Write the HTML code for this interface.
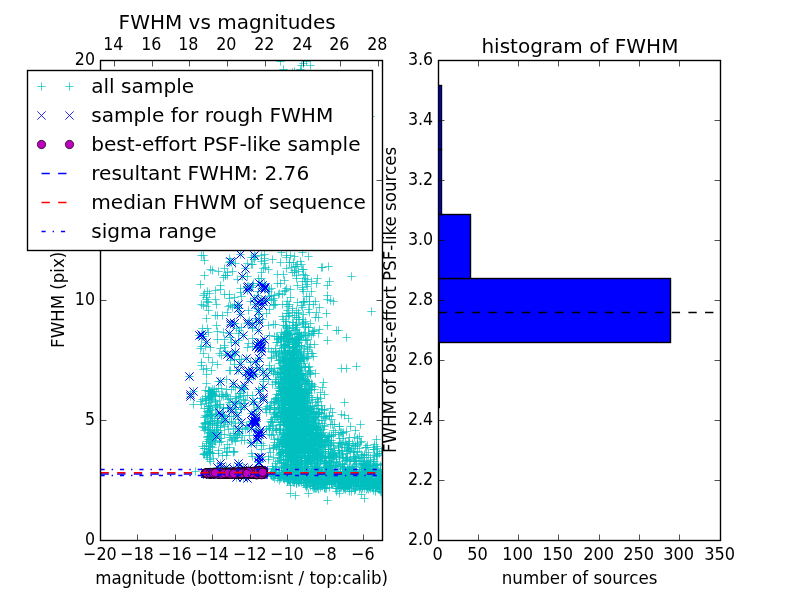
<!DOCTYPE html>
<html lang="en"><head><meta charset="utf-8"><title>FWHM vs magnitudes</title>
<style>html,body{margin:0;padding:0;background:#fff}body{width:800px;height:600px;overflow:hidden}svg{display:block}text{font-family:"DejaVu Sans","Liberation Sans",sans-serif;fill:#000}.t{font-size:16.67px}.l{font-size:20px}</style>
</head><body>
<svg width="800" height="600" viewBox="0 0 800 600">
<defs><clipPath id="c1"><rect x="100.5" y="60.5" width="282" height="480"/></clipPath><clipPath id="c2"><rect x="438.5" y="60.5" width="282" height="480"/></clipPath></defs>
<rect width="800" height="600" fill="#fff"/>
<g clip-path="url(#c1)">
<path d="M294.33 430.5h8.34M298.5 426.33v8.34M303.33 428.5h8.34M307.5 424.33v8.34M299.33 418.5h8.34M303.5 414.33v8.34M283.33 374.5h8.34M287.5 370.33v8.34M295.33 398.5h8.34M299.5 394.33v8.34M292.33 349.5h8.34M296.5 345.33v8.34M303.33 444.5h8.34M307.5 440.33v8.34M294.33 413.5h8.34M298.5 409.33v8.34M284.33 374.5h8.34M288.5 370.33v8.34M292.33 447.5h8.34M296.5 443.33v8.34M291.33 474.5h8.34M295.5 470.33v8.34M293.33 368.5h8.34M297.5 364.33v8.34M295.33 431.5h8.34M299.5 427.33v8.34M296.33 449.5h8.34M300.5 445.33v8.34M288.33 344.5h8.34M292.5 340.33v8.34M299.33 403.5h8.34M303.5 399.33v8.34M280.33 378.5h8.34M284.5 374.33v8.34M265.33 448.5h8.34M269.5 444.33v8.34M287.33 379.5h8.34M291.5 375.33v8.34M293.33 372.5h8.34M297.5 368.33v8.34M288.33 338.5h8.34M292.5 334.33v8.34M304.33 452.5h8.34M308.5 448.33v8.34M279.33 416.5h8.34M283.5 412.33v8.34M279.33 391.5h8.34M283.5 387.33v8.34M288.33 365.5h8.34M292.5 361.33v8.34M282.33 372.5h8.34M286.5 368.33v8.34M314.33 456.5h8.34M318.5 452.33v8.34M298.33 411.5h8.34M302.5 407.33v8.34M291.33 339.5h8.34M295.5 335.33v8.34M278.33 357.5h8.34M282.5 353.33v8.34M291.33 445.5h8.34M295.5 441.33v8.34M290.33 447.5h8.34M294.5 443.33v8.34M295.33 361.5h8.34M299.5 357.33v8.34M287.33 411.5h8.34M291.5 407.33v8.34M286.33 369.5h8.34M290.5 365.33v8.34M271.33 381.5h8.34M275.5 377.33v8.34M293.33 426.5h8.34M297.5 422.33v8.34M281.33 439.5h8.34M285.5 435.33v8.34M299.33 403.5h8.34M303.5 399.33v8.34M306.33 445.5h8.34M310.5 441.33v8.34M294.33 440.5h8.34M298.5 436.33v8.34M313.33 456.5h8.34M317.5 452.33v8.34M293.33 419.5h8.34M297.5 415.33v8.34M295.33 417.5h8.34M299.5 413.33v8.34M294.33 405.5h8.34M298.5 401.33v8.34M291.33 400.5h8.34M295.5 396.33v8.34M278.33 401.5h8.34M282.5 397.33v8.34M284.33 427.5h8.34M288.5 423.33v8.34M280.33 394.5h8.34M284.5 390.33v8.34M294.33 396.5h8.34M298.5 392.33v8.34M280.33 424.5h8.34M284.5 420.33v8.34M296.33 452.5h8.34M300.5 448.33v8.34M291.33 385.5h8.34M295.5 381.33v8.34M296.33 374.5h8.34M300.5 370.33v8.34M285.33 389.5h8.34M289.5 385.33v8.34M286.33 450.5h8.34M290.5 446.33v8.34M281.33 411.5h8.34M285.5 407.33v8.34M298.33 395.5h8.34M302.5 391.33v8.34M335.33 442.5h8.34M339.5 438.33v8.34M280.33 333.5h8.34M284.5 329.33v8.34M300.33 407.5h8.34M304.5 403.33v8.34M291.33 417.5h8.34M295.5 413.33v8.34M289.33 428.5h8.34M293.5 424.33v8.34M290.33 439.5h8.34M294.5 435.33v8.34M285.33 447.5h8.34M289.5 443.33v8.34M290.33 386.5h8.34M294.5 382.33v8.34M283.33 466.5h8.34M287.5 462.33v8.34M286.33 448.5h8.34M290.5 444.33v8.34M289.33 374.5h8.34M293.5 370.33v8.34M307.33 472.5h8.34M311.5 468.33v8.34M281.33 392.5h8.34M285.5 388.33v8.34M285.33 403.5h8.34M289.5 399.33v8.34M292.33 384.5h8.34M296.5 380.33v8.34M289.33 380.5h8.34M293.5 376.33v8.34M280.33 411.5h8.34M284.5 407.33v8.34M280.33 380.5h8.34M284.5 376.33v8.34M286.33 428.5h8.34M290.5 424.33v8.34M285.33 383.5h8.34M289.5 379.33v8.34M290.33 364.5h8.34M294.5 360.33v8.34M297.33 420.5h8.34M301.5 416.33v8.34M274.33 388.5h8.34M278.5 384.33v8.34M276.33 379.5h8.34M280.5 375.33v8.34M294.33 465.5h8.34M298.5 461.33v8.34M287.33 362.5h8.34M291.5 358.33v8.34M289.33 409.5h8.34M293.5 405.33v8.34M306.33 434.5h8.34M310.5 430.33v8.34M294.33 373.5h8.34M298.5 369.33v8.34M295.33 428.5h8.34M299.5 424.33v8.34M287.33 394.5h8.34M291.5 390.33v8.34M304.33 356.5h8.34M308.5 352.33v8.34M283.33 344.5h8.34M287.5 340.33v8.34M283.33 334.5h8.34M287.5 330.33v8.34M293.33 417.5h8.34M297.5 413.33v8.34M289.33 357.5h8.34M293.5 353.33v8.34M291.33 467.5h8.34M295.5 463.33v8.34M301.33 393.5h8.34M305.5 389.33v8.34M282.33 451.5h8.34M286.5 447.33v8.34M277.33 382.5h8.34M281.5 378.33v8.34M280.33 395.5h8.34M284.5 391.33v8.34M299.33 451.5h8.34M303.5 447.33v8.34M297.33 449.5h8.34M301.5 445.33v8.34M307.33 383.5h8.34M311.5 379.33v8.34M282.33 327.5h8.34M286.5 323.33v8.34M292.33 451.5h8.34M296.5 447.33v8.34M287.33 468.5h8.34M291.5 464.33v8.34M281.33 414.5h8.34M285.5 410.33v8.34M307.33 353.5h8.34M311.5 349.33v8.34M282.33 377.5h8.34M286.5 373.33v8.34M281.33 413.5h8.34M285.5 409.33v8.34M275.33 480.5h8.34M279.5 476.33v8.34M288.33 385.5h8.34M292.5 381.33v8.34M304.33 451.5h8.34M308.5 447.33v8.34M296.33 360.5h8.34M300.5 356.33v8.34M297.33 396.5h8.34M301.5 392.33v8.34M286.33 418.5h8.34M290.5 414.33v8.34M285.33 325.5h8.34M289.5 321.33v8.34M272.33 356.5h8.34M276.5 352.33v8.34M297.33 373.5h8.34M301.5 369.33v8.34M290.33 423.5h8.34M294.5 419.33v8.34M288.33 393.5h8.34M292.5 389.33v8.34M301.33 458.5h8.34M305.5 454.33v8.34M290.33 401.5h8.34M294.5 397.33v8.34M292.33 423.5h8.34M296.5 419.33v8.34M283.33 397.5h8.34M287.5 393.33v8.34M294.33 385.5h8.34M298.5 381.33v8.34M280.33 344.5h8.34M284.5 340.33v8.34M292.33 408.5h8.34M296.5 404.33v8.34M306.33 450.5h8.34M310.5 446.33v8.34M287.33 374.5h8.34M291.5 370.33v8.34M284.33 433.5h8.34M288.5 429.33v8.34M294.33 410.5h8.34M298.5 406.33v8.34M295.33 345.5h8.34M299.5 341.33v8.34M290.33 422.5h8.34M294.5 418.33v8.34M285.33 439.5h8.34M289.5 435.33v8.34M285.33 352.5h8.34M289.5 348.33v8.34M297.33 437.5h8.34M301.5 433.33v8.34M288.33 434.5h8.34M292.5 430.33v8.34M311.33 416.5h8.34M315.5 412.33v8.34M283.33 440.5h8.34M287.5 436.33v8.34M293.33 438.5h8.34M297.5 434.33v8.34M298.33 446.5h8.34M302.5 442.33v8.34M292.33 422.5h8.34M296.5 418.33v8.34M288.33 410.5h8.34M292.5 406.33v8.34M284.33 432.5h8.34M288.5 428.33v8.34M305.33 390.5h8.34M309.5 386.33v8.34M297.33 412.5h8.34M301.5 408.33v8.34M294.33 361.5h8.34M298.5 357.33v8.34M285.33 439.5h8.34M289.5 435.33v8.34M292.33 360.5h8.34M296.5 356.33v8.34M288.33 397.5h8.34M292.5 393.33v8.34M289.33 474.5h8.34M293.5 470.33v8.34M306.33 439.5h8.34M310.5 435.33v8.34M280.33 361.5h8.34M284.5 357.33v8.34M293.33 439.5h8.34M297.5 435.33v8.34M288.33 394.5h8.34M292.5 390.33v8.34M303.33 426.5h8.34M307.5 422.33v8.34M299.33 416.5h8.34M303.5 412.33v8.34M291.33 396.5h8.34M295.5 392.33v8.34M300.33 407.5h8.34M304.5 403.33v8.34M285.33 394.5h8.34M289.5 390.33v8.34M288.33 408.5h8.34M292.5 404.33v8.34M284.33 395.5h8.34M288.5 391.33v8.34M321.33 457.5h8.34M325.5 453.33v8.34M285.33 420.5h8.34M289.5 416.33v8.34M307.33 419.5h8.34M311.5 415.33v8.34M285.33 435.5h8.34M289.5 431.33v8.34M303.33 436.5h8.34M307.5 432.33v8.34M296.33 404.5h8.34M300.5 400.33v8.34M296.33 446.5h8.34M300.5 442.33v8.34M287.33 400.5h8.34M291.5 396.33v8.34M297.33 422.5h8.34M301.5 418.33v8.34M297.33 388.5h8.34M301.5 384.33v8.34M305.33 418.5h8.34M309.5 414.33v8.34M289.33 411.5h8.34M293.5 407.33v8.34M316.33 436.5h8.34M320.5 432.33v8.34M295.33 391.5h8.34M299.5 387.33v8.34M279.33 358.5h8.34M283.5 354.33v8.34M288.33 346.5h8.34M292.5 342.33v8.34M301.33 474.5h8.34M305.5 470.33v8.34M291.33 424.5h8.34M295.5 420.33v8.34M288.33 423.5h8.34M292.5 419.33v8.34M292.33 357.5h8.34M296.5 353.33v8.34M303.33 339.5h8.34M307.5 335.33v8.34M283.33 465.5h8.34M287.5 461.33v8.34M297.33 444.5h8.34M301.5 440.33v8.34M286.33 383.5h8.34M290.5 379.33v8.34M282.33 313.5h8.34M286.5 309.33v8.34M292.33 431.5h8.34M296.5 427.33v8.34M291.33 352.5h8.34M295.5 348.33v8.34M288.33 386.5h8.34M292.5 382.33v8.34M301.33 432.5h8.34M305.5 428.33v8.34M299.33 429.5h8.34M303.5 425.33v8.34M287.33 416.5h8.34M291.5 412.33v8.34M302.33 450.5h8.34M306.5 446.33v8.34M308.33 459.5h8.34M312.5 455.33v8.34M290.33 395.5h8.34M294.5 391.33v8.34M292.33 436.5h8.34M296.5 432.33v8.34M298.33 415.5h8.34M302.5 411.33v8.34M304.33 430.5h8.34M308.5 426.33v8.34M290.33 411.5h8.34M294.5 407.33v8.34M287.33 464.5h8.34M291.5 460.33v8.34M294.33 333.5h8.34M298.5 329.33v8.34M289.33 426.5h8.34M293.5 422.33v8.34M298.33 424.5h8.34M302.5 420.33v8.34M295.33 347.5h8.34M299.5 343.33v8.34M285.33 393.5h8.34M289.5 389.33v8.34M281.33 410.5h8.34M285.5 406.33v8.34M283.33 446.5h8.34M287.5 442.33v8.34M281.33 471.5h8.34M285.5 467.33v8.34M294.33 367.5h8.34M298.5 363.33v8.34M287.33 428.5h8.34M291.5 424.33v8.34M294.33 446.5h8.34M298.5 442.33v8.34M285.33 368.5h8.34M289.5 364.33v8.34M279.33 353.5h8.34M283.5 349.33v8.34M296.33 455.5h8.34M300.5 451.33v8.34M284.33 397.5h8.34M288.5 393.33v8.34M288.33 387.5h8.34M292.5 383.33v8.34M295.33 446.5h8.34M299.5 442.33v8.34M291.33 409.5h8.34M295.5 405.33v8.34M301.33 441.5h8.34M305.5 437.33v8.34M287.33 367.5h8.34M291.5 363.33v8.34M289.33 444.5h8.34M293.5 440.33v8.34M294.33 468.5h8.34M298.5 464.33v8.34M297.33 412.5h8.34M301.5 408.33v8.34M304.33 456.5h8.34M308.5 452.33v8.34M293.33 455.5h8.34M297.5 451.33v8.34M293.33 440.5h8.34M297.5 436.33v8.34M286.33 379.5h8.34M290.5 375.33v8.34M300.33 453.5h8.34M304.5 449.33v8.34M292.33 453.5h8.34M296.5 449.33v8.34M290.33 315.5h8.34M294.5 311.33v8.34M290.33 436.5h8.34M294.5 432.33v8.34M288.33 370.5h8.34M292.5 366.33v8.34M291.33 441.5h8.34M295.5 437.33v8.34M307.33 432.5h8.34M311.5 428.33v8.34M302.33 417.5h8.34M306.5 413.33v8.34M322.33 472.5h8.34M326.5 468.33v8.34M281.33 384.5h8.34M285.5 380.33v8.34M276.33 377.5h8.34M280.5 373.33v8.34M312.33 412.5h8.34M316.5 408.33v8.34M299.33 436.5h8.34M303.5 432.33v8.34M282.33 444.5h8.34M286.5 440.33v8.34M287.33 417.5h8.34M291.5 413.33v8.34M294.33 464.5h8.34M298.5 460.33v8.34M297.33 423.5h8.34M301.5 419.33v8.34M296.33 460.5h8.34M300.5 456.33v8.34M298.33 436.5h8.34M302.5 432.33v8.34M311.33 454.5h8.34M315.5 450.33v8.34M288.33 457.5h8.34M292.5 453.33v8.34M296.33 375.5h8.34M300.5 371.33v8.34M292.33 442.5h8.34M296.5 438.33v8.34M292.33 445.5h8.34M296.5 441.33v8.34M299.33 444.5h8.34M303.5 440.33v8.34M270.33 368.5h8.34M274.5 364.33v8.34M282.33 409.5h8.34M286.5 405.33v8.34M300.33 395.5h8.34M304.5 391.33v8.34M305.33 425.5h8.34M309.5 421.33v8.34M296.33 471.5h8.34M300.5 467.33v8.34M279.33 463.5h8.34M283.5 459.33v8.34M294.33 391.5h8.34M298.5 387.33v8.34M285.33 479.5h8.34M289.5 475.33v8.34M302.33 422.5h8.34M306.5 418.33v8.34M293.33 474.5h8.34M297.5 470.33v8.34M287.33 389.5h8.34M291.5 385.33v8.34M285.33 363.5h8.34M289.5 359.33v8.34M281.33 422.5h8.34M285.5 418.33v8.34M292.33 361.5h8.34M296.5 357.33v8.34M283.33 437.5h8.34M287.5 433.33v8.34M313.33 397.5h8.34M317.5 393.33v8.34M289.33 347.5h8.34M293.5 343.33v8.34M282.33 394.5h8.34M286.5 390.33v8.34M286.33 408.5h8.34M290.5 404.33v8.34M286.33 458.5h8.34M290.5 454.33v8.34M306.33 464.5h8.34M310.5 460.33v8.34M293.33 386.5h8.34M297.5 382.33v8.34M297.33 336.5h8.34M301.5 332.33v8.34M286.33 388.5h8.34M290.5 384.33v8.34M295.33 390.5h8.34M299.5 386.33v8.34M296.33 447.5h8.34M300.5 443.33v8.34M283.33 420.5h8.34M287.5 416.33v8.34M301.33 409.5h8.34M305.5 405.33v8.34M279.33 372.5h8.34M283.5 368.33v8.34M289.33 380.5h8.34M293.5 376.33v8.34M292.33 418.5h8.34M296.5 414.33v8.34M288.33 339.5h8.34M292.5 335.33v8.34M288.33 416.5h8.34M292.5 412.33v8.34M281.33 446.5h8.34M285.5 442.33v8.34M278.33 382.5h8.34M282.5 378.33v8.34M291.33 470.5h8.34M295.5 466.33v8.34M278.33 401.5h8.34M282.5 397.33v8.34M303.33 389.5h8.34M307.5 385.33v8.34M300.33 410.5h8.34M304.5 406.33v8.34M316.33 398.5h8.34M320.5 394.33v8.34M282.33 358.5h8.34M286.5 354.33v8.34M300.33 447.5h8.34M304.5 443.33v8.34M297.33 346.5h8.34M301.5 342.33v8.34M288.33 459.5h8.34M292.5 455.33v8.34M300.33 483.5h8.34M304.5 479.33v8.34M301.33 429.5h8.34M305.5 425.33v8.34M299.33 412.5h8.34M303.5 408.33v8.34M278.33 449.5h8.34M282.5 445.33v8.34M306.33 408.5h8.34M310.5 404.33v8.34M280.33 336.5h8.34M284.5 332.33v8.34M285.33 430.5h8.34M289.5 426.33v8.34M279.33 400.5h8.34M283.5 396.33v8.34M288.33 422.5h8.34M292.5 418.33v8.34M319.33 452.5h8.34M323.5 448.33v8.34M287.33 411.5h8.34M291.5 407.33v8.34M301.33 446.5h8.34M305.5 442.33v8.34M288.33 390.5h8.34M292.5 386.33v8.34M312.33 439.5h8.34M316.5 435.33v8.34M307.33 461.5h8.34M311.5 457.33v8.34M306.33 425.5h8.34M310.5 421.33v8.34M275.33 446.5h8.34M279.5 442.33v8.34M296.33 398.5h8.34M300.5 394.33v8.34M304.33 393.5h8.34M308.5 389.33v8.34M299.33 419.5h8.34M303.5 415.33v8.34M296.33 424.5h8.34M300.5 420.33v8.34M307.33 413.5h8.34M311.5 409.33v8.34M285.33 418.5h8.34M289.5 414.33v8.34M276.33 393.5h8.34M280.5 389.33v8.34M283.33 431.5h8.34M287.5 427.33v8.34M276.33 422.5h8.34M280.5 418.33v8.34M326.33 455.5h8.34M330.5 451.33v8.34M281.33 380.5h8.34M285.5 376.33v8.34M313.33 414.5h8.34M317.5 410.33v8.34M314.33 452.5h8.34M318.5 448.33v8.34M291.33 395.5h8.34M295.5 391.33v8.34M289.33 343.5h8.34M293.5 339.33v8.34M297.33 448.5h8.34M301.5 444.33v8.34M295.33 384.5h8.34M299.5 380.33v8.34M295.33 404.5h8.34M299.5 400.33v8.34M307.33 397.5h8.34M311.5 393.33v8.34M282.33 372.5h8.34M286.5 368.33v8.34M286.33 362.5h8.34M290.5 358.33v8.34M284.33 412.5h8.34M288.5 408.33v8.34M283.33 468.5h8.34M287.5 464.33v8.34M292.33 403.5h8.34M296.5 399.33v8.34M298.33 407.5h8.34M302.5 403.33v8.34M282.33 433.5h8.34M286.5 429.33v8.34M307.33 385.5h8.34M311.5 381.33v8.34M285.33 420.5h8.34M289.5 416.33v8.34M291.33 457.5h8.34M295.5 453.33v8.34M296.33 444.5h8.34M300.5 440.33v8.34M282.33 447.5h8.34M286.5 443.33v8.34M325.33 462.5h8.34M329.5 458.33v8.34M293.33 426.5h8.34M297.5 422.33v8.34M280.33 467.5h8.34M284.5 463.33v8.34M294.33 432.5h8.34M298.5 428.33v8.34M288.33 372.5h8.34M292.5 368.33v8.34M299.33 427.5h8.34M303.5 423.33v8.34M304.33 442.5h8.34M308.5 438.33v8.34M289.33 434.5h8.34M293.5 430.33v8.34M314.33 436.5h8.34M318.5 432.33v8.34M283.33 451.5h8.34M287.5 447.33v8.34M294.33 369.5h8.34M298.5 365.33v8.34M321.33 437.5h8.34M325.5 433.33v8.34M297.33 386.5h8.34M301.5 382.33v8.34M306.33 406.5h8.34M310.5 402.33v8.34M288.33 437.5h8.34M292.5 433.33v8.34M285.33 360.5h8.34M289.5 356.33v8.34M300.33 466.5h8.34M304.5 462.33v8.34M285.33 386.5h8.34M289.5 382.33v8.34M276.33 388.5h8.34M280.5 384.33v8.34M308.33 441.5h8.34M312.5 437.33v8.34M301.33 389.5h8.34M305.5 385.33v8.34M298.33 399.5h8.34M302.5 395.33v8.34M274.33 439.5h8.34M278.5 435.33v8.34M278.33 390.5h8.34M282.5 386.33v8.34M291.33 441.5h8.34M295.5 437.33v8.34M285.33 365.5h8.34M289.5 361.33v8.34M288.33 419.5h8.34M292.5 415.33v8.34M281.33 437.5h8.34M285.5 433.33v8.34M294.33 433.5h8.34M298.5 429.33v8.34M296.33 360.5h8.34M300.5 356.33v8.34M296.33 457.5h8.34M300.5 453.33v8.34M282.33 372.5h8.34M286.5 368.33v8.34M286.33 460.5h8.34M290.5 456.33v8.34M287.33 376.5h8.34M291.5 372.33v8.34M289.33 382.5h8.34M293.5 378.33v8.34M284.33 409.5h8.34M288.5 405.33v8.34M270.33 412.5h8.34M274.5 408.33v8.34M291.33 413.5h8.34M295.5 409.33v8.34M288.33 375.5h8.34M292.5 371.33v8.34M299.33 402.5h8.34M303.5 398.33v8.34M287.33 456.5h8.34M291.5 452.33v8.34M306.33 478.5h8.34M310.5 474.33v8.34M280.33 440.5h8.34M284.5 436.33v8.34M292.33 428.5h8.34M296.5 424.33v8.34M281.33 413.5h8.34M285.5 409.33v8.34M275.33 351.5h8.34M279.5 347.33v8.34M281.33 439.5h8.34M285.5 435.33v8.34M301.33 376.5h8.34M305.5 372.33v8.34M287.33 452.5h8.34M291.5 448.33v8.34M279.33 459.5h8.34M283.5 455.33v8.34M289.33 420.5h8.34M293.5 416.33v8.34M284.33 347.5h8.34M288.5 343.33v8.34M277.33 373.5h8.34M281.5 369.33v8.34M295.33 386.5h8.34M299.5 382.33v8.34M292.33 449.5h8.34M296.5 445.33v8.34M292.33 442.5h8.34M296.5 438.33v8.34M269.33 324.5h8.34M273.5 320.33v8.34M303.33 381.5h8.34M307.5 377.33v8.34M289.33 393.5h8.34M293.5 389.33v8.34M284.33 410.5h8.34M288.5 406.33v8.34M284.33 421.5h8.34M288.5 417.33v8.34M310.33 386.5h8.34M314.5 382.33v8.34M303.33 397.5h8.34M307.5 393.33v8.34M283.33 386.5h8.34M287.5 382.33v8.34M284.33 452.5h8.34M288.5 448.33v8.34M300.33 400.5h8.34M304.5 396.33v8.34M298.33 468.5h8.34M302.5 464.33v8.34M279.33 369.5h8.34M283.5 365.33v8.34M298.33 395.5h8.34M302.5 391.33v8.34M296.33 391.5h8.34M300.5 387.33v8.34M312.33 426.5h8.34M316.5 422.33v8.34M285.33 401.5h8.34M289.5 397.33v8.34M296.33 462.5h8.34M300.5 458.33v8.34M293.33 417.5h8.34M297.5 413.33v8.34M321.33 445.5h8.34M325.5 441.33v8.34M283.33 436.5h8.34M287.5 432.33v8.34M292.33 399.5h8.34M296.5 395.33v8.34M325.33 471.5h8.34M329.5 467.33v8.34M286.33 436.5h8.34M290.5 432.33v8.34M296.33 395.5h8.34M300.5 391.33v8.34M305.33 372.5h8.34M309.5 368.33v8.34M275.33 444.5h8.34M279.5 440.33v8.34M279.33 405.5h8.34M283.5 401.33v8.34M283.33 391.5h8.34M287.5 387.33v8.34M303.33 407.5h8.34M307.5 403.33v8.34M290.33 378.5h8.34M294.5 374.33v8.34M292.33 463.5h8.34M296.5 459.33v8.34M282.33 441.5h8.34M286.5 437.33v8.34M317.33 441.5h8.34M321.5 437.33v8.34M301.33 452.5h8.34M305.5 448.33v8.34M291.33 407.5h8.34M295.5 403.33v8.34M290.33 453.5h8.34M294.5 449.33v8.34M290.33 437.5h8.34M294.5 433.33v8.34M291.33 432.5h8.34M295.5 428.33v8.34M274.33 400.5h8.34M278.5 396.33v8.34M308.33 420.5h8.34M312.5 416.33v8.34M303.33 374.5h8.34M307.5 370.33v8.34M303.33 349.5h8.34M307.5 345.33v8.34M288.33 394.5h8.34M292.5 390.33v8.34M291.33 467.5h8.34M295.5 463.33v8.34M284.33 340.5h8.34M288.5 336.33v8.34M291.33 386.5h8.34M295.5 382.33v8.34M287.33 360.5h8.34M291.5 356.33v8.34M291.33 376.5h8.34M295.5 372.33v8.34M278.33 444.5h8.34M282.5 440.33v8.34M287.33 383.5h8.34M291.5 379.33v8.34M280.33 436.5h8.34M284.5 432.33v8.34M283.33 399.5h8.34M287.5 395.33v8.34M289.33 464.5h8.34M293.5 460.33v8.34M288.33 394.5h8.34M292.5 390.33v8.34M303.33 411.5h8.34M307.5 407.33v8.34M302.33 383.5h8.34M306.5 379.33v8.34M286.33 430.5h8.34M290.5 426.33v8.34M298.33 418.5h8.34M302.5 414.33v8.34M280.33 444.5h8.34M284.5 440.33v8.34M279.33 361.5h8.34M283.5 357.33v8.34M302.33 422.5h8.34M306.5 418.33v8.34M280.33 387.5h8.34M284.5 383.33v8.34M286.33 359.5h8.34M290.5 355.33v8.34M287.33 400.5h8.34M291.5 396.33v8.34M289.33 427.5h8.34M293.5 423.33v8.34M315.33 446.5h8.34M319.5 442.33v8.34M305.33 431.5h8.34M309.5 427.33v8.34M310.33 438.5h8.34M314.5 434.33v8.34M283.33 413.5h8.34M287.5 409.33v8.34M293.33 379.5h8.34M297.5 375.33v8.34M281.33 449.5h8.34M285.5 445.33v8.34M286.33 386.5h8.34M290.5 382.33v8.34M284.33 338.5h8.34M288.5 334.33v8.34M302.33 419.5h8.34M306.5 415.33v8.34M295.33 461.5h8.34M299.5 457.33v8.34M283.33 392.5h8.34M287.5 388.33v8.34M297.33 421.5h8.34M301.5 417.33v8.34M301.33 380.5h8.34M305.5 376.33v8.34M304.33 431.5h8.34M308.5 427.33v8.34M282.33 439.5h8.34M286.5 435.33v8.34M283.33 455.5h8.34M287.5 451.33v8.34M299.33 431.5h8.34M303.5 427.33v8.34M288.33 449.5h8.34M292.5 445.33v8.34M274.33 419.5h8.34M278.5 415.33v8.34M300.33 348.5h8.34M304.5 344.33v8.34M314.33 401.5h8.34M318.5 397.33v8.34M302.33 409.5h8.34M306.5 405.33v8.34M296.33 370.5h8.34M300.5 366.33v8.34M293.33 378.5h8.34M297.5 374.33v8.34M296.33 424.5h8.34M300.5 420.33v8.34M290.33 421.5h8.34M294.5 417.33v8.34M297.33 391.5h8.34M301.5 387.33v8.34M277.33 391.5h8.34M281.5 387.33v8.34M281.33 371.5h8.34M285.5 367.33v8.34M291.33 393.5h8.34M295.5 389.33v8.34M272.33 446.5h8.34M276.5 442.33v8.34M309.33 435.5h8.34M313.5 431.33v8.34M295.33 391.5h8.34M299.5 387.33v8.34M288.33 450.5h8.34M292.5 446.33v8.34M291.33 340.5h8.34M295.5 336.33v8.34M305.33 400.5h8.34M309.5 396.33v8.34M294.33 423.5h8.34M298.5 419.33v8.34M289.33 422.5h8.34M293.5 418.33v8.34M285.33 441.5h8.34M289.5 437.33v8.34M274.33 354.5h8.34M278.5 350.33v8.34M305.33 347.5h8.34M309.5 343.33v8.34M304.33 425.5h8.34M308.5 421.33v8.34M284.33 398.5h8.34M288.5 394.33v8.34M286.33 404.5h8.34M290.5 400.33v8.34M282.33 380.5h8.34M286.5 376.33v8.34M294.33 426.5h8.34M298.5 422.33v8.34M308.33 432.5h8.34M312.5 428.33v8.34M293.33 381.5h8.34M297.5 377.33v8.34M292.33 419.5h8.34M296.5 415.33v8.34M293.33 340.5h8.34M297.5 336.33v8.34M299.33 393.5h8.34M303.5 389.33v8.34M281.33 345.5h8.34M285.5 341.33v8.34M292.33 455.5h8.34M296.5 451.33v8.34M286.33 403.5h8.34M290.5 399.33v8.34M301.33 470.5h8.34M305.5 466.33v8.34M290.33 412.5h8.34M294.5 408.33v8.34M288.33 405.5h8.34M292.5 401.33v8.34M290.33 450.5h8.34M294.5 446.33v8.34M289.33 441.5h8.34M293.5 437.33v8.34M277.33 419.5h8.34M281.5 415.33v8.34M296.33 432.5h8.34M300.5 428.33v8.34M291.33 465.5h8.34M295.5 461.33v8.34M294.33 474.5h8.34M298.5 470.33v8.34M293.33 380.5h8.34M297.5 376.33v8.34M281.33 400.5h8.34M285.5 396.33v8.34M288.33 364.5h8.34M292.5 360.33v8.34M309.33 476.5h8.34M313.5 472.33v8.34M298.33 421.5h8.34M302.5 417.33v8.34M293.33 469.5h8.34M297.5 465.33v8.34M289.33 389.5h8.34M293.5 385.33v8.34M292.33 426.5h8.34M296.5 422.33v8.34M306.33 373.5h8.34M310.5 369.33v8.34M282.33 398.5h8.34M286.5 394.33v8.34M292.33 424.5h8.34M296.5 420.33v8.34M288.33 410.5h8.34M292.5 406.33v8.34M283.33 424.5h8.34M287.5 420.33v8.34M306.33 370.5h8.34M310.5 366.33v8.34M306.33 374.5h8.34M310.5 370.33v8.34M299.33 430.5h8.34M303.5 426.33v8.34M293.33 390.5h8.34M297.5 386.33v8.34M312.33 405.5h8.34M316.5 401.33v8.34M285.33 415.5h8.34M289.5 411.33v8.34M297.33 395.5h8.34M301.5 391.33v8.34M284.33 363.5h8.34M288.5 359.33v8.34M299.33 446.5h8.34M303.5 442.33v8.34M291.33 435.5h8.34M295.5 431.33v8.34M285.33 382.5h8.34M289.5 378.33v8.34M281.33 351.5h8.34M285.5 347.33v8.34M305.33 441.5h8.34M309.5 437.33v8.34M277.33 445.5h8.34M281.5 441.33v8.34M280.33 347.5h8.34M284.5 343.33v8.34M294.33 409.5h8.34M298.5 405.33v8.34M307.33 443.5h8.34M311.5 439.33v8.34M275.33 408.5h8.34M279.5 404.33v8.34M320.33 426.5h8.34M324.5 422.33v8.34M277.33 470.5h8.34M281.5 466.33v8.34M283.33 444.5h8.34M287.5 440.33v8.34M298.33 455.5h8.34M302.5 451.33v8.34M280.33 377.5h8.34M284.5 373.33v8.34M276.33 424.5h8.34M280.5 420.33v8.34M285.33 435.5h8.34M289.5 431.33v8.34M317.33 420.5h8.34M321.5 416.33v8.34M284.33 442.5h8.34M288.5 438.33v8.34M269.33 373.5h8.34M273.5 369.33v8.34M284.33 370.5h8.34M288.5 366.33v8.34M279.33 378.5h8.34M283.5 374.33v8.34M286.33 421.5h8.34M290.5 417.33v8.34M281.33 378.5h8.34M285.5 374.33v8.34M289.33 392.5h8.34M293.5 388.33v8.34M277.33 391.5h8.34M281.5 387.33v8.34M306.33 389.5h8.34M310.5 385.33v8.34M279.33 419.5h8.34M283.5 415.33v8.34M286.33 457.5h8.34M290.5 453.33v8.34M302.33 417.5h8.34M306.5 413.33v8.34M289.33 403.5h8.34M293.5 399.33v8.34M295.33 443.5h8.34M299.5 439.33v8.34M310.33 425.5h8.34M314.5 421.33v8.34M286.33 450.5h8.34M290.5 446.33v8.34M290.33 420.5h8.34M294.5 416.33v8.34M310.33 459.5h8.34M314.5 455.33v8.34M286.33 399.5h8.34M290.5 395.33v8.34M298.33 412.5h8.34M302.5 408.33v8.34M299.33 419.5h8.34M303.5 415.33v8.34M273.33 416.5h8.34M277.5 412.33v8.34M307.33 449.5h8.34M311.5 445.33v8.34M288.33 382.5h8.34M292.5 378.33v8.34M284.33 414.5h8.34M288.5 410.33v8.34M304.33 411.5h8.34M308.5 407.33v8.34M281.33 394.5h8.34M285.5 390.33v8.34M285.33 390.5h8.34M289.5 386.33v8.34M281.33 456.5h8.34M285.5 452.33v8.34M280.33 415.5h8.34M284.5 411.33v8.34M297.33 456.5h8.34M301.5 452.33v8.34M296.33 398.5h8.34M300.5 394.33v8.34M281.33 359.5h8.34M285.5 355.33v8.34M272.33 353.5h8.34M276.5 349.33v8.34M292.33 398.5h8.34M296.5 394.33v8.34M290.33 393.5h8.34M294.5 389.33v8.34M281.33 376.5h8.34M285.5 372.33v8.34M272.33 379.5h8.34M276.5 375.33v8.34M279.33 422.5h8.34M283.5 418.33v8.34M284.33 404.5h8.34M288.5 400.33v8.34M290.33 395.5h8.34M294.5 391.33v8.34M290.33 470.5h8.34M294.5 466.33v8.34M285.33 452.5h8.34M289.5 448.33v8.34M299.33 423.5h8.34M303.5 419.33v8.34M281.33 425.5h8.34M285.5 421.33v8.34M278.33 376.5h8.34M282.5 372.33v8.34M279.33 377.5h8.34M283.5 373.33v8.34M301.33 440.5h8.34M305.5 436.33v8.34M292.33 384.5h8.34M296.5 380.33v8.34M283.33 393.5h8.34M287.5 389.33v8.34M299.33 335.5h8.34M303.5 331.33v8.34M311.33 419.5h8.34M315.5 415.33v8.34M305.33 452.5h8.34M309.5 448.33v8.34M314.33 429.5h8.34M318.5 425.33v8.34M285.33 393.5h8.34M289.5 389.33v8.34M306.33 411.5h8.34M310.5 407.33v8.34M297.33 402.5h8.34M301.5 398.33v8.34M285.33 457.5h8.34M289.5 453.33v8.34M296.33 373.5h8.34M300.5 369.33v8.34M279.33 437.5h8.34M283.5 433.33v8.34M276.33 337.5h8.34M280.5 333.33v8.34M287.33 418.5h8.34M291.5 414.33v8.34M304.33 452.5h8.34M308.5 448.33v8.34M290.33 452.5h8.34M294.5 448.33v8.34M296.33 439.5h8.34M300.5 435.33v8.34M300.33 470.5h8.34M304.5 466.33v8.34M290.33 425.5h8.34M294.5 421.33v8.34M286.33 371.5h8.34M290.5 367.33v8.34M300.33 359.5h8.34M304.5 355.33v8.34M278.33 451.5h8.34M282.5 447.33v8.34M306.33 434.5h8.34M310.5 430.33v8.34M285.33 454.5h8.34M289.5 450.33v8.34M318.33 423.5h8.34M322.5 419.33v8.34M283.33 368.5h8.34M287.5 364.33v8.34M279.33 434.5h8.34M283.5 430.33v8.34M297.33 400.5h8.34M301.5 396.33v8.34M276.33 430.5h8.34M280.5 426.33v8.34M320.33 394.5h8.34M324.5 390.33v8.34M285.33 402.5h8.34M289.5 398.33v8.34M277.33 412.5h8.34M281.5 408.33v8.34M289.33 445.5h8.34M293.5 441.33v8.34M301.33 476.5h8.34M305.5 472.33v8.34M275.33 363.5h8.34M279.5 359.33v8.34M302.33 416.5h8.34M306.5 412.33v8.34M285.33 374.5h8.34M289.5 370.33v8.34M294.33 479.5h8.34M298.5 475.33v8.34M286.33 466.5h8.34M290.5 462.33v8.34M290.33 350.5h8.34M294.5 346.33v8.34M286.33 453.5h8.34M290.5 449.33v8.34M294.33 358.5h8.34M298.5 354.33v8.34M289.33 452.5h8.34M293.5 448.33v8.34M292.33 340.5h8.34M296.5 336.33v8.34M292.33 374.5h8.34M296.5 370.33v8.34M287.33 403.5h8.34M291.5 399.33v8.34M299.33 429.5h8.34M303.5 425.33v8.34M269.33 371.5h8.34M273.5 367.33v8.34M279.33 336.5h8.34M283.5 332.33v8.34M297.33 394.5h8.34M301.5 390.33v8.34M295.33 375.5h8.34M299.5 371.33v8.34M311.33 444.5h8.34M315.5 440.33v8.34M279.33 362.5h8.34M283.5 358.33v8.34M287.33 439.5h8.34M291.5 435.33v8.34M304.33 426.5h8.34M308.5 422.33v8.34M305.33 437.5h8.34M309.5 433.33v8.34M282.33 440.5h8.34M286.5 436.33v8.34M283.33 439.5h8.34M287.5 435.33v8.34M288.33 445.5h8.34M292.5 441.33v8.34M274.33 383.5h8.34M278.5 379.33v8.34M300.33 438.5h8.34M304.5 434.33v8.34M299.33 406.5h8.34M303.5 402.33v8.34M279.33 452.5h8.34M283.5 448.33v8.34M296.33 447.5h8.34M300.5 443.33v8.34M293.33 357.5h8.34M297.5 353.33v8.34M285.33 430.5h8.34M289.5 426.33v8.34M287.33 412.5h8.34M291.5 408.33v8.34M285.33 350.5h8.34M289.5 346.33v8.34M292.33 438.5h8.34M296.5 434.33v8.34M280.33 462.5h8.34M284.5 458.33v8.34M307.33 409.5h8.34M311.5 405.33v8.34M305.33 432.5h8.34M309.5 428.33v8.34M286.33 472.5h8.34M290.5 468.33v8.34M288.33 363.5h8.34M292.5 359.33v8.34M288.33 468.5h8.34M292.5 464.33v8.34M289.33 447.5h8.34M293.5 443.33v8.34M281.33 414.5h8.34M285.5 410.33v8.34M284.33 387.5h8.34M288.5 383.33v8.34M281.33 419.5h8.34M285.5 415.33v8.34M310.33 437.5h8.34M314.5 433.33v8.34M307.33 387.5h8.34M311.5 383.33v8.34M291.33 443.5h8.34M295.5 439.33v8.34M315.33 435.5h8.34M319.5 431.33v8.34M279.33 442.5h8.34M283.5 438.33v8.34M300.33 431.5h8.34M304.5 427.33v8.34M281.33 437.5h8.34M285.5 433.33v8.34M288.33 359.5h8.34M292.5 355.33v8.34M304.33 432.5h8.34M308.5 428.33v8.34M313.33 405.5h8.34M317.5 401.33v8.34M303.33 395.5h8.34M307.5 391.33v8.34M290.33 454.5h8.34M294.5 450.33v8.34M269.33 425.5h8.34M273.5 421.33v8.34M299.33 433.5h8.34M303.5 429.33v8.34M277.33 411.5h8.34M281.5 407.33v8.34M289.33 461.5h8.34M293.5 457.33v8.34M294.33 382.5h8.34M298.5 378.33v8.34M293.33 477.5h8.34M297.5 473.33v8.34M287.33 434.5h8.34M291.5 430.33v8.34M304.33 334.5h8.34M308.5 330.33v8.34M280.33 411.5h8.34M284.5 407.33v8.34M287.33 377.5h8.34M291.5 373.33v8.34M310.33 440.5h8.34M314.5 436.33v8.34M307.33 428.5h8.34M311.5 424.33v8.34M284.33 440.5h8.34M288.5 436.33v8.34M293.33 422.5h8.34M297.5 418.33v8.34M289.33 362.5h8.34M293.5 358.33v8.34M285.33 440.5h8.34M289.5 436.33v8.34M292.33 457.5h8.34M296.5 453.33v8.34M286.33 374.5h8.34M290.5 370.33v8.34M293.33 429.5h8.34M297.5 425.33v8.34M296.33 423.5h8.34M300.5 419.33v8.34M279.33 369.5h8.34M283.5 365.33v8.34M288.33 341.5h8.34M292.5 337.33v8.34M296.33 476.5h8.34M300.5 472.33v8.34M327.33 419.5h8.34M331.5 415.33v8.34M299.33 411.5h8.34M303.5 407.33v8.34M278.33 387.5h8.34M282.5 383.33v8.34M288.33 414.5h8.34M292.5 410.33v8.34M287.33 411.5h8.34M291.5 407.33v8.34M291.33 344.5h8.34M295.5 340.33v8.34M281.33 358.5h8.34M285.5 354.33v8.34M293.33 391.5h8.34M297.5 387.33v8.34M301.33 415.5h8.34M305.5 411.33v8.34M277.33 345.5h8.34M281.5 341.33v8.34M326.33 461.5h8.34M330.5 457.33v8.34M282.33 366.5h8.34M286.5 362.33v8.34M303.33 466.5h8.34M307.5 462.33v8.34M320.33 417.5h8.34M324.5 413.33v8.34M290.33 438.5h8.34M294.5 434.33v8.34M311.33 423.5h8.34M315.5 419.33v8.34M288.33 382.5h8.34M292.5 378.33v8.34M279.33 398.5h8.34M283.5 394.33v8.34M283.33 439.5h8.34M287.5 435.33v8.34M309.33 477.5h8.34M313.5 473.33v8.34M284.33 354.5h8.34M288.5 350.33v8.34M285.33 421.5h8.34M289.5 417.33v8.34M292.33 380.5h8.34M296.5 376.33v8.34M298.33 378.5h8.34M302.5 374.33v8.34M293.33 451.5h8.34M297.5 447.33v8.34M289.33 456.5h8.34M293.5 452.33v8.34M287.33 462.5h8.34M291.5 458.33v8.34M281.33 379.5h8.34M285.5 375.33v8.34M310.33 462.5h8.34M314.5 458.33v8.34M280.33 414.5h8.34M284.5 410.33v8.34M280.33 366.5h8.34M284.5 362.33v8.34M313.33 458.5h8.34M317.5 454.33v8.34M291.33 414.5h8.34M295.5 410.33v8.34M274.33 449.5h8.34M278.5 445.33v8.34M296.33 356.5h8.34M300.5 352.33v8.34M294.33 390.5h8.34M298.5 386.33v8.34M303.33 403.5h8.34M307.5 399.33v8.34M295.33 406.5h8.34M299.5 402.33v8.34M314.33 437.5h8.34M318.5 433.33v8.34M285.33 427.5h8.34M289.5 423.33v8.34M289.33 475.5h8.34M293.5 471.33v8.34M292.33 408.5h8.34M296.5 404.33v8.34M285.33 449.5h8.34M289.5 445.33v8.34M295.33 332.5h8.34M299.5 328.33v8.34M314.33 447.5h8.34M318.5 443.33v8.34M301.33 436.5h8.34M305.5 432.33v8.34M303.33 455.5h8.34M307.5 451.33v8.34M308.33 445.5h8.34M312.5 441.33v8.34M294.33 422.5h8.34M298.5 418.33v8.34M287.33 393.5h8.34M291.5 389.33v8.34M293.33 419.5h8.34M297.5 415.33v8.34M309.33 451.5h8.34M313.5 447.33v8.34M284.33 366.5h8.34M288.5 362.33v8.34M288.33 369.5h8.34M292.5 365.33v8.34M312.33 430.5h8.34M316.5 426.33v8.34M285.33 338.5h8.34M289.5 334.33v8.34M290.33 404.5h8.34M294.5 400.33v8.34M282.33 411.5h8.34M286.5 407.33v8.34M297.33 354.5h8.34M301.5 350.33v8.34M314.33 430.5h8.34M318.5 426.33v8.34M303.33 346.5h8.34M307.5 342.33v8.34M297.33 384.5h8.34M301.5 380.33v8.34M292.33 467.5h8.34M296.5 463.33v8.34M290.33 414.5h8.34M294.5 410.33v8.34M301.33 419.5h8.34M305.5 415.33v8.34M288.33 427.5h8.34M292.5 423.33v8.34M303.33 420.5h8.34M307.5 416.33v8.34M275.33 387.5h8.34M279.5 383.33v8.34M274.33 394.5h8.34M278.5 390.33v8.34M304.33 476.5h8.34M308.5 472.33v8.34M291.33 382.5h8.34M295.5 378.33v8.34M317.33 413.5h8.34M321.5 409.33v8.34M305.33 414.5h8.34M309.5 410.33v8.34M295.33 334.5h8.34M299.5 330.33v8.34M296.33 405.5h8.34M300.5 401.33v8.34M306.33 433.5h8.34M310.5 429.33v8.34M310.33 408.5h8.34M314.5 404.33v8.34M293.33 436.5h8.34M297.5 432.33v8.34M297.33 418.5h8.34M301.5 414.33v8.34M298.33 388.5h8.34M302.5 384.33v8.34M283.33 429.5h8.34M287.5 425.33v8.34M280.33 371.5h8.34M284.5 367.33v8.34M301.33 335.5h8.34M305.5 331.33v8.34M286.33 439.5h8.34M290.5 435.33v8.34M285.33 443.5h8.34M289.5 439.33v8.34M302.33 397.5h8.34M306.5 393.33v8.34M306.33 425.5h8.34M310.5 421.33v8.34M300.33 440.5h8.34M304.5 436.33v8.34M295.33 477.5h8.34M299.5 473.33v8.34M306.33 453.5h8.34M310.5 449.33v8.34M294.33 342.5h8.34M298.5 338.33v8.34M289.33 363.5h8.34M293.5 359.33v8.34M296.33 407.5h8.34M300.5 403.33v8.34M321.33 453.5h8.34M325.5 449.33v8.34M272.33 430.5h8.34M276.5 426.33v8.34M271.33 351.5h8.34M275.5 347.33v8.34M276.33 359.5h8.34M280.5 355.33v8.34M288.33 395.5h8.34M292.5 391.33v8.34M283.33 354.5h8.34M287.5 350.33v8.34M289.33 373.5h8.34M293.5 369.33v8.34M303.33 426.5h8.34M307.5 422.33v8.34M282.33 450.5h8.34M286.5 446.33v8.34M284.33 382.5h8.34M288.5 378.33v8.34M315.33 435.5h8.34M319.5 431.33v8.34M285.33 412.5h8.34M289.5 408.33v8.34M290.33 438.5h8.34M294.5 434.33v8.34M277.33 372.5h8.34M281.5 368.33v8.34M287.33 436.5h8.34M291.5 432.33v8.34M295.33 452.5h8.34M299.5 448.33v8.34M304.33 381.5h8.34M308.5 377.33v8.34M280.33 367.5h8.34M284.5 363.33v8.34M305.33 395.5h8.34M309.5 391.33v8.34M305.33 409.5h8.34M309.5 405.33v8.34M283.33 419.5h8.34M287.5 415.33v8.34M317.33 409.5h8.34M321.5 405.33v8.34M288.33 422.5h8.34M292.5 418.33v8.34M302.33 417.5h8.34M306.5 413.33v8.34M308.33 384.5h8.34M312.5 380.33v8.34M288.33 348.5h8.34M292.5 344.33v8.34M283.33 363.5h8.34M287.5 359.33v8.34M301.33 389.5h8.34M305.5 385.33v8.34M304.33 388.5h8.34M308.5 384.33v8.34M293.33 408.5h8.34M297.5 404.33v8.34M303.33 452.5h8.34M307.5 448.33v8.34M284.33 376.5h8.34M288.5 372.33v8.34M293.33 439.5h8.34M297.5 435.33v8.34M280.33 393.5h8.34M284.5 389.33v8.34M298.33 466.5h8.34M302.5 462.33v8.34M293.33 433.5h8.34M297.5 429.33v8.34M290.33 415.5h8.34M294.5 411.33v8.34M302.33 420.5h8.34M306.5 416.33v8.34M291.33 410.5h8.34M295.5 406.33v8.34M281.33 432.5h8.34M285.5 428.33v8.34M283.33 400.5h8.34M287.5 396.33v8.34M281.33 464.5h8.34M285.5 460.33v8.34M287.33 419.5h8.34M291.5 415.33v8.34M296.33 450.5h8.34M300.5 446.33v8.34M297.33 463.5h8.34M301.5 459.33v8.34M307.33 466.5h8.34M311.5 462.33v8.34M292.33 428.5h8.34M296.5 424.33v8.34M282.33 442.5h8.34M286.5 438.33v8.34M286.33 384.5h8.34M290.5 380.33v8.34M279.33 405.5h8.34M283.5 401.33v8.34M290.33 387.5h8.34M294.5 383.33v8.34M302.33 429.5h8.34M306.5 425.33v8.34M303.33 463.5h8.34M307.5 459.33v8.34M303.33 417.5h8.34M307.5 413.33v8.34M302.33 460.5h8.34M306.5 456.33v8.34M280.33 417.5h8.34M284.5 413.33v8.34M300.33 465.5h8.34M304.5 461.33v8.34M293.33 449.5h8.34M297.5 445.33v8.34M284.33 445.5h8.34M288.5 441.33v8.34M287.33 405.5h8.34M291.5 401.33v8.34M296.33 480.5h8.34M300.5 476.33v8.34M287.33 433.5h8.34M291.5 429.33v8.34M296.33 466.5h8.34M300.5 462.33v8.34M300.33 474.5h8.34M304.5 470.33v8.34M304.33 444.5h8.34M308.5 440.33v8.34M318.33 434.5h8.34M322.5 430.33v8.34M294.33 355.5h8.34M298.5 351.33v8.34M294.33 444.5h8.34M298.5 440.33v8.34M296.33 352.5h8.34M300.5 348.33v8.34M285.33 339.5h8.34M289.5 335.33v8.34M286.33 461.5h8.34M290.5 457.33v8.34M296.33 406.5h8.34M300.5 402.33v8.34M277.33 350.5h8.34M281.5 346.33v8.34M292.33 360.5h8.34M296.5 356.33v8.34M304.33 371.5h8.34M308.5 367.33v8.34M308.33 399.5h8.34M312.5 395.33v8.34M281.33 422.5h8.34M285.5 418.33v8.34M287.33 427.5h8.34M291.5 423.33v8.34M277.33 386.5h8.34M281.5 382.33v8.34M294.33 399.5h8.34M298.5 395.33v8.34M289.33 410.5h8.34M293.5 406.33v8.34M284.33 398.5h8.34M288.5 394.33v8.34M290.33 400.5h8.34M294.5 396.33v8.34M287.33 408.5h8.34M291.5 404.33v8.34M279.33 400.5h8.34M283.5 396.33v8.34M293.33 450.5h8.34M297.5 446.33v8.34M298.33 423.5h8.34M302.5 419.33v8.34M287.33 364.5h8.34M291.5 360.33v8.34M309.33 432.5h8.34M313.5 428.33v8.34M279.33 410.5h8.34M283.5 406.33v8.34M290.33 383.5h8.34M294.5 379.33v8.34M282.33 429.5h8.34M286.5 425.33v8.34M300.33 405.5h8.34M304.5 401.33v8.34M293.33 385.5h8.34M297.5 381.33v8.34M314.33 464.5h8.34M318.5 460.33v8.34M287.33 357.5h8.34M291.5 353.33v8.34M280.33 410.5h8.34M284.5 406.33v8.34M280.33 361.5h8.34M284.5 357.33v8.34M291.33 442.5h8.34M295.5 438.33v8.34M289.33 366.5h8.34M293.5 362.33v8.34M288.33 327.5h8.34M292.5 323.33v8.34M311.33 434.5h8.34M315.5 430.33v8.34M288.33 407.5h8.34M292.5 403.33v8.34M292.33 444.5h8.34M296.5 440.33v8.34M325.33 445.5h8.34M329.5 441.33v8.34M288.33 411.5h8.34M292.5 407.33v8.34M310.33 417.5h8.34M314.5 413.33v8.34M273.33 402.5h8.34M277.5 398.33v8.34M294.33 442.5h8.34M298.5 438.33v8.34M287.33 403.5h8.34M291.5 399.33v8.34M287.33 395.5h8.34M291.5 391.33v8.34M295.33 409.5h8.34M299.5 405.33v8.34M299.33 411.5h8.34M303.5 407.33v8.34M281.33 371.5h8.34M285.5 367.33v8.34M287.33 433.5h8.34M291.5 429.33v8.34M290.33 405.5h8.34M294.5 401.33v8.34M295.33 337.5h8.34M299.5 333.33v8.34M292.33 353.5h8.34M296.5 349.33v8.34M300.33 389.5h8.34M304.5 385.33v8.34M301.33 401.5h8.34M305.5 397.33v8.34M274.33 338.5h8.34M278.5 334.33v8.34M322.33 416.5h8.34M326.5 412.33v8.34M286.33 470.5h8.34M290.5 466.33v8.34M296.33 419.5h8.34M300.5 415.33v8.34M308.33 446.5h8.34M312.5 442.33v8.34M282.33 362.5h8.34M286.5 358.33v8.34M291.33 456.5h8.34M295.5 452.33v8.34M291.33 452.5h8.34M295.5 448.33v8.34M300.33 413.5h8.34M304.5 409.33v8.34M309.33 421.5h8.34M313.5 417.33v8.34M292.33 430.5h8.34M296.5 426.33v8.34M286.33 337.5h8.34M290.5 333.33v8.34M304.33 411.5h8.34M308.5 407.33v8.34M291.33 427.5h8.34M295.5 423.33v8.34M293.33 398.5h8.34M297.5 394.33v8.34M295.33 447.5h8.34M299.5 443.33v8.34M326.33 476.5h8.34M330.5 472.33v8.34M291.33 373.5h8.34M295.5 369.33v8.34M285.33 376.5h8.34M289.5 372.33v8.34M295.33 437.5h8.34M299.5 433.33v8.34M282.33 401.5h8.34M286.5 397.33v8.34M276.33 367.5h8.34M280.5 363.33v8.34M279.33 379.5h8.34M283.5 375.33v8.34M292.33 434.5h8.34M296.5 430.33v8.34M301.33 405.5h8.34M305.5 401.33v8.34M282.33 331.5h8.34M286.5 327.33v8.34M315.33 412.5h8.34M319.5 408.33v8.34M283.33 335.5h8.34M287.5 331.33v8.34M292.33 366.5h8.34M296.5 362.33v8.34M301.33 415.5h8.34M305.5 411.33v8.34M295.33 412.5h8.34M299.5 408.33v8.34M293.33 426.5h8.34M297.5 422.33v8.34M291.33 346.5h8.34M295.5 342.33v8.34M291.33 419.5h8.34M295.5 415.33v8.34M280.33 419.5h8.34M284.5 415.33v8.34M290.33 418.5h8.34M294.5 414.33v8.34M317.33 435.5h8.34M321.5 431.33v8.34M283.33 439.5h8.34M287.5 435.33v8.34M307.33 389.5h8.34M311.5 385.33v8.34M278.33 397.5h8.34M282.5 393.33v8.34M317.33 440.5h8.34M321.5 436.33v8.34M301.33 394.5h8.34M305.5 390.33v8.34M285.33 370.5h8.34M289.5 366.33v8.34M300.33 442.5h8.34M304.5 438.33v8.34M283.33 444.5h8.34M287.5 440.33v8.34M282.33 425.5h8.34M286.5 421.33v8.34M289.33 353.5h8.34M293.5 349.33v8.34M285.33 354.5h8.34M289.5 350.33v8.34M284.33 342.5h8.34M288.5 338.33v8.34M290.33 408.5h8.34M294.5 404.33v8.34M285.33 442.5h8.34M289.5 438.33v8.34M276.33 377.5h8.34M280.5 373.33v8.34M326.33 444.5h8.34M330.5 440.33v8.34M282.33 443.5h8.34M286.5 439.33v8.34M304.33 421.5h8.34M308.5 417.33v8.34M275.33 390.5h8.34M279.5 386.33v8.34M286.33 419.5h8.34M290.5 415.33v8.34M292.33 366.5h8.34M296.5 362.33v8.34M307.33 386.5h8.34M311.5 382.33v8.34M284.33 453.5h8.34M288.5 449.33v8.34M296.33 444.5h8.34M300.5 440.33v8.34M287.33 434.5h8.34M291.5 430.33v8.34M278.33 415.5h8.34M282.5 411.33v8.34M314.33 472.5h8.34M318.5 468.33v8.34M311.33 422.5h8.34M315.5 418.33v8.34M289.33 425.5h8.34M293.5 421.33v8.34M304.33 459.5h8.34M308.5 455.33v8.34M281.33 367.5h8.34M285.5 363.33v8.34M289.33 414.5h8.34M293.5 410.33v8.34M283.33 423.5h8.34M287.5 419.33v8.34M287.33 400.5h8.34M291.5 396.33v8.34M295.33 339.5h8.34M299.5 335.33v8.34M280.33 440.5h8.34M284.5 436.33v8.34M276.33 453.5h8.34M280.5 449.33v8.34M286.33 468.5h8.34M290.5 464.33v8.34M298.33 419.5h8.34M302.5 415.33v8.34M297.33 355.5h8.34M301.5 351.33v8.34M287.33 422.5h8.34M291.5 418.33v8.34M290.33 385.5h8.34M294.5 381.33v8.34M292.33 412.5h8.34M296.5 408.33v8.34M289.33 398.5h8.34M293.5 394.33v8.34M290.33 449.5h8.34M294.5 445.33v8.34M313.33 429.5h8.34M317.5 425.33v8.34M290.33 388.5h8.34M294.5 384.33v8.34M288.33 364.5h8.34M292.5 360.33v8.34M291.33 373.5h8.34M295.5 369.33v8.34M289.33 392.5h8.34M293.5 388.33v8.34M291.33 438.5h8.34M295.5 434.33v8.34M289.33 356.5h8.34M293.5 352.33v8.34M282.33 418.5h8.34M286.5 414.33v8.34M299.33 410.5h8.34M303.5 406.33v8.34M284.33 466.5h8.34M288.5 462.33v8.34M316.33 461.5h8.34M320.5 457.33v8.34M288.33 425.5h8.34M292.5 421.33v8.34M309.33 478.5h8.34M313.5 474.33v8.34M301.33 382.5h8.34M305.5 378.33v8.34M283.33 464.5h8.34M287.5 460.33v8.34M294.33 359.5h8.34M298.5 355.33v8.34M290.33 367.5h8.34M294.5 363.33v8.34M304.33 367.5h8.34M308.5 363.33v8.34M290.33 434.5h8.34M294.5 430.33v8.34M287.33 402.5h8.34M291.5 398.33v8.34M286.33 459.5h8.34M290.5 455.33v8.34M293.33 392.5h8.34M297.5 388.33v8.34M291.33 419.5h8.34M295.5 415.33v8.34M297.33 425.5h8.34M301.5 421.33v8.34M303.33 358.5h8.34M307.5 354.33v8.34M295.33 419.5h8.34M299.5 415.33v8.34M300.33 461.5h8.34M304.5 457.33v8.34M288.33 423.5h8.34M292.5 419.33v8.34M289.33 365.5h8.34M293.5 361.33v8.34M279.33 368.5h8.34M283.5 364.33v8.34M293.33 418.5h8.34M297.5 414.33v8.34M294.33 407.5h8.34M298.5 403.33v8.34M302.33 357.5h8.34M306.5 353.33v8.34M282.33 389.5h8.34M286.5 385.33v8.34M291.33 432.5h8.34M295.5 428.33v8.34M286.33 350.5h8.34M290.5 346.33v8.34M288.33 455.5h8.34M292.5 451.33v8.34M293.33 412.5h8.34M297.5 408.33v8.34M296.33 389.5h8.34M300.5 385.33v8.34M317.33 433.5h8.34M321.5 429.33v8.34M301.33 411.5h8.34M305.5 407.33v8.34M312.33 467.5h8.34M316.5 463.33v8.34M285.33 334.5h8.34M289.5 330.33v8.34M273.33 444.5h8.34M277.5 440.33v8.34M285.33 471.5h8.34M289.5 467.33v8.34M288.33 467.5h8.34M292.5 463.33v8.34M296.33 457.5h8.34M300.5 453.33v8.34M308.33 458.5h8.34M312.5 454.33v8.34M296.33 440.5h8.34M300.5 436.33v8.34M281.33 471.5h8.34M285.5 467.33v8.34M294.33 440.5h8.34M298.5 436.33v8.34M293.33 376.5h8.34M297.5 372.33v8.34M286.33 407.5h8.34M290.5 403.33v8.34M290.33 365.5h8.34M294.5 361.33v8.34M292.33 425.5h8.34M296.5 421.33v8.34M292.33 317.5h8.34M296.5 313.33v8.34M310.33 443.5h8.34M314.5 439.33v8.34M280.33 388.5h8.34M284.5 384.33v8.34M284.33 386.5h8.34M288.5 382.33v8.34M275.33 446.5h8.34M279.5 442.33v8.34M293.33 425.5h8.34M297.5 421.33v8.34M297.33 456.5h8.34M301.5 452.33v8.34M293.33 409.5h8.34M297.5 405.33v8.34M299.33 429.5h8.34M303.5 425.33v8.34M298.33 450.5h8.34M302.5 446.33v8.34M278.33 365.5h8.34M282.5 361.33v8.34M290.33 361.5h8.34M294.5 357.33v8.34M293.33 464.5h8.34M297.5 460.33v8.34M287.33 424.5h8.34M291.5 420.33v8.34M279.33 408.5h8.34M283.5 404.33v8.34M285.33 400.5h8.34M289.5 396.33v8.34M280.33 347.5h8.34M284.5 343.33v8.34M317.33 405.5h8.34M321.5 401.33v8.34M294.33 470.5h8.34M298.5 466.33v8.34M289.33 421.5h8.34M293.5 417.33v8.34M316.33 430.5h8.34M320.5 426.33v8.34M280.33 368.5h8.34M284.5 364.33v8.34M285.33 421.5h8.34M289.5 417.33v8.34M286.33 429.5h8.34M290.5 425.33v8.34M301.33 380.5h8.34M305.5 376.33v8.34M290.33 334.5h8.34M294.5 330.33v8.34M292.33 404.5h8.34M296.5 400.33v8.34M296.33 426.5h8.34M300.5 422.33v8.34M296.33 450.5h8.34M300.5 446.33v8.34M287.33 359.5h8.34M291.5 355.33v8.34M297.33 450.5h8.34M301.5 446.33v8.34M296.33 436.5h8.34M300.5 432.33v8.34M278.33 468.5h8.34M282.5 464.33v8.34M291.33 403.5h8.34M295.5 399.33v8.34M284.33 448.5h8.34M288.5 444.33v8.34M286.33 371.5h8.34M290.5 367.33v8.34M277.33 417.5h8.34M281.5 413.33v8.34M302.33 414.5h8.34M306.5 410.33v8.34M309.33 411.5h8.34M313.5 407.33v8.34M293.33 438.5h8.34M297.5 434.33v8.34M285.33 360.5h8.34M289.5 356.33v8.34M275.33 360.5h8.34M279.5 356.33v8.34M292.33 435.5h8.34M296.5 431.33v8.34M279.33 384.5h8.34M283.5 380.33v8.34M297.33 419.5h8.34M301.5 415.33v8.34M286.33 447.5h8.34M290.5 443.33v8.34M284.33 477.5h8.34M288.5 473.33v8.34M279.33 462.5h8.34M283.5 458.33v8.34M291.33 415.5h8.34M295.5 411.33v8.34M317.33 436.5h8.34M321.5 432.33v8.34M304.33 402.5h8.34M308.5 398.33v8.34M295.33 441.5h8.34M299.5 437.33v8.34M299.33 430.5h8.34M303.5 426.33v8.34M292.33 340.5h8.34M296.5 336.33v8.34M294.33 406.5h8.34M298.5 402.33v8.34M286.33 375.5h8.34M290.5 371.33v8.34M299.33 421.5h8.34M303.5 417.33v8.34M308.33 475.5h8.34M312.5 471.33v8.34M291.33 435.5h8.34M295.5 431.33v8.34M295.33 466.5h8.34M299.5 462.33v8.34M309.33 425.5h8.34M313.5 421.33v8.34M299.33 419.5h8.34M303.5 415.33v8.34M296.33 440.5h8.34M300.5 436.33v8.34M292.33 433.5h8.34M296.5 429.33v8.34M279.33 424.5h8.34M283.5 420.33v8.34M293.33 437.5h8.34M297.5 433.33v8.34M311.33 440.5h8.34M315.5 436.33v8.34M279.33 460.5h8.34M283.5 456.33v8.34M305.33 383.5h8.34M309.5 379.33v8.34M300.33 452.5h8.34M304.5 448.33v8.34M302.33 441.5h8.34M306.5 437.33v8.34M280.33 347.5h8.34M284.5 343.33v8.34M283.33 394.5h8.34M287.5 390.33v8.34M303.33 425.5h8.34M307.5 421.33v8.34M300.33 398.5h8.34M304.5 394.33v8.34M302.33 474.5h8.34M306.5 470.33v8.34M292.33 394.5h8.34M296.5 390.33v8.34M287.33 439.5h8.34M291.5 435.33v8.34M285.33 383.5h8.34M289.5 379.33v8.34M289.33 381.5h8.34M293.5 377.33v8.34M291.33 463.5h8.34M295.5 459.33v8.34M313.33 482.5h8.34M317.5 478.33v8.34M290.33 414.5h8.34M294.5 410.33v8.34M293.33 397.5h8.34M297.5 393.33v8.34M289.33 408.5h8.34M293.5 404.33v8.34M277.33 406.5h8.34M281.5 402.33v8.34M290.33 468.5h8.34M294.5 464.33v8.34M285.33 419.5h8.34M289.5 415.33v8.34M271.33 348.5h8.34M275.5 344.33v8.34M296.33 430.5h8.34M300.5 426.33v8.34M308.33 440.5h8.34M312.5 436.33v8.34M292.33 453.5h8.34M296.5 449.33v8.34M296.33 375.5h8.34M300.5 371.33v8.34M282.33 395.5h8.34M286.5 391.33v8.34M282.33 443.5h8.34M286.5 439.33v8.34M281.33 332.5h8.34M285.5 328.33v8.34M282.33 321.5h8.34M286.5 317.33v8.34M294.33 373.5h8.34M298.5 369.33v8.34M280.33 400.5h8.34M284.5 396.33v8.34M312.33 453.5h8.34M316.5 449.33v8.34M302.33 427.5h8.34M306.5 423.33v8.34M284.33 426.5h8.34M288.5 422.33v8.34M301.33 395.5h8.34M305.5 391.33v8.34M280.33 399.5h8.34M284.5 395.33v8.34M276.33 368.5h8.34M280.5 364.33v8.34M298.33 443.5h8.34M302.5 439.33v8.34M281.33 405.5h8.34M285.5 401.33v8.34M289.33 434.5h8.34M293.5 430.33v8.34M280.33 374.5h8.34M284.5 370.33v8.34M294.33 342.5h8.34M298.5 338.33v8.34M290.33 427.5h8.34M294.5 423.33v8.34M291.33 430.5h8.34M295.5 426.33v8.34M283.33 358.5h8.34M287.5 354.33v8.34M294.33 407.5h8.34M298.5 403.33v8.34M290.33 398.5h8.34M294.5 394.33v8.34M279.33 403.5h8.34M283.5 399.33v8.34M299.33 380.5h8.34M303.5 376.33v8.34M303.33 462.5h8.34M307.5 458.33v8.34M287.33 408.5h8.34M291.5 404.33v8.34M287.33 454.5h8.34M291.5 450.33v8.34M284.33 460.5h8.34M288.5 456.33v8.34M293.33 381.5h8.34M297.5 377.33v8.34M297.33 361.5h8.34M301.5 357.33v8.34M291.33 351.5h8.34M295.5 347.33v8.34M301.33 440.5h8.34M305.5 436.33v8.34M290.33 439.5h8.34M294.5 435.33v8.34M283.33 439.5h8.34M287.5 435.33v8.34M292.33 339.5h8.34M296.5 335.33v8.34M289.33 373.5h8.34M293.5 369.33v8.34M307.33 434.5h8.34M311.5 430.33v8.34M295.33 432.5h8.34M299.5 428.33v8.34M290.33 342.5h8.34M294.5 338.33v8.34M287.33 358.5h8.34M291.5 354.33v8.34M296.33 388.5h8.34M300.5 384.33v8.34M281.33 357.5h8.34M285.5 353.33v8.34M292.33 403.5h8.34M296.5 399.33v8.34M299.33 408.5h8.34M303.5 404.33v8.34M277.33 339.5h8.34M281.5 335.33v8.34M283.33 386.5h8.34M287.5 382.33v8.34M298.33 373.5h8.34M302.5 369.33v8.34M279.33 368.5h8.34M283.5 364.33v8.34M280.33 405.5h8.34M284.5 401.33v8.34M282.33 442.5h8.34M286.5 438.33v8.34M312.33 433.5h8.34M316.5 429.33v8.34M293.33 448.5h8.34M297.5 444.33v8.34M287.33 469.5h8.34M291.5 465.33v8.34M285.33 358.5h8.34M289.5 354.33v8.34M306.33 463.5h8.34M310.5 459.33v8.34M283.33 419.5h8.34M287.5 415.33v8.34M284.33 453.5h8.34M288.5 449.33v8.34M296.33 409.5h8.34M300.5 405.33v8.34M292.33 388.5h8.34M296.5 384.33v8.34M296.33 451.5h8.34M300.5 447.33v8.34M292.33 350.5h8.34M296.5 346.33v8.34M272.33 417.5h8.34M276.5 413.33v8.34M280.33 358.5h8.34M284.5 354.33v8.34M287.33 416.5h8.34M291.5 412.33v8.34M292.33 432.5h8.34M296.5 428.33v8.34M299.33 394.5h8.34M303.5 390.33v8.34M292.33 408.5h8.34M296.5 404.33v8.34M295.33 394.5h8.34M299.5 390.33v8.34M272.33 342.5h8.34M276.5 338.33v8.34M289.33 434.5h8.34M293.5 430.33v8.34M281.33 368.5h8.34M285.5 364.33v8.34M271.33 382.5h8.34M275.5 378.33v8.34M287.33 397.5h8.34M291.5 393.33v8.34M285.33 364.5h8.34M289.5 360.33v8.34M291.33 464.5h8.34M295.5 460.33v8.34M275.33 386.5h8.34M279.5 382.33v8.34M314.33 413.5h8.34M318.5 409.33v8.34M304.33 471.5h8.34M308.5 467.33v8.34M309.33 412.5h8.34M313.5 408.33v8.34M279.33 373.5h8.34M283.5 369.33v8.34M319.33 463.5h8.34M323.5 459.33v8.34M285.33 368.5h8.34M289.5 364.33v8.34M289.33 398.5h8.34M293.5 394.33v8.34M291.33 350.5h8.34M295.5 346.33v8.34M284.33 396.5h8.34M288.5 392.33v8.34M299.33 442.5h8.34M303.5 438.33v8.34M283.33 399.5h8.34M287.5 395.33v8.34M296.33 374.5h8.34M300.5 370.33v8.34M303.33 426.5h8.34M307.5 422.33v8.34M282.33 447.5h8.34M286.5 443.33v8.34M283.33 384.5h8.34M287.5 380.33v8.34M306.33 407.5h8.34M310.5 403.33v8.34M309.33 425.5h8.34M313.5 421.33v8.34M293.33 428.5h8.34M297.5 424.33v8.34M297.33 428.5h8.34M301.5 424.33v8.34M284.33 416.5h8.34M288.5 412.33v8.34M273.33 374.5h8.34M277.5 370.33v8.34M286.33 414.5h8.34M290.5 410.33v8.34M285.33 429.5h8.34M289.5 425.33v8.34M283.33 373.5h8.34M287.5 369.33v8.34M305.33 457.5h8.34M309.5 453.33v8.34M290.33 457.5h8.34M294.5 453.33v8.34M302.33 392.5h8.34M306.5 388.33v8.34M283.33 361.5h8.34M287.5 357.33v8.34M283.33 437.5h8.34M287.5 433.33v8.34M283.33 352.5h8.34M287.5 348.33v8.34M268.33 422.5h8.34M272.5 418.33v8.34M311.33 446.5h8.34M315.5 442.33v8.34M276.33 453.5h8.34M280.5 449.33v8.34M302.33 416.5h8.34M306.5 412.33v8.34M282.33 338.5h8.34M286.5 334.33v8.34M292.33 383.5h8.34M296.5 379.33v8.34M282.33 447.5h8.34M286.5 443.33v8.34M288.33 470.5h8.34M292.5 466.33v8.34M276.33 440.5h8.34M280.5 436.33v8.34M314.33 453.5h8.34M318.5 449.33v8.34M278.33 442.5h8.34M282.5 438.33v8.34M290.33 379.5h8.34M294.5 375.33v8.34M285.33 446.5h8.34M289.5 442.33v8.34M313.33 399.5h8.34M317.5 395.33v8.34M301.33 408.5h8.34M305.5 404.33v8.34M314.33 470.5h8.34M318.5 466.33v8.34M317.33 439.5h8.34M321.5 435.33v8.34M301.33 461.5h8.34M305.5 457.33v8.34M282.33 450.5h8.34M286.5 446.33v8.34M279.33 443.5h8.34M283.5 439.33v8.34M290.33 447.5h8.34M294.5 443.33v8.34M295.33 374.5h8.34M299.5 370.33v8.34M291.33 431.5h8.34M295.5 427.33v8.34M299.33 353.5h8.34M303.5 349.33v8.34M273.33 417.5h8.34M277.5 413.33v8.34M304.33 455.5h8.34M308.5 451.33v8.34M281.33 419.5h8.34M285.5 415.33v8.34M276.33 341.5h8.34M280.5 337.33v8.34M289.33 399.5h8.34M293.5 395.33v8.34M309.33 356.5h8.34M313.5 352.33v8.34M299.33 410.5h8.34M303.5 406.33v8.34M287.33 419.5h8.34M291.5 415.33v8.34M313.33 438.5h8.34M317.5 434.33v8.34M292.33 438.5h8.34M296.5 434.33v8.34M304.33 463.5h8.34M308.5 459.33v8.34M310.33 450.5h8.34M314.5 446.33v8.34M297.33 423.5h8.34M301.5 419.33v8.34M294.33 423.5h8.34M298.5 419.33v8.34M297.33 441.5h8.34M301.5 437.33v8.34M284.33 379.5h8.34M288.5 375.33v8.34M276.33 476.5h8.34M280.5 472.33v8.34M283.33 332.5h8.34M287.5 328.33v8.34M299.33 404.5h8.34M303.5 400.33v8.34M305.33 459.5h8.34M309.5 455.33v8.34M285.33 339.5h8.34M289.5 335.33v8.34M327.33 440.5h8.34M331.5 436.33v8.34M291.33 340.5h8.34M295.5 336.33v8.34M278.33 356.5h8.34M282.5 352.33v8.34M301.33 436.5h8.34M305.5 432.33v8.34M287.33 398.5h8.34M291.5 394.33v8.34M297.33 396.5h8.34M301.5 392.33v8.34M281.33 390.5h8.34M285.5 386.33v8.34M289.33 454.5h8.34M293.5 450.33v8.34M275.33 372.5h8.34M279.5 368.33v8.34M291.33 471.5h8.34M295.5 467.33v8.34M292.33 465.5h8.34M296.5 461.33v8.34M276.33 395.5h8.34M280.5 391.33v8.34M306.33 445.5h8.34M310.5 441.33v8.34M292.33 448.5h8.34M296.5 444.33v8.34M303.33 381.5h8.34M307.5 377.33v8.34M275.33 429.5h8.34M279.5 425.33v8.34M290.33 405.5h8.34M294.5 401.33v8.34M289.33 461.5h8.34M293.5 457.33v8.34M301.33 456.5h8.34M305.5 452.33v8.34M277.33 368.5h8.34M281.5 364.33v8.34M286.33 441.5h8.34M290.5 437.33v8.34M307.33 411.5h8.34M311.5 407.33v8.34M295.33 422.5h8.34M299.5 418.33v8.34M284.33 368.5h8.34M288.5 364.33v8.34M294.33 452.5h8.34M298.5 448.33v8.34M290.33 448.5h8.34M294.5 444.33v8.34M314.33 438.5h8.34M318.5 434.33v8.34M285.33 425.5h8.34M289.5 421.33v8.34M286.33 433.5h8.34M290.5 429.33v8.34M288.33 441.5h8.34M292.5 437.33v8.34M304.33 447.5h8.34M308.5 443.33v8.34M295.33 446.5h8.34M299.5 442.33v8.34M289.33 350.5h8.34M293.5 346.33v8.34M290.33 364.5h8.34M294.5 360.33v8.34M284.33 363.5h8.34M288.5 359.33v8.34M301.33 326.5h8.34M305.5 322.33v8.34M301.33 458.5h8.34M305.5 454.33v8.34M300.33 435.5h8.34M304.5 431.33v8.34M298.33 426.5h8.34M302.5 422.33v8.34M309.33 429.5h8.34M313.5 425.33v8.34M293.33 388.5h8.34M297.5 384.33v8.34M293.33 388.5h8.34M297.5 384.33v8.34M302.33 464.5h8.34M306.5 460.33v8.34M291.33 374.5h8.34M295.5 370.33v8.34M283.33 441.5h8.34M287.5 437.33v8.34M284.33 412.5h8.34M288.5 408.33v8.34M288.33 391.5h8.34M292.5 387.33v8.34M289.33 406.5h8.34M293.5 402.33v8.34M307.33 461.5h8.34M311.5 457.33v8.34M308.33 353.5h8.34M312.5 349.33v8.34M279.33 465.5h8.34M283.5 461.33v8.34M291.33 454.5h8.34M295.5 450.33v8.34M299.33 476.5h8.34M303.5 472.33v8.34M295.33 368.5h8.34M299.5 364.33v8.34M291.33 409.5h8.34M295.5 405.33v8.34M284.33 400.5h8.34M288.5 396.33v8.34M287.33 435.5h8.34M291.5 431.33v8.34M318.33 441.5h8.34M322.5 437.33v8.34M294.33 462.5h8.34M298.5 458.33v8.34M290.33 459.5h8.34M294.5 455.33v8.34M279.33 340.5h8.34M283.5 336.33v8.34M294.33 383.5h8.34M298.5 379.33v8.34M286.33 429.5h8.34M290.5 425.33v8.34M293.33 407.5h8.34M297.5 403.33v8.34M306.33 411.5h8.34M310.5 407.33v8.34M288.33 373.5h8.34M292.5 369.33v8.34M298.33 417.5h8.34M302.5 413.33v8.34M290.33 378.5h8.34M294.5 374.33v8.34M314.33 428.5h8.34M318.5 424.33v8.34M308.33 459.5h8.34M312.5 455.33v8.34M292.33 349.5h8.34M296.5 345.33v8.34M273.33 438.5h8.34M277.5 434.33v8.34M287.33 428.5h8.34M291.5 424.33v8.34M277.33 338.5h8.34M281.5 334.33v8.34M285.33 475.5h8.34M289.5 471.33v8.34M300.33 445.5h8.34M304.5 441.33v8.34M296.33 395.5h8.34M300.5 391.33v8.34M281.33 386.5h8.34M285.5 382.33v8.34M302.33 392.5h8.34M306.5 388.33v8.34M300.33 431.5h8.34M304.5 427.33v8.34M300.33 390.5h8.34M304.5 386.33v8.34M293.33 343.5h8.34M297.5 339.33v8.34M287.33 362.5h8.34M291.5 358.33v8.34M288.33 377.5h8.34M292.5 373.33v8.34M291.33 463.5h8.34M295.5 459.33v8.34M276.33 393.5h8.34M280.5 389.33v8.34M302.33 460.5h8.34M306.5 456.33v8.34M291.33 428.5h8.34M295.5 424.33v8.34M290.33 342.5h8.34M294.5 338.33v8.34M299.33 375.5h8.34M303.5 371.33v8.34M297.33 433.5h8.34M301.5 429.33v8.34M314.33 450.5h8.34M318.5 446.33v8.34M287.33 425.5h8.34M291.5 421.33v8.34M306.33 413.5h8.34M310.5 409.33v8.34M297.33 402.5h8.34M301.5 398.33v8.34M289.33 370.5h8.34M293.5 366.33v8.34M277.33 403.5h8.34M281.5 399.33v8.34M302.33 448.5h8.34M306.5 444.33v8.34M287.33 354.5h8.34M291.5 350.33v8.34M289.33 433.5h8.34M293.5 429.33v8.34M291.33 456.5h8.34M295.5 452.33v8.34M274.33 374.5h8.34M278.5 370.33v8.34M302.33 434.5h8.34M306.5 430.33v8.34M304.33 431.5h8.34M308.5 427.33v8.34M284.33 393.5h8.34M288.5 389.33v8.34M292.33 325.5h8.34M296.5 321.33v8.34M295.33 384.5h8.34M299.5 380.33v8.34M281.33 436.5h8.34M285.5 432.33v8.34M308.33 439.5h8.34M312.5 435.33v8.34M292.33 385.5h8.34M296.5 381.33v8.34M284.33 397.5h8.34M288.5 393.33v8.34M278.33 434.5h8.34M282.5 430.33v8.34M287.33 395.5h8.34M291.5 391.33v8.34M307.33 448.5h8.34M311.5 444.33v8.34M285.33 350.5h8.34M289.5 346.33v8.34M307.33 433.5h8.34M311.5 429.33v8.34M299.33 441.5h8.34M303.5 437.33v8.34M292.33 419.5h8.34M296.5 415.33v8.34M275.33 455.5h8.34M279.5 451.33v8.34M285.33 386.5h8.34M289.5 382.33v8.34M314.33 412.5h8.34M318.5 408.33v8.34M294.33 410.5h8.34M298.5 406.33v8.34M309.33 444.5h8.34M313.5 440.33v8.34M286.33 370.5h8.34M290.5 366.33v8.34M294.33 336.5h8.34M298.5 332.33v8.34M292.33 388.5h8.34M296.5 384.33v8.34M291.33 388.5h8.34M295.5 384.33v8.34M283.33 403.5h8.34M287.5 399.33v8.34M298.33 377.5h8.34M302.5 373.33v8.34M287.33 390.5h8.34M291.5 386.33v8.34M300.33 415.5h8.34M304.5 411.33v8.34M315.33 443.5h8.34M319.5 439.33v8.34M291.33 475.5h8.34M295.5 471.33v8.34M272.33 394.5h8.34M276.5 390.33v8.34M285.33 351.5h8.34M289.5 347.33v8.34M303.33 453.5h8.34M307.5 449.33v8.34M287.33 333.5h8.34M291.5 329.33v8.34M301.33 479.5h8.34M305.5 475.33v8.34M311.33 428.5h8.34M315.5 424.33v8.34M310.33 389.5h8.34M314.5 385.33v8.34M291.33 460.5h8.34M295.5 456.33v8.34M285.33 404.5h8.34M289.5 400.33v8.34M302.33 464.5h8.34M306.5 460.33v8.34M303.33 447.5h8.34M307.5 443.33v8.34M291.33 379.5h8.34M295.5 375.33v8.34M279.33 369.5h8.34M283.5 365.33v8.34M267.33 351.5h8.34M271.5 347.33v8.34M293.33 434.5h8.34M297.5 430.33v8.34M287.33 373.5h8.34M291.5 369.33v8.34M282.33 442.5h8.34M286.5 438.33v8.34M298.33 446.5h8.34M302.5 442.33v8.34M289.33 420.5h8.34M293.5 416.33v8.34M295.33 398.5h8.34M299.5 394.33v8.34M286.33 443.5h8.34M290.5 439.33v8.34M286.33 334.5h8.34M290.5 330.33v8.34M310.33 463.5h8.34M314.5 459.33v8.34M284.33 451.5h8.34M288.5 447.33v8.34M295.33 427.5h8.34M299.5 423.33v8.34M303.33 351.5h8.34M307.5 347.33v8.34M296.33 374.5h8.34M300.5 370.33v8.34M294.33 441.5h8.34M298.5 437.33v8.34M299.33 363.5h8.34M303.5 359.33v8.34M285.33 435.5h8.34M289.5 431.33v8.34M269.33 352.5h8.34M273.5 348.33v8.34M296.33 445.5h8.34M300.5 441.33v8.34M276.33 424.5h8.34M280.5 420.33v8.34M295.33 421.5h8.34M299.5 417.33v8.34M282.33 447.5h8.34M286.5 443.33v8.34M267.33 369.5h8.34M271.5 365.33v8.34M310.33 471.5h8.34M314.5 467.33v8.34M305.33 431.5h8.34M309.5 427.33v8.34M290.33 442.5h8.34M294.5 438.33v8.34M285.33 421.5h8.34M289.5 417.33v8.34M295.33 476.5h8.34M299.5 472.33v8.34M311.33 426.5h8.34M315.5 422.33v8.34M290.33 362.5h8.34M294.5 358.33v8.34M292.33 358.5h8.34M296.5 354.33v8.34M293.33 377.5h8.34M297.5 373.33v8.34M294.33 437.5h8.34M298.5 433.33v8.34M281.33 393.5h8.34M285.5 389.33v8.34M284.33 392.5h8.34M288.5 388.33v8.34M297.33 446.5h8.34M301.5 442.33v8.34M287.33 452.5h8.34M291.5 448.33v8.34M307.33 422.5h8.34M311.5 418.33v8.34M276.33 383.5h8.34M280.5 379.33v8.34M296.33 411.5h8.34M300.5 407.33v8.34M292.33 349.5h8.34M296.5 345.33v8.34M289.33 415.5h8.34M293.5 411.33v8.34M285.33 411.5h8.34M289.5 407.33v8.34M315.33 412.5h8.34M319.5 408.33v8.34M269.33 448.5h8.34M273.5 444.33v8.34M288.33 338.5h8.34M292.5 334.33v8.34M281.33 334.5h8.34M285.5 330.33v8.34M294.33 403.5h8.34M298.5 399.33v8.34M301.33 442.5h8.34M305.5 438.33v8.34M298.33 458.5h8.34M302.5 454.33v8.34M278.33 413.5h8.34M282.5 409.33v8.34M322.33 466.5h8.34M326.5 462.33v8.34M294.33 365.5h8.34M298.5 361.33v8.34M298.33 442.5h8.34M302.5 438.33v8.34M295.33 391.5h8.34M299.5 387.33v8.34M284.33 415.5h8.34M288.5 411.33v8.34M293.33 443.5h8.34M297.5 439.33v8.34M310.33 418.5h8.34M314.5 414.33v8.34M289.33 369.5h8.34M293.5 365.33v8.34M282.33 391.5h8.34M286.5 387.33v8.34M287.33 413.5h8.34M291.5 409.33v8.34M299.33 443.5h8.34M303.5 439.33v8.34M310.33 458.5h8.34M314.5 454.33v8.34M323.33 468.5h8.34M327.5 464.33v8.34M277.33 395.5h8.34M281.5 391.33v8.34M288.33 358.5h8.34M292.5 354.33v8.34M295.33 351.5h8.34M299.5 347.33v8.34M276.33 416.5h8.34M280.5 412.33v8.34M310.33 459.5h8.34M314.5 455.33v8.34M289.33 461.5h8.34M293.5 457.33v8.34M320.33 446.5h8.34M324.5 442.33v8.34M286.33 413.5h8.34M290.5 409.33v8.34M292.33 368.5h8.34M296.5 364.33v8.34M288.33 415.5h8.34M292.5 411.33v8.34M294.33 435.5h8.34M298.5 431.33v8.34M319.33 416.5h8.34M323.5 412.33v8.34M313.33 466.5h8.34M317.5 462.33v8.34M295.33 420.5h8.34M299.5 416.33v8.34M288.33 351.5h8.34M292.5 347.33v8.34M281.33 459.5h8.34M285.5 455.33v8.34M280.33 372.5h8.34M284.5 368.33v8.34M298.33 393.5h8.34M302.5 389.33v8.34M288.33 363.5h8.34M292.5 359.33v8.34M288.33 452.5h8.34M292.5 448.33v8.34M281.33 365.5h8.34M285.5 361.33v8.34M306.33 441.5h8.34M310.5 437.33v8.34M286.33 442.5h8.34M290.5 438.33v8.34M279.33 419.5h8.34M283.5 415.33v8.34M292.33 374.5h8.34M296.5 370.33v8.34M279.33 387.5h8.34M283.5 383.33v8.34M295.33 478.5h8.34M299.5 474.33v8.34M305.33 424.5h8.34M309.5 420.33v8.34M287.33 453.5h8.34M291.5 449.33v8.34M325.33 464.5h8.34M329.5 460.33v8.34M305.33 471.5h8.34M309.5 467.33v8.34M310.33 442.5h8.34M314.5 438.33v8.34M291.33 410.5h8.34M295.5 406.33v8.34M288.33 444.5h8.34M292.5 440.33v8.34M286.33 377.5h8.34M290.5 373.33v8.34M297.33 367.5h8.34M301.5 363.33v8.34M296.33 469.5h8.34M300.5 465.33v8.34M302.33 448.5h8.34M306.5 444.33v8.34M287.33 389.5h8.34M291.5 385.33v8.34M304.33 455.5h8.34M308.5 451.33v8.34M288.33 386.5h8.34M292.5 382.33v8.34M297.33 428.5h8.34M301.5 424.33v8.34M288.33 390.5h8.34M292.5 386.33v8.34M285.33 342.5h8.34M289.5 338.33v8.34M299.33 427.5h8.34M303.5 423.33v8.34M291.33 370.5h8.34M295.5 366.33v8.34M285.33 390.5h8.34M289.5 386.33v8.34M294.33 367.5h8.34M298.5 363.33v8.34M296.33 378.5h8.34M300.5 374.33v8.34M288.33 391.5h8.34M292.5 387.33v8.34M290.33 382.5h8.34M294.5 378.33v8.34M297.33 430.5h8.34M301.5 426.33v8.34M288.33 421.5h8.34M292.5 417.33v8.34M288.33 355.5h8.34M292.5 351.33v8.34M288.33 402.5h8.34M292.5 398.33v8.34M300.33 430.5h8.34M304.5 426.33v8.34M292.33 370.5h8.34M296.5 366.33v8.34M294.33 366.5h8.34M298.5 362.33v8.34M319.33 382.5h8.34M323.5 378.33v8.34M307.33 435.5h8.34M311.5 431.33v8.34M295.33 427.5h8.34M299.5 423.33v8.34M279.33 455.5h8.34M283.5 451.33v8.34M295.33 439.5h8.34M299.5 435.33v8.34M293.33 444.5h8.34M297.5 440.33v8.34M278.33 421.5h8.34M282.5 417.33v8.34M297.33 406.5h8.34M301.5 402.33v8.34M287.33 353.5h8.34M291.5 349.33v8.34M287.33 409.5h8.34M291.5 405.33v8.34M306.33 459.5h8.34M310.5 455.33v8.34M302.33 442.5h8.34M306.5 438.33v8.34M301.33 466.5h8.34M305.5 462.33v8.34M296.33 475.5h8.34M300.5 471.33v8.34M289.33 395.5h8.34M293.5 391.33v8.34M318.33 387.5h8.34M322.5 383.33v8.34M280.33 393.5h8.34M284.5 389.33v8.34M287.33 365.5h8.34M291.5 361.33v8.34M303.33 401.5h8.34M307.5 397.33v8.34M300.33 401.5h8.34M304.5 397.33v8.34M289.33 434.5h8.34M293.5 430.33v8.34M276.33 391.5h8.34M280.5 387.33v8.34M282.33 367.5h8.34M286.5 363.33v8.34M289.33 389.5h8.34M293.5 385.33v8.34M327.33 465.5h8.34M331.5 461.33v8.34M311.33 423.5h8.34M315.5 419.33v8.34M289.33 409.5h8.34M293.5 405.33v8.34M294.33 410.5h8.34M298.5 406.33v8.34M272.33 398.5h8.34M276.5 394.33v8.34M277.33 462.5h8.34M281.5 458.33v8.34M290.33 418.5h8.34M294.5 414.33v8.34M313.33 430.5h8.34M317.5 426.33v8.34M280.33 336.5h8.34M284.5 332.33v8.34M287.33 411.5h8.34M291.5 407.33v8.34M285.33 433.5h8.34M289.5 429.33v8.34M287.33 405.5h8.34M291.5 401.33v8.34M294.33 404.5h8.34M298.5 400.33v8.34M308.33 429.5h8.34M312.5 425.33v8.34M289.33 408.5h8.34M293.5 404.33v8.34M280.33 435.5h8.34M284.5 431.33v8.34M285.33 371.5h8.34M289.5 367.33v8.34M298.33 358.5h8.34M302.5 354.33v8.34M300.33 391.5h8.34M304.5 387.33v8.34M285.33 403.5h8.34M289.5 399.33v8.34M296.33 404.5h8.34M300.5 400.33v8.34M287.33 438.5h8.34M291.5 434.33v8.34M288.33 465.5h8.34M292.5 461.33v8.34M293.33 349.5h8.34M297.5 345.33v8.34M288.33 458.5h8.34M292.5 454.33v8.34M291.33 362.5h8.34M295.5 358.33v8.34M276.33 422.5h8.34M280.5 418.33v8.34M299.33 426.5h8.34M303.5 422.33v8.34M290.33 401.5h8.34M294.5 397.33v8.34M302.33 442.5h8.34M306.5 438.33v8.34M293.33 430.5h8.34M297.5 426.33v8.34M281.33 363.5h8.34M285.5 359.33v8.34M292.33 459.5h8.34M296.5 455.33v8.34M325.33 458.5h8.34M329.5 454.33v8.34M281.33 396.5h8.34M285.5 392.33v8.34M295.33 402.5h8.34M299.5 398.33v8.34M298.33 420.5h8.34M302.5 416.33v8.34M287.33 436.5h8.34M291.5 432.33v8.34M309.33 418.5h8.34M313.5 414.33v8.34M291.33 403.5h8.34M295.5 399.33v8.34M290.33 410.5h8.34M294.5 406.33v8.34M296.33 407.5h8.34M300.5 403.33v8.34M317.33 442.5h8.34M321.5 438.33v8.34M304.33 433.5h8.34M308.5 429.33v8.34M300.33 422.5h8.34M304.5 418.33v8.34M290.33 400.5h8.34M294.5 396.33v8.34M294.33 375.5h8.34M298.5 371.33v8.34M303.33 405.5h8.34M307.5 401.33v8.34M289.33 369.5h8.34M293.5 365.33v8.34M298.33 406.5h8.34M302.5 402.33v8.34M281.33 396.5h8.34M285.5 392.33v8.34M302.33 410.5h8.34M306.5 406.33v8.34M313.33 455.5h8.34M317.5 451.33v8.34M300.33 446.5h8.34M304.5 442.33v8.34M296.33 418.5h8.34M300.5 414.33v8.34M282.33 358.5h8.34M286.5 354.33v8.34M286.33 434.5h8.34M290.5 430.33v8.34M292.33 395.5h8.34M296.5 391.33v8.34M319.33 429.5h8.34M323.5 425.33v8.34M300.33 455.5h8.34M304.5 451.33v8.34M300.33 415.5h8.34M304.5 411.33v8.34M299.33 433.5h8.34M303.5 429.33v8.34M286.33 366.5h8.34M290.5 362.33v8.34M288.33 418.5h8.34M292.5 414.33v8.34M286.33 375.5h8.34M290.5 371.33v8.34M292.33 441.5h8.34M296.5 437.33v8.34M293.33 443.5h8.34M297.5 439.33v8.34M278.33 369.5h8.34M282.5 365.33v8.34M281.33 384.5h8.34M285.5 380.33v8.34M273.33 397.5h8.34M277.5 393.33v8.34M294.33 369.5h8.34M298.5 365.33v8.34M302.33 438.5h8.34M306.5 434.33v8.34M286.33 407.5h8.34M290.5 403.33v8.34M292.33 455.5h8.34M296.5 451.33v8.34M290.33 379.5h8.34M294.5 375.33v8.34M289.33 360.5h8.34M293.5 356.33v8.34M296.33 402.5h8.34M300.5 398.33v8.34M282.33 415.5h8.34M286.5 411.33v8.34M287.33 355.5h8.34M291.5 351.33v8.34M295.33 397.5h8.34M299.5 393.33v8.34M285.33 420.5h8.34M289.5 416.33v8.34M295.33 361.5h8.34M299.5 357.33v8.34M311.33 453.5h8.34M315.5 449.33v8.34M328.33 412.5h8.34M332.5 408.33v8.34M285.33 425.5h8.34M289.5 421.33v8.34M295.33 445.5h8.34M299.5 441.33v8.34M293.33 457.5h8.34M297.5 453.33v8.34M282.33 371.5h8.34M286.5 367.33v8.34M286.33 381.5h8.34M290.5 377.33v8.34M271.33 399.5h8.34M275.5 395.33v8.34M286.33 416.5h8.34M290.5 412.33v8.34M311.33 424.5h8.34M315.5 420.33v8.34M285.33 417.5h8.34M289.5 413.33v8.34M306.33 446.5h8.34M310.5 442.33v8.34M272.33 355.5h8.34M276.5 351.33v8.34M295.33 427.5h8.34M299.5 423.33v8.34M283.33 393.5h8.34M287.5 389.33v8.34M284.33 418.5h8.34M288.5 414.33v8.34M315.33 454.5h8.34M319.5 450.33v8.34M309.33 451.5h8.34M313.5 447.33v8.34M300.33 366.5h8.34M304.5 362.33v8.34M281.33 452.5h8.34M285.5 448.33v8.34M308.33 446.5h8.34M312.5 442.33v8.34M296.33 453.5h8.34M300.5 449.33v8.34M302.33 340.5h8.34M306.5 336.33v8.34M296.33 410.5h8.34M300.5 406.33v8.34M274.33 382.5h8.34M278.5 378.33v8.34M304.33 414.5h8.34M308.5 410.33v8.34M320.33 457.5h8.34M324.5 453.33v8.34M285.33 441.5h8.34M289.5 437.33v8.34M298.33 403.5h8.34M302.5 399.33v8.34M285.33 407.5h8.34M289.5 403.33v8.34M271.33 466.5h8.34M275.5 462.33v8.34M302.33 425.5h8.34M306.5 421.33v8.34M275.33 454.5h8.34M279.5 450.33v8.34M289.33 419.5h8.34M293.5 415.33v8.34M294.33 450.5h8.34M298.5 446.33v8.34M282.33 450.5h8.34M286.5 446.33v8.34M285.33 390.5h8.34M289.5 386.33v8.34M267.33 370.5h8.34M271.5 366.33v8.34M285.33 346.5h8.34M289.5 342.33v8.34M285.33 387.5h8.34M289.5 383.33v8.34M293.33 414.5h8.34M297.5 410.33v8.34M291.33 366.5h8.34M295.5 362.33v8.34M292.33 424.5h8.34M296.5 420.33v8.34M320.33 444.5h8.34M324.5 440.33v8.34M290.33 348.5h8.34M294.5 344.33v8.34M295.33 444.5h8.34M299.5 440.33v8.34M319.33 447.5h8.34M323.5 443.33v8.34M293.33 333.5h8.34M297.5 329.33v8.34M286.33 376.5h8.34M290.5 372.33v8.34M295.33 400.5h8.34M299.5 396.33v8.34M296.33 399.5h8.34M300.5 395.33v8.34M284.33 399.5h8.34M288.5 395.33v8.34M301.33 418.5h8.34M305.5 414.33v8.34M273.33 372.5h8.34M277.5 368.33v8.34M279.33 337.5h8.34M283.5 333.33v8.34M282.33 326.5h8.34M286.5 322.33v8.34M298.33 408.5h8.34M302.5 404.33v8.34M291.33 330.5h8.34M295.5 326.33v8.34M294.33 457.5h8.34M298.5 453.33v8.34M299.33 453.5h8.34M303.5 449.33v8.34M277.33 352.5h8.34M281.5 348.33v8.34M283.33 328.5h8.34M287.5 324.33v8.34M287.33 361.5h8.34M291.5 357.33v8.34M305.33 434.5h8.34M309.5 430.33v8.34M292.33 453.5h8.34M296.5 449.33v8.34M282.33 417.5h8.34M286.5 413.33v8.34M298.33 404.5h8.34M302.5 400.33v8.34M311.33 444.5h8.34M315.5 440.33v8.34M272.33 429.5h8.34M276.5 425.33v8.34M286.33 464.5h8.34M290.5 460.33v8.34M301.33 398.5h8.34M305.5 394.33v8.34M292.33 448.5h8.34M296.5 444.33v8.34M300.33 467.5h8.34M304.5 463.33v8.34M283.33 456.5h8.34M287.5 452.33v8.34M279.33 402.5h8.34M283.5 398.33v8.34M291.33 434.5h8.34M295.5 430.33v8.34M280.33 414.5h8.34M284.5 410.33v8.34M294.33 397.5h8.34M298.5 393.33v8.34M319.33 432.5h8.34M323.5 428.33v8.34M274.33 409.5h8.34M278.5 405.33v8.34M284.33 414.5h8.34M288.5 410.33v8.34M303.33 464.5h8.34M307.5 460.33v8.34M285.33 419.5h8.34M289.5 415.33v8.34M285.33 392.5h8.34M289.5 388.33v8.34M305.33 444.5h8.34M309.5 440.33v8.34M288.33 399.5h8.34M292.5 395.33v8.34M288.33 415.5h8.34M292.5 411.33v8.34M299.33 378.5h8.34M303.5 374.33v8.34M290.33 442.5h8.34M294.5 438.33v8.34M281.33 345.5h8.34M285.5 341.33v8.34M290.33 395.5h8.34M294.5 391.33v8.34M307.33 389.5h8.34M311.5 385.33v8.34M297.33 396.5h8.34M301.5 392.33v8.34M307.33 440.5h8.34M311.5 436.33v8.34M285.33 407.5h8.34M289.5 403.33v8.34M287.33 440.5h8.34M291.5 436.33v8.34M286.33 426.5h8.34M290.5 422.33v8.34M292.33 378.5h8.34M296.5 374.33v8.34M295.33 446.5h8.34M299.5 442.33v8.34M293.33 468.5h8.34M297.5 464.33v8.34M290.33 377.5h8.34M294.5 373.33v8.34M285.33 391.5h8.34M289.5 387.33v8.34M300.33 427.5h8.34M304.5 423.33v8.34M278.33 399.5h8.34M282.5 395.33v8.34M301.33 422.5h8.34M305.5 418.33v8.34M282.33 459.5h8.34M286.5 455.33v8.34M288.33 466.5h8.34M292.5 462.33v8.34M271.33 428.5h8.34M275.5 424.33v8.34M280.33 404.5h8.34M284.5 400.33v8.34M292.33 351.5h8.34M296.5 347.33v8.34M279.33 384.5h8.34M283.5 380.33v8.34M281.33 353.5h8.34M285.5 349.33v8.34M282.33 382.5h8.34M286.5 378.33v8.34M279.33 360.5h8.34M283.5 356.33v8.34M297.33 435.5h8.34M301.5 431.33v8.34M290.33 427.5h8.34M294.5 423.33v8.34M270.33 336.5h8.34M274.5 332.33v8.34M319.33 481.5h8.34M323.5 477.33v8.34M299.33 434.5h8.34M303.5 430.33v8.34M294.33 355.5h8.34M298.5 351.33v8.34M294.33 396.5h8.34M298.5 392.33v8.34M295.33 436.5h8.34M299.5 432.33v8.34M274.33 407.5h8.34M278.5 403.33v8.34M318.33 445.5h8.34M322.5 441.33v8.34M282.33 398.5h8.34M286.5 394.33v8.34M301.33 441.5h8.34M305.5 437.33v8.34M301.33 428.5h8.34M305.5 424.33v8.34M299.33 358.5h8.34M303.5 354.33v8.34M286.33 405.5h8.34M290.5 401.33v8.34M285.33 383.5h8.34M289.5 379.33v8.34M304.33 449.5h8.34M308.5 445.33v8.34M316.33 461.5h8.34M320.5 457.33v8.34M289.33 382.5h8.34M293.5 378.33v8.34M293.33 460.5h8.34M297.5 456.33v8.34M294.33 374.5h8.34M298.5 370.33v8.34M306.33 430.5h8.34M310.5 426.33v8.34M331.33 432.5h8.34M335.5 428.33v8.34M282.33 424.5h8.34M286.5 420.33v8.34M295.33 409.5h8.34M299.5 405.33v8.34M291.33 451.5h8.34M295.5 447.33v8.34M288.33 431.5h8.34M292.5 427.33v8.34M304.33 392.5h8.34M308.5 388.33v8.34M286.33 448.5h8.34M290.5 444.33v8.34M291.33 415.5h8.34M295.5 411.33v8.34M276.33 390.5h8.34M280.5 386.33v8.34M300.33 383.5h8.34M304.5 379.33v8.34M293.33 421.5h8.34M297.5 417.33v8.34M291.33 429.5h8.34M295.5 425.33v8.34M282.33 470.5h8.34M286.5 466.33v8.34M286.33 398.5h8.34M290.5 394.33v8.34M298.33 448.5h8.34M302.5 444.33v8.34M318.33 437.5h8.34M322.5 433.33v8.34M279.33 442.5h8.34M283.5 438.33v8.34M285.33 428.5h8.34M289.5 424.33v8.34M286.33 460.5h8.34M290.5 456.33v8.34M317.33 446.5h8.34M321.5 442.33v8.34M286.33 445.5h8.34M290.5 441.33v8.34M300.33 396.5h8.34M304.5 392.33v8.34M289.33 392.5h8.34M293.5 388.33v8.34M311.33 373.5h8.34M315.5 369.33v8.34M316.33 435.5h8.34M320.5 431.33v8.34M313.33 463.5h8.34M317.5 459.33v8.34M283.33 451.5h8.34M287.5 447.33v8.34M297.33 405.5h8.34M301.5 401.33v8.34M307.33 421.5h8.34M311.5 417.33v8.34M284.33 474.5h8.34M288.5 470.33v8.34M290.33 447.5h8.34M294.5 443.33v8.34M285.33 409.5h8.34M289.5 405.33v8.34M288.33 414.5h8.34M292.5 410.33v8.34M297.33 444.5h8.34M301.5 440.33v8.34M285.33 365.5h8.34M289.5 361.33v8.34M293.33 449.5h8.34M297.5 445.33v8.34M299.33 435.5h8.34M303.5 431.33v8.34M305.33 426.5h8.34M309.5 422.33v8.34M286.33 388.5h8.34M290.5 384.33v8.34M316.33 392.5h8.34M320.5 388.33v8.34M282.33 419.5h8.34M286.5 415.33v8.34M280.33 370.5h8.34M284.5 366.33v8.34M271.33 416.5h8.34M275.5 412.33v8.34M320.33 481.5h8.34M324.5 477.33v8.34M270.33 407.5h8.34M274.5 403.33v8.34M286.33 354.5h8.34M290.5 350.33v8.34M294.33 455.5h8.34M298.5 451.33v8.34M311.33 436.5h8.34M315.5 432.33v8.34M286.33 401.5h8.34M290.5 397.33v8.34M292.33 453.5h8.34M296.5 449.33v8.34M284.33 453.5h8.34M288.5 449.33v8.34M269.33 401.5h8.34M273.5 397.33v8.34M280.33 477.5h8.34M284.5 473.33v8.34M305.33 366.5h8.34M309.5 362.33v8.34M292.33 424.5h8.34M296.5 420.33v8.34M292.33 405.5h8.34M296.5 401.33v8.34M306.33 472.5h8.34M310.5 468.33v8.34M274.33 476.5h8.34M278.5 472.33v8.34M302.33 438.5h8.34M306.5 434.33v8.34M291.33 379.5h8.34M295.5 375.33v8.34M276.33 428.5h8.34M280.5 424.33v8.34M283.33 383.5h8.34M287.5 379.33v8.34M312.33 474.5h8.34M316.5 470.33v8.34M285.33 391.5h8.34M289.5 387.33v8.34M311.33 442.5h8.34M315.5 438.33v8.34M301.33 379.5h8.34M305.5 375.33v8.34M286.33 408.5h8.34M290.5 404.33v8.34M288.33 422.5h8.34M292.5 418.33v8.34M297.33 345.5h8.34M301.5 341.33v8.34M297.33 335.5h8.34M301.5 331.33v8.34M292.33 447.5h8.34M296.5 443.33v8.34M279.33 360.5h8.34M283.5 356.33v8.34M299.33 357.5h8.34M303.5 353.33v8.34M300.33 428.5h8.34M304.5 424.33v8.34M281.33 408.5h8.34M285.5 404.33v8.34M283.33 423.5h8.34M287.5 419.33v8.34M270.33 445.5h8.34M274.5 441.33v8.34M281.33 442.5h8.34M285.5 438.33v8.34M270.33 403.5h8.34M274.5 399.33v8.34M301.33 367.5h8.34M305.5 363.33v8.34M293.33 364.5h8.34M297.5 360.33v8.34M303.33 417.5h8.34M307.5 413.33v8.34M284.33 429.5h8.34M288.5 425.33v8.34M287.33 449.5h8.34M291.5 445.33v8.34M288.33 446.5h8.34M292.5 442.33v8.34M281.33 400.5h8.34M285.5 396.33v8.34M294.33 378.5h8.34M298.5 374.33v8.34M316.33 427.5h8.34M320.5 423.33v8.34M291.33 405.5h8.34M295.5 401.33v8.34M290.33 433.5h8.34M294.5 429.33v8.34M300.33 424.5h8.34M304.5 420.33v8.34M291.33 427.5h8.34M295.5 423.33v8.34M322.33 462.5h8.34M326.5 458.33v8.34M292.33 422.5h8.34M296.5 418.33v8.34M296.33 436.5h8.34M300.5 432.33v8.34M289.33 422.5h8.34M293.5 418.33v8.34M307.33 434.5h8.34M311.5 430.33v8.34M278.33 439.5h8.34M282.5 435.33v8.34M279.33 346.5h8.34M283.5 342.33v8.34M287.33 383.5h8.34M291.5 379.33v8.34M277.33 452.5h8.34M281.5 448.33v8.34M307.33 473.5h8.34M311.5 469.33v8.34M293.33 327.5h8.34M297.5 323.33v8.34M286.33 415.5h8.34M290.5 411.33v8.34M298.33 404.5h8.34M302.5 400.33v8.34M289.33 386.5h8.34M293.5 382.33v8.34M293.33 373.5h8.34M297.5 369.33v8.34M312.33 432.5h8.34M316.5 428.33v8.34M286.33 439.5h8.34M290.5 435.33v8.34M288.33 405.5h8.34M292.5 401.33v8.34M292.33 440.5h8.34M296.5 436.33v8.34M276.33 452.5h8.34M280.5 448.33v8.34M316.33 435.5h8.34M320.5 431.33v8.34M285.33 330.5h8.34M289.5 326.33v8.34M288.33 480.5h8.34M292.5 476.33v8.34M329.33 475.5h8.34M333.5 471.33v8.34M274.33 360.5h8.34M278.5 356.33v8.34M297.33 379.5h8.34M301.5 375.33v8.34M292.33 353.5h8.34M296.5 349.33v8.34M290.33 381.5h8.34M294.5 377.33v8.34M317.33 455.5h8.34M321.5 451.33v8.34M297.33 443.5h8.34M301.5 439.33v8.34M281.33 366.5h8.34M285.5 362.33v8.34M275.33 384.5h8.34M279.5 380.33v8.34M280.33 422.5h8.34M284.5 418.33v8.34M276.33 430.5h8.34M280.5 426.33v8.34M281.33 344.5h8.34M285.5 340.33v8.34M313.33 452.5h8.34M317.5 448.33v8.34M287.33 446.5h8.34M291.5 442.33v8.34M282.33 362.5h8.34M286.5 358.33v8.34M280.33 421.5h8.34M284.5 417.33v8.34M313.33 449.5h8.34M317.5 445.33v8.34M272.33 336.5h8.34M276.5 332.33v8.34M280.33 362.5h8.34M284.5 358.33v8.34M314.33 408.5h8.34M318.5 404.33v8.34M295.33 428.5h8.34M299.5 424.33v8.34M287.33 413.5h8.34M291.5 409.33v8.34M275.33 460.5h8.34M279.5 456.33v8.34M293.33 443.5h8.34M297.5 439.33v8.34M300.33 420.5h8.34M304.5 416.33v8.34M280.33 352.5h8.34M284.5 348.33v8.34M324.33 436.5h8.34M328.5 432.33v8.34M287.33 440.5h8.34M291.5 436.33v8.34M283.33 412.5h8.34M287.5 408.33v8.34M286.33 405.5h8.34M290.5 401.33v8.34M303.33 446.5h8.34M307.5 442.33v8.34M298.33 398.5h8.34M302.5 394.33v8.34M292.33 429.5h8.34M296.5 425.33v8.34M285.33 371.5h8.34M289.5 367.33v8.34M309.33 427.5h8.34M313.5 423.33v8.34M286.33 399.5h8.34M290.5 395.33v8.34M297.33 409.5h8.34M301.5 405.33v8.34M298.33 422.5h8.34M302.5 418.33v8.34M314.33 478.5h8.34M318.5 474.33v8.34M284.33 400.5h8.34M288.5 396.33v8.34M279.33 433.5h8.34M283.5 429.33v8.34M289.33 419.5h8.34M293.5 415.33v8.34M308.33 416.5h8.34M312.5 412.33v8.34M296.33 393.5h8.34M300.5 389.33v8.34M280.33 334.5h8.34M284.5 330.33v8.34M288.33 346.5h8.34M292.5 342.33v8.34M302.33 477.5h8.34M306.5 473.33v8.34M279.33 379.5h8.34M283.5 375.33v8.34M291.33 388.5h8.34M295.5 384.33v8.34M315.33 469.5h8.34M319.5 465.33v8.34M288.33 449.5h8.34M292.5 445.33v8.34M275.33 407.5h8.34M279.5 403.33v8.34M291.33 433.5h8.34M295.5 429.33v8.34M290.33 410.5h8.34M294.5 406.33v8.34M303.33 435.5h8.34M307.5 431.33v8.34M287.33 417.5h8.34M291.5 413.33v8.34M280.33 387.5h8.34M284.5 383.33v8.34M301.33 367.5h8.34M305.5 363.33v8.34M299.33 395.5h8.34M303.5 391.33v8.34M284.33 459.5h8.34M288.5 455.33v8.34M271.33 413.5h8.34M275.5 409.33v8.34M284.33 424.5h8.34M288.5 420.33v8.34M299.33 423.5h8.34M303.5 419.33v8.34M277.33 443.5h8.34M281.5 439.33v8.34M292.33 338.5h8.34M296.5 334.33v8.34M289.33 404.5h8.34M293.5 400.33v8.34M306.33 344.5h8.34M310.5 340.33v8.34M281.33 417.5h8.34M285.5 413.33v8.34M285.33 476.5h8.34M289.5 472.33v8.34M285.33 398.5h8.34M289.5 394.33v8.34M322.33 441.5h8.34M326.5 437.33v8.34M288.33 409.5h8.34M292.5 405.33v8.34M286.33 377.5h8.34M290.5 373.33v8.34M290.33 358.5h8.34M294.5 354.33v8.34M290.33 431.5h8.34M294.5 427.33v8.34M296.33 391.5h8.34M300.5 387.33v8.34M292.33 393.5h8.34M296.5 389.33v8.34M309.33 426.5h8.34M313.5 422.33v8.34M283.33 426.5h8.34M287.5 422.33v8.34M274.33 401.5h8.34M278.5 397.33v8.34M277.33 348.5h8.34M281.5 344.33v8.34M271.33 398.5h8.34M275.5 394.33v8.34M314.33 428.5h8.34M318.5 424.33v8.34M294.33 477.5h8.34M298.5 473.33v8.34M289.33 392.5h8.34M293.5 388.33v8.34M298.33 417.5h8.34M302.5 413.33v8.34M294.33 425.5h8.34M298.5 421.33v8.34M302.33 384.5h8.34M306.5 380.33v8.34M296.33 375.5h8.34M300.5 371.33v8.34M287.33 360.5h8.34M291.5 356.33v8.34M287.33 383.5h8.34M291.5 379.33v8.34M301.33 418.5h8.34M305.5 414.33v8.34M307.33 442.5h8.34M311.5 438.33v8.34M284.33 362.5h8.34M288.5 358.33v8.34M297.33 463.5h8.34M301.5 459.33v8.34M294.33 441.5h8.34M298.5 437.33v8.34M295.33 476.5h8.34M299.5 472.33v8.34M316.33 455.5h8.34M320.5 451.33v8.34M285.33 442.5h8.34M289.5 438.33v8.34M290.33 378.5h8.34M294.5 374.33v8.34M291.33 411.5h8.34M295.5 407.33v8.34M287.33 449.5h8.34M291.5 445.33v8.34M282.33 463.5h8.34M286.5 459.33v8.34M314.33 414.5h8.34M318.5 410.33v8.34M294.33 466.5h8.34M298.5 462.33v8.34M290.33 451.5h8.34M294.5 447.33v8.34M287.33 360.5h8.34M291.5 356.33v8.34M297.33 374.5h8.34M301.5 370.33v8.34M286.33 363.5h8.34M290.5 359.33v8.34M296.33 437.5h8.34M300.5 433.33v8.34M308.33 441.5h8.34M312.5 437.33v8.34M309.33 448.5h8.34M313.5 444.33v8.34M303.33 477.5h8.34M307.5 473.33v8.34M305.33 442.5h8.34M309.5 438.33v8.34M292.33 421.5h8.34M296.5 417.33v8.34M304.33 451.5h8.34M308.5 447.33v8.34M287.33 354.5h8.34M291.5 350.33v8.34M286.33 420.5h8.34M290.5 416.33v8.34M302.33 418.5h8.34M306.5 414.33v8.34M305.33 389.5h8.34M309.5 385.33v8.34M297.33 390.5h8.34M301.5 386.33v8.34M302.33 439.5h8.34M306.5 435.33v8.34M287.33 412.5h8.34M291.5 408.33v8.34M292.33 371.5h8.34M296.5 367.33v8.34M279.33 381.5h8.34M283.5 377.33v8.34M271.33 374.5h8.34M275.5 370.33v8.34M286.33 437.5h8.34M290.5 433.33v8.34M292.33 426.5h8.34M296.5 422.33v8.34M278.33 441.5h8.34M282.5 437.33v8.34M288.33 436.5h8.34M292.5 432.33v8.34M296.33 337.5h8.34M300.5 333.33v8.34M283.33 365.5h8.34M287.5 361.33v8.34M290.33 441.5h8.34M294.5 437.33v8.34M284.33 407.5h8.34M288.5 403.33v8.34M290.33 355.5h8.34M294.5 351.33v8.34M279.33 325.5h8.34M283.5 321.33v8.34M302.33 468.5h8.34M306.5 464.33v8.34M284.33 382.5h8.34M288.5 378.33v8.34M294.33 404.5h8.34M298.5 400.33v8.34M292.33 433.5h8.34M296.5 429.33v8.34M292.33 329.5h8.34M296.5 325.33v8.34M311.33 427.5h8.34M315.5 423.33v8.34M282.33 414.5h8.34M286.5 410.33v8.34M311.33 402.5h8.34M315.5 398.33v8.34M315.33 456.5h8.34M319.5 452.33v8.34M309.33 426.5h8.34M313.5 422.33v8.34M291.33 405.5h8.34M295.5 401.33v8.34M285.33 338.5h8.34M289.5 334.33v8.34M308.33 406.5h8.34M312.5 402.33v8.34M297.33 389.5h8.34M301.5 385.33v8.34M308.33 429.5h8.34M312.5 425.33v8.34M335.33 479.5h8.34M339.5 475.33v8.34M364.33 477.5h8.34M368.5 473.33v8.34M358.33 480.5h8.34M362.5 476.33v8.34M364.33 479.5h8.34M368.5 475.33v8.34M311.33 482.5h8.34M315.5 478.33v8.34M280.33 476.5h8.34M284.5 472.33v8.34M357.33 482.5h8.34M361.5 478.33v8.34M344.33 469.5h8.34M348.5 465.33v8.34M276.33 478.5h8.34M280.5 474.33v8.34M356.33 486.5h8.34M360.5 482.33v8.34M369.33 482.5h8.34M373.5 478.33v8.34M289.33 478.5h8.34M293.5 474.33v8.34M350.33 477.5h8.34M354.5 473.33v8.34M373.33 482.5h8.34M377.5 478.33v8.34M338.33 474.5h8.34M342.5 470.33v8.34M332.33 476.5h8.34M336.5 472.33v8.34M328.33 474.5h8.34M332.5 470.33v8.34M347.33 483.5h8.34M351.5 479.33v8.34M373.33 478.5h8.34M377.5 474.33v8.34M297.33 482.5h8.34M301.5 478.33v8.34M293.33 472.5h8.34M297.5 468.33v8.34M338.33 483.5h8.34M342.5 479.33v8.34M297.33 476.5h8.34M301.5 472.33v8.34M341.33 479.5h8.34M345.5 475.33v8.34M294.33 473.5h8.34M298.5 469.33v8.34M333.33 481.5h8.34M337.5 477.33v8.34M343.33 481.5h8.34M347.5 477.33v8.34M336.33 476.5h8.34M340.5 472.33v8.34M318.33 473.5h8.34M322.5 469.33v8.34M295.33 475.5h8.34M299.5 471.33v8.34M363.33 485.5h8.34M367.5 481.33v8.34M341.33 473.5h8.34M345.5 469.33v8.34M361.33 477.5h8.34M365.5 473.33v8.34M319.33 480.5h8.34M323.5 476.33v8.34M366.33 486.5h8.34M370.5 482.33v8.34M311.33 478.5h8.34M315.5 474.33v8.34M372.33 483.5h8.34M376.5 479.33v8.34M345.33 491.5h8.34M349.5 487.33v8.34M347.33 471.5h8.34M351.5 467.33v8.34M309.33 475.5h8.34M313.5 471.33v8.34M306.33 476.5h8.34M310.5 472.33v8.34M356.33 482.5h8.34M360.5 478.33v8.34M270.33 472.5h8.34M274.5 468.33v8.34M368.33 482.5h8.34M372.5 478.33v8.34M339.33 469.5h8.34M343.5 465.33v8.34M371.33 481.5h8.34M375.5 477.33v8.34M278.33 475.5h8.34M282.5 471.33v8.34M348.33 473.5h8.34M352.5 469.33v8.34M313.33 482.5h8.34M317.5 478.33v8.34M308.33 479.5h8.34M312.5 475.33v8.34M334.33 482.5h8.34M338.5 478.33v8.34M318.33 482.5h8.34M322.5 478.33v8.34M352.33 480.5h8.34M356.5 476.33v8.34M343.33 469.5h8.34M347.5 465.33v8.34M324.33 474.5h8.34M328.5 470.33v8.34M365.33 479.5h8.34M369.5 475.33v8.34M330.33 482.5h8.34M334.5 478.33v8.34M377.33 479.5h8.34M381.5 475.33v8.34M312.33 488.5h8.34M316.5 484.33v8.34M375.33 489.5h8.34M379.5 485.33v8.34M297.33 479.5h8.34M301.5 475.33v8.34M359.33 476.5h8.34M363.5 472.33v8.34M287.33 477.5h8.34M291.5 473.33v8.34M322.33 488.5h8.34M326.5 484.33v8.34M329.33 476.5h8.34M333.5 472.33v8.34M364.33 484.5h8.34M368.5 480.33v8.34M362.33 471.5h8.34M366.5 467.33v8.34M307.33 482.5h8.34M311.5 478.33v8.34M275.33 475.5h8.34M279.5 471.33v8.34M345.33 476.5h8.34M349.5 472.33v8.34M333.33 480.5h8.34M337.5 476.33v8.34M373.33 472.5h8.34M377.5 468.33v8.34M309.33 471.5h8.34M313.5 467.33v8.34M290.33 479.5h8.34M294.5 475.33v8.34M328.33 481.5h8.34M332.5 477.33v8.34M369.33 483.5h8.34M373.5 479.33v8.34M307.33 471.5h8.34M311.5 467.33v8.34M316.33 479.5h8.34M320.5 475.33v8.34M312.33 474.5h8.34M316.5 470.33v8.34M338.33 480.5h8.34M342.5 476.33v8.34M286.33 479.5h8.34M290.5 475.33v8.34M301.33 483.5h8.34M305.5 479.33v8.34M286.33 482.5h8.34M290.5 478.33v8.34M334.33 482.5h8.34M338.5 478.33v8.34M365.33 487.5h8.34M369.5 483.33v8.34M372.33 487.5h8.34M376.5 483.33v8.34M354.33 473.5h8.34M358.5 469.33v8.34M363.33 488.5h8.34M367.5 484.33v8.34M352.33 477.5h8.34M356.5 473.33v8.34M292.33 483.5h8.34M296.5 479.33v8.34M347.33 468.5h8.34M351.5 464.33v8.34M316.33 477.5h8.34M320.5 473.33v8.34M319.33 479.5h8.34M323.5 475.33v8.34M321.33 488.5h8.34M325.5 484.33v8.34M296.33 478.5h8.34M300.5 474.33v8.34M363.33 472.5h8.34M367.5 468.33v8.34M370.33 483.5h8.34M374.5 479.33v8.34M354.33 485.5h8.34M358.5 481.33v8.34M274.33 474.5h8.34M278.5 470.33v8.34M347.33 483.5h8.34M351.5 479.33v8.34M340.33 482.5h8.34M344.5 478.33v8.34M340.33 478.5h8.34M344.5 474.33v8.34M302.33 475.5h8.34M306.5 471.33v8.34M373.33 472.5h8.34M377.5 468.33v8.34M300.33 477.5h8.34M304.5 473.33v8.34M302.33 487.5h8.34M306.5 483.33v8.34M355.33 486.5h8.34M359.5 482.33v8.34M309.33 488.5h8.34M313.5 484.33v8.34M290.33 480.5h8.34M294.5 476.33v8.34M313.33 477.5h8.34M317.5 473.33v8.34M266.33 474.5h8.34M270.5 470.33v8.34M304.33 474.5h8.34M308.5 470.33v8.34M376.33 491.5h8.34M380.5 487.33v8.34M372.33 476.5h8.34M376.5 472.33v8.34M357.33 477.5h8.34M361.5 473.33v8.34M302.33 482.5h8.34M306.5 478.33v8.34M363.33 481.5h8.34M367.5 477.33v8.34M323.33 473.5h8.34M327.5 469.33v8.34M286.33 485.5h8.34M290.5 481.33v8.34M271.33 473.5h8.34M275.5 469.33v8.34M373.33 484.5h8.34M377.5 480.33v8.34M363.33 476.5h8.34M367.5 472.33v8.34M348.33 478.5h8.34M352.5 474.33v8.34M334.33 478.5h8.34M338.5 474.33v8.34M371.33 485.5h8.34M375.5 481.33v8.34M325.33 473.5h8.34M329.5 469.33v8.34M331.33 482.5h8.34M335.5 478.33v8.34M355.33 476.5h8.34M359.5 472.33v8.34M301.33 467.5h8.34M305.5 463.33v8.34M372.33 475.5h8.34M376.5 471.33v8.34M322.33 480.5h8.34M326.5 476.33v8.34M336.33 471.5h8.34M340.5 467.33v8.34M354.33 479.5h8.34M358.5 475.33v8.34M312.33 474.5h8.34M316.5 470.33v8.34M281.33 474.5h8.34M285.5 470.33v8.34M372.33 469.5h8.34M376.5 465.33v8.34M346.33 476.5h8.34M350.5 472.33v8.34M376.33 479.5h8.34M380.5 475.33v8.34M371.33 488.5h8.34M375.5 484.33v8.34M312.33 474.5h8.34M316.5 470.33v8.34M313.33 487.5h8.34M317.5 483.33v8.34M357.33 485.5h8.34M361.5 481.33v8.34M353.33 484.5h8.34M357.5 480.33v8.34M375.33 485.5h8.34M379.5 481.33v8.34M314.33 485.5h8.34M318.5 481.33v8.34M338.33 472.5h8.34M342.5 468.33v8.34M297.33 478.5h8.34M301.5 474.33v8.34M376.33 471.5h8.34M380.5 467.33v8.34M347.33 479.5h8.34M351.5 475.33v8.34M359.33 481.5h8.34M363.5 477.33v8.34M295.33 475.5h8.34M299.5 471.33v8.34M349.33 479.5h8.34M353.5 475.33v8.34M285.33 480.5h8.34M289.5 476.33v8.34M294.33 480.5h8.34M298.5 476.33v8.34M301.33 482.5h8.34M305.5 478.33v8.34M327.33 470.5h8.34M331.5 466.33v8.34M311.33 476.5h8.34M315.5 472.33v8.34M377.33 479.5h8.34M381.5 475.33v8.34M363.33 475.5h8.34M367.5 471.33v8.34M327.33 483.5h8.34M331.5 479.33v8.34M337.33 487.5h8.34M341.5 483.33v8.34M312.33 475.5h8.34M316.5 471.33v8.34M358.33 488.5h8.34M362.5 484.33v8.34M321.33 483.5h8.34M325.5 479.33v8.34M338.33 474.5h8.34M342.5 470.33v8.34M295.33 478.5h8.34M299.5 474.33v8.34M350.33 477.5h8.34M354.5 473.33v8.34M373.33 469.5h8.34M377.5 465.33v8.34M361.33 484.5h8.34M365.5 480.33v8.34M318.33 475.5h8.34M322.5 471.33v8.34M308.33 473.5h8.34M312.5 469.33v8.34M340.33 476.5h8.34M344.5 472.33v8.34M329.33 480.5h8.34M333.5 476.33v8.34M321.33 477.5h8.34M325.5 473.33v8.34M352.33 482.5h8.34M356.5 478.33v8.34M379.33 484.5h8.34M383.5 480.33v8.34M279.33 473.5h8.34M283.5 469.33v8.34M283.33 474.5h8.34M287.5 470.33v8.34M284.33 479.5h8.34M288.5 475.33v8.34M343.33 485.5h8.34M347.5 481.33v8.34M339.33 478.5h8.34M343.5 474.33v8.34M354.33 475.5h8.34M358.5 471.33v8.34M335.33 482.5h8.34M339.5 478.33v8.34M334.33 478.5h8.34M338.5 474.33v8.34M293.33 478.5h8.34M297.5 474.33v8.34M366.33 482.5h8.34M370.5 478.33v8.34M375.33 483.5h8.34M379.5 479.33v8.34M376.33 475.5h8.34M380.5 471.33v8.34M361.33 484.5h8.34M365.5 480.33v8.34M352.33 486.5h8.34M356.5 482.33v8.34M303.33 481.5h8.34M307.5 477.33v8.34M379.33 476.5h8.34M383.5 472.33v8.34M279.33 474.5h8.34M283.5 470.33v8.34M309.33 475.5h8.34M313.5 471.33v8.34M293.33 478.5h8.34M297.5 474.33v8.34M329.33 477.5h8.34M333.5 473.33v8.34M285.33 474.5h8.34M289.5 470.33v8.34M325.33 482.5h8.34M329.5 478.33v8.34M369.33 487.5h8.34M373.5 483.33v8.34M315.33 473.5h8.34M319.5 469.33v8.34M326.33 470.5h8.34M330.5 466.33v8.34M361.33 477.5h8.34M365.5 473.33v8.34M290.33 477.5h8.34M294.5 473.33v8.34M374.33 489.5h8.34M378.5 485.33v8.34M364.33 480.5h8.34M368.5 476.33v8.34M279.33 478.5h8.34M283.5 474.33v8.34M327.33 481.5h8.34M331.5 477.33v8.34M379.33 479.5h8.34M383.5 475.33v8.34M377.33 492.5h8.34M381.5 488.33v8.34M306.33 480.5h8.34M310.5 476.33v8.34M318.33 481.5h8.34M322.5 477.33v8.34M332.33 486.5h8.34M336.5 482.33v8.34M338.33 480.5h8.34M342.5 476.33v8.34M319.33 483.5h8.34M323.5 479.33v8.34M316.33 475.5h8.34M320.5 471.33v8.34M345.33 479.5h8.34M349.5 475.33v8.34M341.33 472.5h8.34M345.5 468.33v8.34M291.33 478.5h8.34M295.5 474.33v8.34M318.33 483.5h8.34M322.5 479.33v8.34M375.33 471.5h8.34M379.5 467.33v8.34M289.33 478.5h8.34M293.5 474.33v8.34M359.33 483.5h8.34M363.5 479.33v8.34M314.33 478.5h8.34M318.5 474.33v8.34M350.33 490.5h8.34M354.5 486.33v8.34M320.33 478.5h8.34M324.5 474.33v8.34M351.33 477.5h8.34M355.5 473.33v8.34M277.33 472.5h8.34M281.5 468.33v8.34M340.33 467.5h8.34M344.5 463.33v8.34M376.33 477.5h8.34M380.5 473.33v8.34M373.33 487.5h8.34M377.5 483.33v8.34M310.33 481.5h8.34M314.5 477.33v8.34M342.33 482.5h8.34M346.5 478.33v8.34M354.33 481.5h8.34M358.5 477.33v8.34M349.33 474.5h8.34M353.5 470.33v8.34M372.33 475.5h8.34M376.5 471.33v8.34M325.33 480.5h8.34M329.5 476.33v8.34M292.33 476.5h8.34M296.5 472.33v8.34M362.33 475.5h8.34M366.5 471.33v8.34M309.33 474.5h8.34M313.5 470.33v8.34M320.33 477.5h8.34M324.5 473.33v8.34M342.33 474.5h8.34M346.5 470.33v8.34M299.33 481.5h8.34M303.5 477.33v8.34M344.33 482.5h8.34M348.5 478.33v8.34M309.33 481.5h8.34M313.5 477.33v8.34M316.33 476.5h8.34M320.5 472.33v8.34M338.33 468.5h8.34M342.5 464.33v8.34M368.33 484.5h8.34M372.5 480.33v8.34M332.33 491.5h8.34M336.5 487.33v8.34M331.33 488.5h8.34M335.5 484.33v8.34M376.33 474.5h8.34M380.5 470.33v8.34M364.33 483.5h8.34M368.5 479.33v8.34M350.33 474.5h8.34M354.5 470.33v8.34M343.33 477.5h8.34M347.5 473.33v8.34M339.33 484.5h8.34M343.5 480.33v8.34M339.33 479.5h8.34M343.5 475.33v8.34M350.33 483.5h8.34M354.5 479.33v8.34M322.33 474.5h8.34M326.5 470.33v8.34M275.33 476.5h8.34M279.5 472.33v8.34M353.33 479.5h8.34M357.5 475.33v8.34M345.33 488.5h8.34M349.5 484.33v8.34M375.33 479.5h8.34M379.5 475.33v8.34M331.33 465.5h8.34M335.5 461.33v8.34M345.33 467.5h8.34M349.5 463.33v8.34M309.33 470.5h8.34M313.5 466.33v8.34M340.33 488.5h8.34M344.5 484.33v8.34M284.33 479.5h8.34M288.5 475.33v8.34M376.33 488.5h8.34M380.5 484.33v8.34M370.33 481.5h8.34M374.5 477.33v8.34M354.33 479.5h8.34M358.5 475.33v8.34M326.33 473.5h8.34M330.5 469.33v8.34M344.33 471.5h8.34M348.5 467.33v8.34M313.33 478.5h8.34M317.5 474.33v8.34M323.33 480.5h8.34M327.5 476.33v8.34M363.33 485.5h8.34M367.5 481.33v8.34M310.33 488.5h8.34M314.5 484.33v8.34M345.33 487.5h8.34M349.5 483.33v8.34M324.33 466.5h8.34M328.5 462.33v8.34M376.33 481.5h8.34M380.5 477.33v8.34M318.33 476.5h8.34M322.5 472.33v8.34M362.33 468.5h8.34M366.5 464.33v8.34M365.33 480.5h8.34M369.5 476.33v8.34M351.33 481.5h8.34M355.5 477.33v8.34M372.33 478.5h8.34M376.5 474.33v8.34M360.33 472.5h8.34M364.5 468.33v8.34M274.33 476.5h8.34M278.5 472.33v8.34M348.33 476.5h8.34M352.5 472.33v8.34M343.33 487.5h8.34M347.5 483.33v8.34M315.33 484.5h8.34M319.5 480.33v8.34M306.33 478.5h8.34M310.5 474.33v8.34M368.33 487.5h8.34M372.5 483.33v8.34M366.33 488.5h8.34M370.5 484.33v8.34M333.33 481.5h8.34M337.5 477.33v8.34M284.33 477.5h8.34M288.5 473.33v8.34M281.33 472.5h8.34M285.5 468.33v8.34M362.33 481.5h8.34M366.5 477.33v8.34M339.33 488.5h8.34M343.5 484.33v8.34M317.33 482.5h8.34M321.5 478.33v8.34M322.33 476.5h8.34M326.5 472.33v8.34M267.33 475.5h8.34M271.5 471.33v8.34M308.33 484.5h8.34M312.5 480.33v8.34M286.33 477.5h8.34M290.5 473.33v8.34M358.33 477.5h8.34M362.5 473.33v8.34M337.33 482.5h8.34M341.5 478.33v8.34M366.33 479.5h8.34M370.5 475.33v8.34M343.33 469.5h8.34M347.5 465.33v8.34M329.33 475.5h8.34M333.5 471.33v8.34M284.33 479.5h8.34M288.5 475.33v8.34M347.33 482.5h8.34M351.5 478.33v8.34M328.33 484.5h8.34M332.5 480.33v8.34M293.33 480.5h8.34M297.5 476.33v8.34M379.33 472.5h8.34M383.5 468.33v8.34M269.33 476.5h8.34M273.5 472.33v8.34M339.33 481.5h8.34M343.5 477.33v8.34M358.33 484.5h8.34M362.5 480.33v8.34M341.33 489.5h8.34M345.5 485.33v8.34M338.33 466.5h8.34M342.5 462.33v8.34M366.33 472.5h8.34M370.5 468.33v8.34M349.33 474.5h8.34M353.5 470.33v8.34M302.33 485.5h8.34M306.5 481.33v8.34M283.33 479.5h8.34M287.5 475.33v8.34M305.33 477.5h8.34M309.5 473.33v8.34M342.33 480.5h8.34M346.5 476.33v8.34M339.33 480.5h8.34M343.5 476.33v8.34M341.33 484.5h8.34M345.5 480.33v8.34M315.33 476.5h8.34M319.5 472.33v8.34M341.33 486.5h8.34M345.5 482.33v8.34M346.33 480.5h8.34M350.5 476.33v8.34M289.33 482.5h8.34M293.5 478.33v8.34M367.33 476.5h8.34M371.5 472.33v8.34M310.33 486.5h8.34M314.5 482.33v8.34M376.33 474.5h8.34M380.5 470.33v8.34M376.33 480.5h8.34M380.5 476.33v8.34M317.33 476.5h8.34M321.5 472.33v8.34M364.33 473.5h8.34M368.5 469.33v8.34M377.33 477.5h8.34M381.5 473.33v8.34M275.33 476.5h8.34M279.5 472.33v8.34M304.33 479.5h8.34M308.5 475.33v8.34M285.33 480.5h8.34M289.5 476.33v8.34M325.33 487.5h8.34M329.5 483.33v8.34M286.33 478.5h8.34M290.5 474.33v8.34M364.33 478.5h8.34M368.5 474.33v8.34M300.33 477.5h8.34M304.5 473.33v8.34M375.33 476.5h8.34M379.5 472.33v8.34M379.33 474.5h8.34M383.5 470.33v8.34M328.33 477.5h8.34M332.5 473.33v8.34M361.33 466.5h8.34M365.5 462.33v8.34M362.33 489.5h8.34M366.5 485.33v8.34M377.33 483.5h8.34M381.5 479.33v8.34M331.33 482.5h8.34M335.5 478.33v8.34M360.33 483.5h8.34M364.5 479.33v8.34M336.33 466.5h8.34M340.5 462.33v8.34M310.33 481.5h8.34M314.5 477.33v8.34M299.33 483.5h8.34M303.5 479.33v8.34M275.33 475.5h8.34M279.5 471.33v8.34M286.33 472.5h8.34M290.5 468.33v8.34M346.33 485.5h8.34M350.5 481.33v8.34M335.33 479.5h8.34M339.5 475.33v8.34M370.33 479.5h8.34M374.5 475.33v8.34M280.33 472.5h8.34M284.5 468.33v8.34M313.33 478.5h8.34M317.5 474.33v8.34M343.33 475.5h8.34M347.5 471.33v8.34M267.33 472.5h8.34M271.5 468.33v8.34M334.33 486.5h8.34M338.5 482.33v8.34M331.33 479.5h8.34M335.5 475.33v8.34M318.33 486.5h8.34M322.5 482.33v8.34M370.33 471.5h8.34M374.5 467.33v8.34M271.33 474.5h8.34M275.5 470.33v8.34M292.33 473.5h8.34M296.5 469.33v8.34M367.33 484.5h8.34M371.5 480.33v8.34M373.33 482.5h8.34M377.5 478.33v8.34M347.33 478.5h8.34M351.5 474.33v8.34M301.33 478.5h8.34M305.5 474.33v8.34M374.33 482.5h8.34M378.5 478.33v8.34M308.33 478.5h8.34M312.5 474.33v8.34M364.33 477.5h8.34M368.5 473.33v8.34M300.33 478.5h8.34M304.5 474.33v8.34M323.33 481.5h8.34M327.5 477.33v8.34M340.33 481.5h8.34M344.5 477.33v8.34M343.33 481.5h8.34M347.5 477.33v8.34M345.33 483.5h8.34M349.5 479.33v8.34M341.33 477.5h8.34M345.5 473.33v8.34M362.33 478.5h8.34M366.5 474.33v8.34M292.33 481.5h8.34M296.5 477.33v8.34M325.33 476.5h8.34M329.5 472.33v8.34M342.33 486.5h8.34M346.5 482.33v8.34M309.33 478.5h8.34M313.5 474.33v8.34M351.33 489.5h8.34M355.5 485.33v8.34M304.33 480.5h8.34M308.5 476.33v8.34M378.33 475.5h8.34M382.5 471.33v8.34M308.33 481.5h8.34M312.5 477.33v8.34M312.33 481.5h8.34M316.5 477.33v8.34M352.33 479.5h8.34M356.5 475.33v8.34M365.33 468.5h8.34M369.5 464.33v8.34M354.33 482.5h8.34M358.5 478.33v8.34M351.33 482.5h8.34M355.5 478.33v8.34M376.33 476.5h8.34M380.5 472.33v8.34M345.33 473.5h8.34M349.5 469.33v8.34M315.33 475.5h8.34M319.5 471.33v8.34M340.33 478.5h8.34M344.5 474.33v8.34M350.33 480.5h8.34M354.5 476.33v8.34M340.33 478.5h8.34M344.5 474.33v8.34M365.33 477.5h8.34M369.5 473.33v8.34M344.33 486.5h8.34M348.5 482.33v8.34M341.33 486.5h8.34M345.5 482.33v8.34M301.33 485.5h8.34M305.5 481.33v8.34M269.33 476.5h8.34M273.5 472.33v8.34M293.33 469.5h8.34M297.5 465.33v8.34M294.33 481.5h8.34M298.5 477.33v8.34M327.33 474.5h8.34M331.5 470.33v8.34M333.33 488.5h8.34M337.5 484.33v8.34M357.33 480.5h8.34M361.5 476.33v8.34M350.33 471.5h8.34M354.5 467.33v8.34M304.33 472.5h8.34M308.5 468.33v8.34M362.33 482.5h8.34M366.5 478.33v8.34M349.33 471.5h8.34M353.5 467.33v8.34M299.33 475.5h8.34M303.5 471.33v8.34M303.33 476.5h8.34M307.5 472.33v8.34M309.33 478.5h8.34M313.5 474.33v8.34M347.33 477.5h8.34M351.5 473.33v8.34M372.33 481.5h8.34M376.5 477.33v8.34M335.33 493.5h8.34M339.5 489.33v8.34M308.33 477.5h8.34M312.5 473.33v8.34M346.33 481.5h8.34M350.5 477.33v8.34M279.33 470.5h8.34M283.5 466.33v8.34M364.33 483.5h8.34M368.5 479.33v8.34M290.33 482.5h8.34M294.5 478.33v8.34M327.33 484.5h8.34M331.5 480.33v8.34M352.33 480.5h8.34M356.5 476.33v8.34M315.33 480.5h8.34M319.5 476.33v8.34M379.33 487.5h8.34M383.5 483.33v8.34M305.33 483.5h8.34M309.5 479.33v8.34M368.33 478.5h8.34M372.5 474.33v8.34M313.33 475.5h8.34M317.5 471.33v8.34M314.33 471.5h8.34M318.5 467.33v8.34M370.33 471.5h8.34M374.5 467.33v8.34M335.33 488.5h8.34M339.5 484.33v8.34M297.33 469.5h8.34M301.5 465.33v8.34M339.33 487.5h8.34M343.5 483.33v8.34M298.33 469.5h8.34M302.5 465.33v8.34M344.33 470.5h8.34M348.5 466.33v8.34M324.33 480.5h8.34M328.5 476.33v8.34M292.33 481.5h8.34M296.5 477.33v8.34M320.33 488.5h8.34M324.5 484.33v8.34M339.33 482.5h8.34M343.5 478.33v8.34M297.33 476.5h8.34M301.5 472.33v8.34M378.33 478.5h8.34M382.5 474.33v8.34M371.33 476.5h8.34M375.5 472.33v8.34M296.33 478.5h8.34M300.5 474.33v8.34M309.33 480.5h8.34M313.5 476.33v8.34M351.33 488.5h8.34M355.5 484.33v8.34M294.33 482.5h8.34M298.5 478.33v8.34M341.33 485.5h8.34M345.5 481.33v8.34M363.33 486.5h8.34M367.5 482.33v8.34M294.33 478.5h8.34M298.5 474.33v8.34M355.33 471.5h8.34M359.5 467.33v8.34M318.33 484.5h8.34M322.5 480.33v8.34M375.33 476.5h8.34M379.5 472.33v8.34M276.33 475.5h8.34M280.5 471.33v8.34M359.33 477.5h8.34M363.5 473.33v8.34M372.33 473.5h8.34M376.5 469.33v8.34M307.33 473.5h8.34M311.5 469.33v8.34M322.33 474.5h8.34M326.5 470.33v8.34M353.33 479.5h8.34M357.5 475.33v8.34M375.33 476.5h8.34M379.5 472.33v8.34M371.33 488.5h8.34M375.5 484.33v8.34M336.33 484.5h8.34M340.5 480.33v8.34M360.33 484.5h8.34M364.5 480.33v8.34M301.33 477.5h8.34M305.5 473.33v8.34M311.33 479.5h8.34M315.5 475.33v8.34M289.33 476.5h8.34M293.5 472.33v8.34M316.33 483.5h8.34M320.5 479.33v8.34M356.33 477.5h8.34M360.5 473.33v8.34M338.33 484.5h8.34M342.5 480.33v8.34M361.33 478.5h8.34M365.5 474.33v8.34M326.33 478.5h8.34M330.5 474.33v8.34M316.33 476.5h8.34M320.5 472.33v8.34M273.33 478.5h8.34M277.5 474.33v8.34M304.33 480.5h8.34M308.5 476.33v8.34M359.33 485.5h8.34M363.5 481.33v8.34M289.33 479.5h8.34M293.5 475.33v8.34M308.33 475.5h8.34M312.5 471.33v8.34M309.33 485.5h8.34M313.5 481.33v8.34M323.33 478.5h8.34M327.5 474.33v8.34M360.33 469.5h8.34M364.5 465.33v8.34M374.33 486.5h8.34M378.5 482.33v8.34M306.33 480.5h8.34M310.5 476.33v8.34M322.33 478.5h8.34M326.5 474.33v8.34M361.33 470.5h8.34M365.5 466.33v8.34M272.33 473.5h8.34M276.5 469.33v8.34M369.33 490.5h8.34M373.5 486.33v8.34M315.33 478.5h8.34M319.5 474.33v8.34M378.33 471.5h8.34M382.5 467.33v8.34M348.33 471.5h8.34M352.5 467.33v8.34M341.33 477.5h8.34M345.5 473.33v8.34M350.33 475.5h8.34M354.5 471.33v8.34M319.33 478.5h8.34M323.5 474.33v8.34M289.33 472.5h8.34M293.5 468.33v8.34M363.33 472.5h8.34M367.5 468.33v8.34M316.33 483.5h8.34M320.5 479.33v8.34M340.33 487.5h8.34M344.5 483.33v8.34M330.33 477.5h8.34M334.5 473.33v8.34M306.33 473.5h8.34M310.5 469.33v8.34M331.33 481.5h8.34M335.5 477.33v8.34M352.33 469.5h8.34M356.5 465.33v8.34M353.33 478.5h8.34M357.5 474.33v8.34M347.33 491.5h8.34M351.5 487.33v8.34M355.33 476.5h8.34M359.5 472.33v8.34M326.33 478.5h8.34M330.5 474.33v8.34M306.33 480.5h8.34M310.5 476.33v8.34M360.33 488.5h8.34M364.5 484.33v8.34M365.33 485.5h8.34M369.5 481.33v8.34M379.33 476.5h8.34M383.5 472.33v8.34M360.33 498.5h8.34M364.5 494.33v8.34M271.33 474.5h8.34M275.5 470.33v8.34M318.33 474.5h8.34M322.5 470.33v8.34M268.33 476.5h8.34M272.5 472.33v8.34M339.33 478.5h8.34M343.5 474.33v8.34M309.33 483.5h8.34M313.5 479.33v8.34M325.33 481.5h8.34M329.5 477.33v8.34M378.33 477.5h8.34M382.5 473.33v8.34M358.33 477.5h8.34M362.5 473.33v8.34M352.33 484.5h8.34M356.5 480.33v8.34M290.33 477.5h8.34M294.5 473.33v8.34M364.33 489.5h8.34M368.5 485.33v8.34M371.33 491.5h8.34M375.5 487.33v8.34M296.33 473.5h8.34M300.5 469.33v8.34M296.33 478.5h8.34M300.5 474.33v8.34M340.33 475.5h8.34M344.5 471.33v8.34M359.33 464.5h8.34M363.5 460.33v8.34M369.33 471.5h8.34M373.5 467.33v8.34M356.33 487.5h8.34M360.5 483.33v8.34M322.33 482.5h8.34M326.5 478.33v8.34M302.33 474.5h8.34M306.5 470.33v8.34M368.33 486.5h8.34M372.5 482.33v8.34M303.33 485.5h8.34M307.5 481.33v8.34M284.33 480.5h8.34M288.5 476.33v8.34M277.33 477.5h8.34M281.5 473.33v8.34M275.33 472.5h8.34M279.5 468.33v8.34M375.33 489.5h8.34M379.5 485.33v8.34M337.33 478.5h8.34M341.5 474.33v8.34M326.33 479.5h8.34M330.5 475.33v8.34M319.33 484.5h8.34M323.5 480.33v8.34M268.33 468.5h8.34M272.5 464.33v8.34M319.33 475.5h8.34M323.5 471.33v8.34M321.33 475.5h8.34M325.5 471.33v8.34M324.33 472.5h8.34M328.5 468.33v8.34M294.33 476.5h8.34M298.5 472.33v8.34M311.33 479.5h8.34M315.5 475.33v8.34M337.33 485.5h8.34M341.5 481.33v8.34M364.33 471.5h8.34M368.5 467.33v8.34M336.33 480.5h8.34M340.5 476.33v8.34M359.33 482.5h8.34M363.5 478.33v8.34M279.33 478.5h8.34M283.5 474.33v8.34M363.33 486.5h8.34M367.5 482.33v8.34M313.33 475.5h8.34M317.5 471.33v8.34M283.33 481.5h8.34M287.5 477.33v8.34M308.33 486.5h8.34M312.5 482.33v8.34M317.33 470.5h8.34M321.5 466.33v8.34M311.33 488.5h8.34M315.5 484.33v8.34M336.33 472.5h8.34M340.5 468.33v8.34M335.33 481.5h8.34M339.5 477.33v8.34M310.33 479.5h8.34M314.5 475.33v8.34M321.33 473.5h8.34M325.5 469.33v8.34M365.33 486.5h8.34M369.5 482.33v8.34M361.33 484.5h8.34M365.5 480.33v8.34M309.33 472.5h8.34M313.5 468.33v8.34M281.33 472.5h8.34M285.5 468.33v8.34M357.33 494.5h8.34M361.5 490.33v8.34M349.33 480.5h8.34M353.5 476.33v8.34M296.33 473.5h8.34M300.5 469.33v8.34M280.33 479.5h8.34M284.5 475.33v8.34M365.33 485.5h8.34M369.5 481.33v8.34M368.33 480.5h8.34M372.5 476.33v8.34M285.33 478.5h8.34M289.5 474.33v8.34M335.33 474.5h8.34M339.5 470.33v8.34M332.33 473.5h8.34M336.5 469.33v8.34M325.33 475.5h8.34M329.5 471.33v8.34M354.33 478.5h8.34M358.5 474.33v8.34M339.33 483.5h8.34M343.5 479.33v8.34M293.33 475.5h8.34M297.5 471.33v8.34M339.33 482.5h8.34M343.5 478.33v8.34M292.33 474.5h8.34M296.5 470.33v8.34M308.33 482.5h8.34M312.5 478.33v8.34M317.33 477.5h8.34M321.5 473.33v8.34M342.33 482.5h8.34M346.5 478.33v8.34M375.33 473.5h8.34M379.5 469.33v8.34M375.33 480.5h8.34M379.5 476.33v8.34M323.33 484.5h8.34M327.5 480.33v8.34M325.33 481.5h8.34M329.5 477.33v8.34M345.33 482.5h8.34M349.5 478.33v8.34M286.33 471.5h8.34M290.5 467.33v8.34M336.33 487.5h8.34M340.5 483.33v8.34M346.33 470.5h8.34M350.5 466.33v8.34M339.33 483.5h8.34M343.5 479.33v8.34M313.33 473.5h8.34M317.5 469.33v8.34M371.33 483.5h8.34M375.5 479.33v8.34M358.33 486.5h8.34M362.5 482.33v8.34M319.33 484.5h8.34M323.5 480.33v8.34M351.33 478.5h8.34M355.5 474.33v8.34M368.33 479.5h8.34M372.5 475.33v8.34M320.33 487.5h8.34M324.5 483.33v8.34M295.33 475.5h8.34M299.5 471.33v8.34M306.33 486.5h8.34M310.5 482.33v8.34M349.33 486.5h8.34M353.5 482.33v8.34M362.33 479.5h8.34M366.5 475.33v8.34M267.33 475.5h8.34M271.5 471.33v8.34M362.33 481.5h8.34M366.5 477.33v8.34M312.33 473.5h8.34M316.5 469.33v8.34M314.33 489.5h8.34M318.5 485.33v8.34M349.33 479.5h8.34M353.5 475.33v8.34M270.33 474.5h8.34M274.5 470.33v8.34M294.33 479.5h8.34M298.5 475.33v8.34M271.33 474.5h8.34M275.5 470.33v8.34M331.33 466.5h8.34M335.5 462.33v8.34M323.33 480.5h8.34M327.5 476.33v8.34M304.33 478.5h8.34M308.5 474.33v8.34M373.33 482.5h8.34M377.5 478.33v8.34M367.33 479.5h8.34M371.5 475.33v8.34M312.33 479.5h8.34M316.5 475.33v8.34M355.33 472.5h8.34M359.5 468.33v8.34M327.33 483.5h8.34M331.5 479.33v8.34M374.33 483.5h8.34M378.5 479.33v8.34M297.33 474.5h8.34M301.5 470.33v8.34M316.33 487.5h8.34M320.5 483.33v8.34M320.33 479.5h8.34M324.5 475.33v8.34M318.33 485.5h8.34M322.5 481.33v8.34M305.33 476.5h8.34M309.5 472.33v8.34M292.33 483.5h8.34M296.5 479.33v8.34M315.33 467.5h8.34M319.5 463.33v8.34M275.33 474.5h8.34M279.5 470.33v8.34M357.33 478.5h8.34M361.5 474.33v8.34M360.33 471.5h8.34M364.5 467.33v8.34M307.33 477.5h8.34M311.5 473.33v8.34M317.33 484.5h8.34M321.5 480.33v8.34M283.33 481.5h8.34M287.5 477.33v8.34M366.33 470.5h8.34M370.5 466.33v8.34M349.33 485.5h8.34M353.5 481.33v8.34M335.33 480.5h8.34M339.5 476.33v8.34M267.33 473.5h8.34M271.5 469.33v8.34M355.33 489.5h8.34M359.5 485.33v8.34M358.33 476.5h8.34M362.5 472.33v8.34M294.33 473.5h8.34M298.5 469.33v8.34M338.33 482.5h8.34M342.5 478.33v8.34M358.33 467.5h8.34M362.5 463.33v8.34M271.33 475.5h8.34M275.5 471.33v8.34M270.33 478.5h8.34M274.5 474.33v8.34M364.33 478.5h8.34M368.5 474.33v8.34M351.33 480.5h8.34M355.5 476.33v8.34M284.33 477.5h8.34M288.5 473.33v8.34M352.33 477.5h8.34M356.5 473.33v8.34M344.33 480.5h8.34M348.5 476.33v8.34M295.33 482.5h8.34M299.5 478.33v8.34M292.33 472.5h8.34M296.5 468.33v8.34M329.33 482.5h8.34M333.5 478.33v8.34M286.33 474.5h8.34M290.5 470.33v8.34M313.33 478.5h8.34M317.5 474.33v8.34M360.33 479.5h8.34M364.5 475.33v8.34M328.33 475.5h8.34M332.5 471.33v8.34M284.33 478.5h8.34M288.5 474.33v8.34M337.33 479.5h8.34M341.5 475.33v8.34M378.33 463.5h8.34M382.5 459.33v8.34M376.33 477.5h8.34M380.5 473.33v8.34M347.33 481.5h8.34M351.5 477.33v8.34M340.33 472.5h8.34M344.5 468.33v8.34M349.33 484.5h8.34M353.5 480.33v8.34M322.33 481.5h8.34M326.5 477.33v8.34M300.33 479.5h8.34M304.5 475.33v8.34M363.33 483.5h8.34M367.5 479.33v8.34M282.33 476.5h8.34M286.5 472.33v8.34M362.33 480.5h8.34M366.5 476.33v8.34M345.33 484.5h8.34M349.5 480.33v8.34M349.33 477.5h8.34M353.5 473.33v8.34M335.33 478.5h8.34M339.5 474.33v8.34M327.33 477.5h8.34M331.5 473.33v8.34M339.33 479.5h8.34M343.5 475.33v8.34M330.33 481.5h8.34M334.5 477.33v8.34M360.33 474.5h8.34M364.5 470.33v8.34M372.33 478.5h8.34M376.5 474.33v8.34M338.33 479.5h8.34M342.5 475.33v8.34M345.33 481.5h8.34M349.5 477.33v8.34M317.33 474.5h8.34M321.5 470.33v8.34M315.33 475.5h8.34M319.5 471.33v8.34M343.33 451.5h8.34M347.5 447.33v8.34M313.33 470.5h8.34M317.5 466.33v8.34M366.33 465.5h8.34M370.5 461.33v8.34M350.33 437.5h8.34M354.5 433.33v8.34M360.33 463.5h8.34M364.5 459.33v8.34M314.33 450.5h8.34M318.5 446.33v8.34M312.33 416.5h8.34M316.5 412.33v8.34M335.33 455.5h8.34M339.5 451.33v8.34M359.33 473.5h8.34M363.5 469.33v8.34M325.33 416.5h8.34M329.5 412.33v8.34M337.33 476.5h8.34M341.5 472.33v8.34M337.33 451.5h8.34M341.5 447.33v8.34M361.33 474.5h8.34M365.5 470.33v8.34M309.33 474.5h8.34M313.5 470.33v8.34M327.33 445.5h8.34M331.5 441.33v8.34M371.33 470.5h8.34M375.5 466.33v8.34M361.33 468.5h8.34M365.5 464.33v8.34M330.33 473.5h8.34M334.5 469.33v8.34M318.33 409.5h8.34M322.5 405.33v8.34M340.33 475.5h8.34M344.5 471.33v8.34M372.33 454.5h8.34M376.5 450.33v8.34M367.33 469.5h8.34M371.5 465.33v8.34M368.33 466.5h8.34M372.5 462.33v8.34M338.33 464.5h8.34M342.5 460.33v8.34M355.33 448.5h8.34M359.5 444.33v8.34M340.33 464.5h8.34M344.5 460.33v8.34M323.33 473.5h8.34M327.5 469.33v8.34M340.33 475.5h8.34M344.5 471.33v8.34M357.33 454.5h8.34M361.5 450.33v8.34M335.33 438.5h8.34M339.5 434.33v8.34M338.33 443.5h8.34M342.5 439.33v8.34M335.33 457.5h8.34M339.5 453.33v8.34M322.33 439.5h8.34M326.5 435.33v8.34M365.33 464.5h8.34M369.5 460.33v8.34M357.33 465.5h8.34M361.5 461.33v8.34M349.33 470.5h8.34M353.5 466.33v8.34M321.33 457.5h8.34M325.5 453.33v8.34M311.33 473.5h8.34M315.5 469.33v8.34M351.33 430.5h8.34M355.5 426.33v8.34M317.33 472.5h8.34M321.5 468.33v8.34M353.33 438.5h8.34M357.5 434.33v8.34M372.33 456.5h8.34M376.5 452.33v8.34M308.33 454.5h8.34M312.5 450.33v8.34M346.33 461.5h8.34M350.5 457.33v8.34M324.33 457.5h8.34M328.5 453.33v8.34M323.33 437.5h8.34M327.5 433.33v8.34M373.33 448.5h8.34M377.5 444.33v8.34M328.33 469.5h8.34M332.5 465.33v8.34M366.33 457.5h8.34M370.5 453.33v8.34M362.33 447.5h8.34M366.5 443.33v8.34M332.33 469.5h8.34M336.5 465.33v8.34M327.33 436.5h8.34M331.5 432.33v8.34M332.33 462.5h8.34M336.5 458.33v8.34M376.33 465.5h8.34M380.5 461.33v8.34M342.33 431.5h8.34M346.5 427.33v8.34M349.33 445.5h8.34M353.5 441.33v8.34M321.33 463.5h8.34M325.5 459.33v8.34M350.33 469.5h8.34M354.5 465.33v8.34M318.33 458.5h8.34M322.5 454.33v8.34M331.33 476.5h8.34M335.5 472.33v8.34M360.33 457.5h8.34M364.5 453.33v8.34M369.33 459.5h8.34M373.5 455.33v8.34M375.33 475.5h8.34M379.5 471.33v8.34M313.33 438.5h8.34M317.5 434.33v8.34M324.33 440.5h8.34M328.5 436.33v8.34M367.33 476.5h8.34M371.5 472.33v8.34M325.33 466.5h8.34M329.5 462.33v8.34M329.33 455.5h8.34M333.5 451.33v8.34M349.33 452.5h8.34M353.5 448.33v8.34M311.33 468.5h8.34M315.5 464.33v8.34M317.33 446.5h8.34M321.5 442.33v8.34M367.33 473.5h8.34M371.5 469.33v8.34M311.33 468.5h8.34M315.5 464.33v8.34M348.33 468.5h8.34M352.5 464.33v8.34M324.33 449.5h8.34M328.5 445.33v8.34M308.33 440.5h8.34M312.5 436.33v8.34M345.33 468.5h8.34M349.5 464.33v8.34M350.33 460.5h8.34M354.5 456.33v8.34M325.33 456.5h8.34M329.5 452.33v8.34M316.33 455.5h8.34M320.5 451.33v8.34M348.33 443.5h8.34M352.5 439.33v8.34M360.33 476.5h8.34M364.5 472.33v8.34M353.33 452.5h8.34M357.5 448.33v8.34M320.33 469.5h8.34M324.5 465.33v8.34M315.33 444.5h8.34M319.5 440.33v8.34M327.33 435.5h8.34M331.5 431.33v8.34M359.33 472.5h8.34M363.5 468.33v8.34M328.33 454.5h8.34M332.5 450.33v8.34M321.33 418.5h8.34M325.5 414.33v8.34M316.33 443.5h8.34M320.5 439.33v8.34M360.33 461.5h8.34M364.5 457.33v8.34M308.33 456.5h8.34M312.5 452.33v8.34M365.33 475.5h8.34M369.5 471.33v8.34M321.33 461.5h8.34M325.5 457.33v8.34M326.33 465.5h8.34M330.5 461.33v8.34M336.33 443.5h8.34M340.5 439.33v8.34M338.33 458.5h8.34M342.5 454.33v8.34M352.33 473.5h8.34M356.5 469.33v8.34M344.33 449.5h8.34M348.5 445.33v8.34M347.33 476.5h8.34M351.5 472.33v8.34M366.33 466.5h8.34M370.5 462.33v8.34M310.33 473.5h8.34M314.5 469.33v8.34M378.33 464.5h8.34M382.5 460.33v8.34M376.33 469.5h8.34M380.5 465.33v8.34M364.33 460.5h8.34M368.5 456.33v8.34M354.33 458.5h8.34M358.5 454.33v8.34M330.33 470.5h8.34M334.5 466.33v8.34M309.33 457.5h8.34M313.5 453.33v8.34M334.33 474.5h8.34M338.5 470.33v8.34M337.33 432.5h8.34M341.5 428.33v8.34M372.33 446.5h8.34M376.5 442.33v8.34M363.33 466.5h8.34M367.5 462.33v8.34M309.33 427.5h8.34M313.5 423.33v8.34M344.33 475.5h8.34M348.5 471.33v8.34M321.33 451.5h8.34M325.5 447.33v8.34M342.33 444.5h8.34M346.5 440.33v8.34M338.33 471.5h8.34M342.5 467.33v8.34M353.33 451.5h8.34M357.5 447.33v8.34M350.33 451.5h8.34M354.5 447.33v8.34M330.33 457.5h8.34M334.5 453.33v8.34M373.33 455.5h8.34M377.5 451.33v8.34M356.33 424.5h8.34M360.5 420.33v8.34M309.33 443.5h8.34M313.5 439.33v8.34M343.33 459.5h8.34M347.5 455.33v8.34M326.33 424.5h8.34M330.5 420.33v8.34M350.33 461.5h8.34M354.5 457.33v8.34M356.33 442.5h8.34M360.5 438.33v8.34M335.33 426.5h8.34M339.5 422.33v8.34M366.33 476.5h8.34M370.5 472.33v8.34M357.33 467.5h8.34M361.5 463.33v8.34M318.33 442.5h8.34M322.5 438.33v8.34M362.33 455.5h8.34M366.5 451.33v8.34M363.33 462.5h8.34M367.5 458.33v8.34M330.33 450.5h8.34M334.5 446.33v8.34M362.33 464.5h8.34M366.5 460.33v8.34M317.33 456.5h8.34M321.5 452.33v8.34M334.33 450.5h8.34M338.5 446.33v8.34M339.33 438.5h8.34M343.5 434.33v8.34M353.33 443.5h8.34M357.5 439.33v8.34M373.33 464.5h8.34M377.5 460.33v8.34M310.33 460.5h8.34M314.5 456.33v8.34M324.33 449.5h8.34M328.5 445.33v8.34M328.33 472.5h8.34M332.5 468.33v8.34M344.33 418.5h8.34M348.5 414.33v8.34M316.33 460.5h8.34M320.5 456.33v8.34M329.33 443.5h8.34M333.5 439.33v8.34M345.33 473.5h8.34M349.5 469.33v8.34M357.33 472.5h8.34M361.5 468.33v8.34M349.33 456.5h8.34M353.5 452.33v8.34M329.33 434.5h8.34M333.5 430.33v8.34M369.33 463.5h8.34M373.5 459.33v8.34M336.33 474.5h8.34M340.5 470.33v8.34M327.33 453.5h8.34M331.5 449.33v8.34M341.33 473.5h8.34M345.5 469.33v8.34M351.33 458.5h8.34M355.5 454.33v8.34M308.33 469.5h8.34M312.5 465.33v8.34M325.33 436.5h8.34M329.5 432.33v8.34M345.33 443.5h8.34M349.5 439.33v8.34M324.33 442.5h8.34M328.5 438.33v8.34M325.33 456.5h8.34M329.5 452.33v8.34M311.33 435.5h8.34M315.5 431.33v8.34M313.33 449.5h8.34M317.5 445.33v8.34M361.33 447.5h8.34M365.5 443.33v8.34M310.33 475.5h8.34M314.5 471.33v8.34M353.33 474.5h8.34M357.5 470.33v8.34M315.33 423.5h8.34M319.5 419.33v8.34M354.33 475.5h8.34M358.5 471.33v8.34M370.33 470.5h8.34M374.5 466.33v8.34M308.33 475.5h8.34M312.5 471.33v8.34M321.33 456.5h8.34M325.5 452.33v8.34M345.33 450.5h8.34M349.5 446.33v8.34M342.33 458.5h8.34M346.5 454.33v8.34M370.33 455.5h8.34M374.5 451.33v8.34M359.33 464.5h8.34M363.5 460.33v8.34M347.33 448.5h8.34M351.5 444.33v8.34M366.33 475.5h8.34M370.5 471.33v8.34M314.33 440.5h8.34M318.5 436.33v8.34M339.33 432.5h8.34M343.5 428.33v8.34M320.33 463.5h8.34M324.5 459.33v8.34M320.33 475.5h8.34M324.5 471.33v8.34M311.33 448.5h8.34M315.5 444.33v8.34M318.33 444.5h8.34M322.5 440.33v8.34M316.33 446.5h8.34M320.5 442.33v8.34M311.33 446.5h8.34M315.5 442.33v8.34M311.33 469.5h8.34M315.5 465.33v8.34M345.33 437.5h8.34M349.5 433.33v8.34M333.33 464.5h8.34M337.5 460.33v8.34M320.33 437.5h8.34M324.5 433.33v8.34M338.33 463.5h8.34M342.5 459.33v8.34M312.33 460.5h8.34M316.5 456.33v8.34M325.33 461.5h8.34M329.5 457.33v8.34M339.33 467.5h8.34M343.5 463.33v8.34M348.33 472.5h8.34M352.5 468.33v8.34M313.33 453.5h8.34M317.5 449.33v8.34M311.33 445.5h8.34M315.5 441.33v8.34M328.33 470.5h8.34M332.5 466.33v8.34M322.33 472.5h8.34M326.5 468.33v8.34M312.33 453.5h8.34M316.5 449.33v8.34M312.33 457.5h8.34M316.5 453.33v8.34M316.33 471.5h8.34M320.5 467.33v8.34M335.33 453.5h8.34M339.5 449.33v8.34M364.33 475.5h8.34M368.5 471.33v8.34M325.33 415.5h8.34M329.5 411.33v8.34M364.33 465.5h8.34M368.5 461.33v8.34M322.33 467.5h8.34M326.5 463.33v8.34M336.33 432.5h8.34M340.5 428.33v8.34M319.33 476.5h8.34M323.5 472.33v8.34M357.33 457.5h8.34M361.5 453.33v8.34M335.33 461.5h8.34M339.5 457.33v8.34M347.33 475.5h8.34M351.5 471.33v8.34M332.33 459.5h8.34M336.5 455.33v8.34M338.33 450.5h8.34M342.5 446.33v8.34M338.33 433.5h8.34M342.5 429.33v8.34M314.33 445.5h8.34M318.5 441.33v8.34M370.33 444.5h8.34M374.5 440.33v8.34M331.33 454.5h8.34M335.5 450.33v8.34M339.33 473.5h8.34M343.5 469.33v8.34M331.33 473.5h8.34M335.5 469.33v8.34M335.33 456.5h8.34M339.5 452.33v8.34M350.33 471.5h8.34M354.5 467.33v8.34M365.33 476.5h8.34M369.5 472.33v8.34M325.33 460.5h8.34M329.5 456.33v8.34M345.33 460.5h8.34M349.5 456.33v8.34M371.33 471.5h8.34M375.5 467.33v8.34M317.33 473.5h8.34M321.5 469.33v8.34M372.33 464.5h8.34M376.5 460.33v8.34M358.33 471.5h8.34M362.5 467.33v8.34M324.33 449.5h8.34M328.5 445.33v8.34M321.33 467.5h8.34M325.5 463.33v8.34M328.33 452.5h8.34M332.5 448.33v8.34M361.33 465.5h8.34M365.5 461.33v8.34M321.33 440.5h8.34M325.5 436.33v8.34M317.33 458.5h8.34M321.5 454.33v8.34M358.33 455.5h8.34M362.5 451.33v8.34M326.33 408.5h8.34M330.5 404.33v8.34M323.33 442.5h8.34M327.5 438.33v8.34M320.33 463.5h8.34M324.5 459.33v8.34M353.33 444.5h8.34M357.5 440.33v8.34M341.33 442.5h8.34M345.5 438.33v8.34M353.33 476.5h8.34M357.5 472.33v8.34M333.33 473.5h8.34M337.5 469.33v8.34M348.33 468.5h8.34M352.5 464.33v8.34M339.33 457.5h8.34M343.5 453.33v8.34M313.33 441.5h8.34M317.5 437.33v8.34M351.33 458.5h8.34M355.5 454.33v8.34M341.33 460.5h8.34M345.5 456.33v8.34M310.33 448.5h8.34M314.5 444.33v8.34M362.33 463.5h8.34M366.5 459.33v8.34M308.33 473.5h8.34M312.5 469.33v8.34M362.33 475.5h8.34M366.5 471.33v8.34M327.33 462.5h8.34M331.5 458.33v8.34M317.33 472.5h8.34M321.5 468.33v8.34M326.33 470.5h8.34M330.5 466.33v8.34M310.33 449.5h8.34M314.5 445.33v8.34M308.33 450.5h8.34M312.5 446.33v8.34M314.33 420.5h8.34M318.5 416.33v8.34M337.33 444.5h8.34M341.5 440.33v8.34M320.33 409.5h8.34M324.5 405.33v8.34M343.33 457.5h8.34M347.5 453.33v8.34M323.33 440.5h8.34M327.5 436.33v8.34M357.33 476.5h8.34M361.5 472.33v8.34M308.33 456.5h8.34M312.5 452.33v8.34M316.33 471.5h8.34M320.5 467.33v8.34M335.33 426.5h8.34M339.5 422.33v8.34M320.33 463.5h8.34M324.5 459.33v8.34M320.33 410.5h8.34M324.5 406.33v8.34M334.33 434.5h8.34M338.5 430.33v8.34M326.33 449.5h8.34M330.5 445.33v8.34M318.33 456.5h8.34M322.5 452.33v8.34M318.33 471.5h8.34M322.5 467.33v8.34M311.33 417.5h8.34M315.5 413.33v8.34M371.33 475.5h8.34M375.5 471.33v8.34M311.33 465.5h8.34M315.5 461.33v8.34M316.33 445.5h8.34M320.5 441.33v8.34M356.33 469.5h8.34M360.5 465.33v8.34M308.33 435.5h8.34M312.5 431.33v8.34M349.33 466.5h8.34M353.5 462.33v8.34M328.33 471.5h8.34M332.5 467.33v8.34M363.33 445.5h8.34M367.5 441.33v8.34M369.33 447.5h8.34M373.5 443.33v8.34M360.33 474.5h8.34M364.5 470.33v8.34M370.33 449.5h8.34M374.5 445.33v8.34M330.33 453.5h8.34M334.5 449.33v8.34M312.33 433.5h8.34M316.5 429.33v8.34M313.33 462.5h8.34M317.5 458.33v8.34M311.33 435.5h8.34M315.5 431.33v8.34M357.33 441.5h8.34M361.5 437.33v8.34M326.33 454.5h8.34M330.5 450.33v8.34M360.33 454.5h8.34M364.5 450.33v8.34M320.33 425.5h8.34M324.5 421.33v8.34M345.33 473.5h8.34M349.5 469.33v8.34M334.33 445.5h8.34M338.5 441.33v8.34M370.33 461.5h8.34M374.5 457.33v8.34M338.33 454.5h8.34M342.5 450.33v8.34M325.33 435.5h8.34M329.5 431.33v8.34M316.33 435.5h8.34M320.5 431.33v8.34M346.33 471.5h8.34M350.5 467.33v8.34M329.33 467.5h8.34M333.5 463.33v8.34M315.33 456.5h8.34M319.5 452.33v8.34M327.33 442.5h8.34M331.5 438.33v8.34M334.33 465.5h8.34M338.5 461.33v8.34M357.33 474.5h8.34M361.5 470.33v8.34M352.33 464.5h8.34M356.5 460.33v8.34M308.33 447.5h8.34M312.5 443.33v8.34M346.33 470.5h8.34M350.5 466.33v8.34M331.33 472.5h8.34M335.5 468.33v8.34M372.33 439.5h8.34M376.5 435.33v8.34M328.33 424.5h8.34M332.5 420.33v8.34M363.33 468.5h8.34M367.5 464.33v8.34M327.33 462.5h8.34M331.5 458.33v8.34M368.33 470.5h8.34M372.5 466.33v8.34M352.33 463.5h8.34M356.5 459.33v8.34M310.33 435.5h8.34M314.5 431.33v8.34M323.33 468.5h8.34M327.5 464.33v8.34M371.33 465.5h8.34M375.5 461.33v8.34M318.33 451.5h8.34M322.5 447.33v8.34M361.33 473.5h8.34M365.5 469.33v8.34M350.33 457.5h8.34M354.5 453.33v8.34M351.33 466.5h8.34M355.5 462.33v8.34M364.33 452.5h8.34M368.5 448.33v8.34M366.33 461.5h8.34M370.5 457.33v8.34M310.33 466.5h8.34M314.5 462.33v8.34M346.33 451.5h8.34M350.5 447.33v8.34M328.33 458.5h8.34M332.5 454.33v8.34M357.33 474.5h8.34M361.5 470.33v8.34M375.33 453.5h8.34M379.5 449.33v8.34M329.33 455.5h8.34M333.5 451.33v8.34M321.33 475.5h8.34M325.5 471.33v8.34M335.33 452.5h8.34M339.5 448.33v8.34M369.33 465.5h8.34M373.5 461.33v8.34M312.33 427.5h8.34M316.5 423.33v8.34M329.33 463.5h8.34M333.5 459.33v8.34M373.33 453.5h8.34M377.5 449.33v8.34M344.33 471.5h8.34M348.5 467.33v8.34M364.33 471.5h8.34M368.5 467.33v8.34M342.33 460.5h8.34M346.5 456.33v8.34M351.33 446.5h8.34M355.5 442.33v8.34M355.33 436.5h8.34M359.5 432.33v8.34M359.33 457.5h8.34M363.5 453.33v8.34M352.33 456.5h8.34M356.5 452.33v8.34M355.33 460.5h8.34M359.5 456.33v8.34M374.33 470.5h8.34M378.5 466.33v8.34M329.33 430.5h8.34M333.5 426.33v8.34M377.33 451.5h8.34M381.5 447.33v8.34M346.33 426.5h8.34M350.5 422.33v8.34M369.33 449.5h8.34M373.5 445.33v8.34M346.33 459.5h8.34M350.5 455.33v8.34M343.33 445.5h8.34M347.5 441.33v8.34M344.33 441.5h8.34M348.5 437.33v8.34M343.33 447.5h8.34M347.5 443.33v8.34M309.33 451.5h8.34M313.5 447.33v8.34M358.33 463.5h8.34M362.5 459.33v8.34M360.33 469.5h8.34M364.5 465.33v8.34M362.33 472.5h8.34M366.5 468.33v8.34M324.33 451.5h8.34M328.5 447.33v8.34M323.33 475.5h8.34M327.5 471.33v8.34M330.33 424.5h8.34M334.5 420.33v8.34M369.33 473.5h8.34M373.5 469.33v8.34M342.33 453.5h8.34M346.5 449.33v8.34M356.33 461.5h8.34M360.5 457.33v8.34M337.33 414.5h8.34M341.5 410.33v8.34M340.33 447.5h8.34M344.5 443.33v8.34M327.33 458.5h8.34M331.5 454.33v8.34M308.33 411.5h8.34M312.5 407.33v8.34M364.33 465.5h8.34M368.5 461.33v8.34M337.33 476.5h8.34M341.5 472.33v8.34M341.33 457.5h8.34M345.5 453.33v8.34M332.33 456.5h8.34M336.5 452.33v8.34M329.33 448.5h8.34M333.5 444.33v8.34M358.33 471.5h8.34M362.5 467.33v8.34M351.33 445.5h8.34M355.5 441.33v8.34M317.33 471.5h8.34M321.5 467.33v8.34M312.33 427.5h8.34M316.5 423.33v8.34M308.33 466.5h8.34M312.5 462.33v8.34M334.33 447.5h8.34M338.5 443.33v8.34M334.33 446.5h8.34M338.5 442.33v8.34M344.33 448.5h8.34M348.5 444.33v8.34M318.33 472.5h8.34M322.5 468.33v8.34M269.33 471.5h8.34M273.5 467.33v8.34M267.33 473.5h8.34M271.5 469.33v8.34M265.33 428.5h8.34M269.5 424.33v8.34M278.33 446.5h8.34M282.5 442.33v8.34M279.33 466.5h8.34M283.5 462.33v8.34M276.33 457.5h8.34M280.5 453.33v8.34M271.33 401.5h8.34M275.5 397.33v8.34M275.33 425.5h8.34M279.5 421.33v8.34M265.33 407.5h8.34M269.5 403.33v8.34M278.33 395.5h8.34M282.5 391.33v8.34M264.33 459.5h8.34M268.5 455.33v8.34M276.33 415.5h8.34M280.5 411.33v8.34M270.33 409.5h8.34M274.5 405.33v8.34M266.33 421.5h8.34M270.5 417.33v8.34M279.33 463.5h8.34M283.5 459.33v8.34M265.33 428.5h8.34M269.5 424.33v8.34M271.33 463.5h8.34M275.5 459.33v8.34M278.33 441.5h8.34M282.5 437.33v8.34M279.33 430.5h8.34M283.5 426.33v8.34M279.33 421.5h8.34M283.5 417.33v8.34M269.33 434.5h8.34M273.5 430.33v8.34M270.33 439.5h8.34M274.5 435.33v8.34M272.33 447.5h8.34M276.5 443.33v8.34M272.33 467.5h8.34M276.5 463.33v8.34M269.33 457.5h8.34M273.5 453.33v8.34M265.33 409.5h8.34M269.5 405.33v8.34M268.33 421.5h8.34M272.5 417.33v8.34M270.33 442.5h8.34M274.5 438.33v8.34M266.33 426.5h8.34M270.5 422.33v8.34M277.33 409.5h8.34M281.5 405.33v8.34M278.33 404.5h8.34M282.5 400.33v8.34M269.33 469.5h8.34M273.5 465.33v8.34M272.33 401.5h8.34M276.5 397.33v8.34M267.33 422.5h8.34M271.5 418.33v8.34M273.33 461.5h8.34M277.5 457.33v8.34M274.33 458.5h8.34M278.5 454.33v8.34M277.33 410.5h8.34M281.5 406.33v8.34M264.33 456.5h8.34M268.5 452.33v8.34M270.33 417.5h8.34M274.5 413.33v8.34M274.33 413.5h8.34M278.5 409.33v8.34M267.33 473.5h8.34M271.5 469.33v8.34M275.33 432.5h8.34M279.5 428.33v8.34M278.33 413.5h8.34M282.5 409.33v8.34M275.33 415.5h8.34M279.5 411.33v8.34M270.33 473.5h8.34M274.5 469.33v8.34M272.33 412.5h8.34M276.5 408.33v8.34M270.33 408.5h8.34M274.5 404.33v8.34M269.33 447.5h8.34M273.5 443.33v8.34M277.33 439.5h8.34M281.5 435.33v8.34M267.33 402.5h8.34M271.5 398.33v8.34M268.33 466.5h8.34M272.5 462.33v8.34M266.33 409.5h8.34M270.5 405.33v8.34M267.33 419.5h8.34M271.5 415.33v8.34M278.33 419.5h8.34M282.5 415.33v8.34M273.33 415.5h8.34M277.5 411.33v8.34M277.33 412.5h8.34M281.5 408.33v8.34M277.33 467.5h8.34M281.5 463.33v8.34M278.33 407.5h8.34M282.5 403.33v8.34M277.33 453.5h8.34M281.5 449.33v8.34M269.33 414.5h8.34M273.5 410.33v8.34M302.33 296.5h8.34M306.5 292.33v8.34M283.33 341.5h8.34M287.5 337.33v8.34M278.33 294.5h8.34M282.5 290.33v8.34M293.33 264.5h8.34M297.5 260.33v8.34M304.33 256.5h8.34M308.5 252.33v8.34M290.33 270.5h8.34M294.5 266.33v8.34M322.33 313.5h8.34M326.5 309.33v8.34M315.33 329.5h8.34M319.5 325.33v8.34M282.33 257.5h8.34M286.5 253.33v8.34M271.33 324.5h8.34M275.5 320.33v8.34M289.33 328.5h8.34M293.5 324.33v8.34M277.33 252.5h8.34M281.5 248.33v8.34M297.33 305.5h8.34M301.5 301.33v8.34M281.33 325.5h8.34M285.5 321.33v8.34M291.33 325.5h8.34M295.5 321.33v8.34M292.33 275.5h8.34M296.5 271.33v8.34M294.33 319.5h8.34M298.5 315.33v8.34M325.33 281.5h8.34M329.5 277.33v8.34M334.33 330.5h8.34M338.5 326.33v8.34M276.33 283.5h8.34M280.5 279.33v8.34M301.33 275.5h8.34M305.5 271.33v8.34M298.33 289.5h8.34M302.5 285.33v8.34M270.33 304.5h8.34M274.5 300.33v8.34M275.33 293.5h8.34M279.5 289.33v8.34M299.33 314.5h8.34M303.5 310.33v8.34M282.33 268.5h8.34M286.5 264.33v8.34M298.33 281.5h8.34M302.5 277.33v8.34M292.33 266.5h8.34M296.5 262.33v8.34M299.33 274.5h8.34M303.5 270.33v8.34M314.33 333.5h8.34M318.5 329.33v8.34M293.33 302.5h8.34M297.5 298.33v8.34M283.33 310.5h8.34M287.5 306.33v8.34M310.33 330.5h8.34M314.5 326.33v8.34M282.33 255.5h8.34M286.5 251.33v8.34M281.33 321.5h8.34M285.5 317.33v8.34M298.33 269.5h8.34M302.5 265.33v8.34M290.33 272.5h8.34M294.5 268.33v8.34M314.33 317.5h8.34M318.5 313.33v8.34M279.33 274.5h8.34M283.5 270.33v8.34M299.33 302.5h8.34M303.5 298.33v8.34M301.33 321.5h8.34M305.5 317.33v8.34M298.33 252.5h8.34M302.5 248.33v8.34M284.33 316.5h8.34M288.5 312.33v8.34M293.33 285.5h8.34M297.5 281.33v8.34M300.33 278.5h8.34M304.5 274.33v8.34M310.33 344.5h8.34M314.5 340.33v8.34M294.33 338.5h8.34M298.5 334.33v8.34M284.33 313.5h8.34M288.5 309.33v8.34M304.33 327.5h8.34M308.5 323.33v8.34M292.33 324.5h8.34M296.5 320.33v8.34M286.33 297.5h8.34M290.5 293.33v8.34M285.33 338.5h8.34M289.5 334.33v8.34M297.33 264.5h8.34M301.5 260.33v8.34M323.33 299.5h8.34M327.5 295.33v8.34M274.33 294.5h8.34M278.5 290.33v8.34M305.33 301.5h8.34M309.5 297.33v8.34M301.33 281.5h8.34M305.5 277.33v8.34M305.33 304.5h8.34M309.5 300.33v8.34M301.33 327.5h8.34M305.5 323.33v8.34M323.33 285.5h8.34M327.5 281.33v8.34M285.33 315.5h8.34M289.5 311.33v8.34M290.33 256.5h8.34M294.5 252.33v8.34M294.33 271.5h8.34M298.5 267.33v8.34M282.33 304.5h8.34M286.5 300.33v8.34M308.33 331.5h8.34M312.5 327.33v8.34M273.33 336.5h8.34M277.5 332.33v8.34M305.33 312.5h8.34M309.5 308.33v8.34M313.33 278.5h8.34M317.5 274.33v8.34M270.33 295.5h8.34M274.5 291.33v8.34M299.33 322.5h8.34M303.5 318.33v8.34M292.33 317.5h8.34M296.5 313.33v8.34M307.33 281.5h8.34M311.5 277.33v8.34M273.33 283.5h8.34M277.5 279.33v8.34M292.33 310.5h8.34M296.5 306.33v8.34M304.33 309.5h8.34M308.5 305.33v8.34M278.33 316.5h8.34M282.5 312.33v8.34M329.33 301.5h8.34M333.5 297.33v8.34M284.33 332.5h8.34M288.5 328.33v8.34M285.33 262.5h8.34M289.5 258.33v8.34M312.33 283.5h8.34M316.5 279.33v8.34M277.33 332.5h8.34M281.5 328.33v8.34M298.33 307.5h8.34M302.5 303.33v8.34M332.33 330.5h8.34M336.5 326.33v8.34M318.33 267.5h8.34M322.5 263.33v8.34M301.33 340.5h8.34M305.5 336.33v8.34M271.33 304.5h8.34M275.5 300.33v8.34M295.33 319.5h8.34M299.5 315.33v8.34M282.33 288.5h8.34M286.5 284.33v8.34M305.33 296.5h8.34M309.5 292.33v8.34M298.33 323.5h8.34M302.5 319.33v8.34M288.33 312.5h8.34M292.5 308.33v8.34M292.33 278.5h8.34M296.5 274.33v8.34M274.33 339.5h8.34M278.5 335.33v8.34M305.33 333.5h8.34M309.5 329.33v8.34M296.33 261.5h8.34M300.5 257.33v8.34M276.33 262.5h8.34M280.5 258.33v8.34M286.33 289.5h8.34M290.5 285.33v8.34M309.33 331.5h8.34M313.5 327.33v8.34M294.33 313.5h8.34M298.5 309.33v8.34M299.33 291.5h8.34M303.5 287.33v8.34M285.33 304.5h8.34M289.5 300.33v8.34M311.33 317.5h8.34M315.5 313.33v8.34M269.33 298.5h8.34M273.5 294.33v8.34M288.33 322.5h8.34M292.5 318.33v8.34M309.33 304.5h8.34M313.5 300.33v8.34M280.33 280.5h8.34M284.5 276.33v8.34M283.33 301.5h8.34M287.5 297.33v8.34M299.33 324.5h8.34M303.5 320.33v8.34M289.33 322.5h8.34M293.5 318.33v8.34M323.33 340.5h8.34M327.5 336.33v8.34M299.33 301.5h8.34M303.5 297.33v8.34M291.33 266.5h8.34M295.5 262.33v8.34M312.33 312.5h8.34M316.5 308.33v8.34M299.33 269.5h8.34M303.5 265.33v8.34M303.33 286.5h8.34M307.5 282.33v8.34M287.33 267.5h8.34M291.5 263.33v8.34M294.33 312.5h8.34M298.5 308.33v8.34M307.33 335.5h8.34M311.5 331.33v8.34M307.33 291.5h8.34M311.5 287.33v8.34M269.33 305.5h8.34M273.5 301.33v8.34M269.33 300.5h8.34M273.5 296.33v8.34M286.33 255.5h8.34M290.5 251.33v8.34M278.33 304.5h8.34M282.5 300.33v8.34M323.33 325.5h8.34M327.5 321.33v8.34M273.33 342.5h8.34M277.5 338.33v8.34M279.33 319.5h8.34M283.5 315.33v8.34M280.33 291.5h8.34M284.5 287.33v8.34M306.33 323.5h8.34M310.5 319.33v8.34M309.33 333.5h8.34M313.5 329.33v8.34M284.33 306.5h8.34M288.5 302.33v8.34M288.33 272.5h8.34M292.5 268.33v8.34M311.33 301.5h8.34M315.5 297.33v8.34M298.33 319.5h8.34M302.5 315.33v8.34M323.33 295.5h8.34M327.5 291.33v8.34M300.33 332.5h8.34M304.5 328.33v8.34M302.33 284.5h8.34M306.5 280.33v8.34M315.33 307.5h8.34M319.5 303.33v8.34M303.33 279.5h8.34M307.5 275.33v8.34M289.33 262.5h8.34M293.5 258.33v8.34M324.33 266.5h8.34M328.5 262.33v8.34M267.33 299.5h8.34M271.5 295.33v8.34M281.33 290.5h8.34M285.5 286.33v8.34M273.33 274.5h8.34M277.5 270.33v8.34M282.33 344.5h8.34M286.5 340.33v8.34M317.33 267.5h8.34M321.5 263.33v8.34M285.33 262.5h8.34M289.5 258.33v8.34M304.33 327.5h8.34M308.5 323.33v8.34M288.33 308.5h8.34M292.5 304.33v8.34M300.33 301.5h8.34M304.5 297.33v8.34M298.33 287.5h8.34M302.5 283.33v8.34M226.33 435.5h8.34M230.5 431.33v8.34M260.33 263.5h8.34M264.5 259.33v8.34M257.33 278.5h8.34M261.5 274.33v8.34M265.33 296.5h8.34M269.5 292.33v8.34M202.33 374.5h8.34M206.5 370.33v8.34M198.33 399.5h8.34M202.5 395.33v8.34M207.33 396.5h8.34M211.5 392.33v8.34M236.33 396.5h8.34M240.5 392.33v8.34M202.33 368.5h8.34M206.5 364.33v8.34M225.33 447.5h8.34M229.5 443.33v8.34M242.33 425.5h8.34M246.5 421.33v8.34M206.33 269.5h8.34M210.5 265.33v8.34M235.33 433.5h8.34M239.5 429.33v8.34M218.33 315.5h8.34M222.5 311.33v8.34M226.33 305.5h8.34M230.5 301.33v8.34M262.33 408.5h8.34M266.5 404.33v8.34M204.33 406.5h8.34M208.5 402.33v8.34M246.33 442.5h8.34M250.5 438.33v8.34M218.33 455.5h8.34M222.5 451.33v8.34M257.33 272.5h8.34M261.5 268.33v8.34M213.33 406.5h8.34M217.5 402.33v8.34M246.33 301.5h8.34M250.5 297.33v8.34M223.33 424.5h8.34M227.5 420.33v8.34M236.33 393.5h8.34M240.5 389.33v8.34M244.33 343.5h8.34M248.5 339.33v8.34M199.33 334.5h8.34M203.5 330.33v8.34M260.33 258.5h8.34M264.5 254.33v8.34M198.33 328.5h8.34M202.5 324.33v8.34M254.33 389.5h8.34M258.5 385.33v8.34M243.33 286.5h8.34M247.5 282.33v8.34M244.33 310.5h8.34M248.5 306.33v8.34M225.33 258.5h8.34M229.5 254.33v8.34M199.33 369.5h8.34M203.5 365.33v8.34M253.33 361.5h8.34M257.5 357.33v8.34M225.33 262.5h8.34M229.5 258.33v8.34M231.33 351.5h8.34M235.5 347.33v8.34M207.33 370.5h8.34M211.5 366.33v8.34M198.33 426.5h8.34M202.5 422.33v8.34M243.33 347.5h8.34M247.5 343.33v8.34M252.33 308.5h8.34M256.5 304.33v8.34M248.33 285.5h8.34M252.5 281.33v8.34M262.33 412.5h8.34M266.5 408.33v8.34M206.33 423.5h8.34M210.5 419.33v8.34M234.33 397.5h8.34M238.5 393.33v8.34M226.33 360.5h8.34M230.5 356.33v8.34M252.33 409.5h8.34M256.5 405.33v8.34M197.33 338.5h8.34M201.5 334.33v8.34M223.33 312.5h8.34M227.5 308.33v8.34M213.33 331.5h8.34M217.5 327.33v8.34M201.33 346.5h8.34M205.5 342.33v8.34M264.33 348.5h8.34M268.5 344.33v8.34M197.33 365.5h8.34M201.5 361.33v8.34M213.33 364.5h8.34M217.5 360.33v8.34M240.33 440.5h8.34M244.5 436.33v8.34M249.33 376.5h8.34M253.5 372.33v8.34M250.33 259.5h8.34M254.5 255.33v8.34M221.33 351.5h8.34M225.5 347.33v8.34M248.33 395.5h8.34M252.5 391.33v8.34M209.33 394.5h8.34M213.5 390.33v8.34M199.33 353.5h8.34M203.5 349.33v8.34M267.33 288.5h8.34M271.5 284.33v8.34M224.33 399.5h8.34M228.5 395.33v8.34M260.33 254.5h8.34M264.5 250.33v8.34M217.33 416.5h8.34M221.5 412.33v8.34M197.33 255.5h8.34M201.5 251.33v8.34M257.33 449.5h8.34M261.5 445.33v8.34M234.33 333.5h8.34M238.5 329.33v8.34M249.33 404.5h8.34M253.5 400.33v8.34M230.33 359.5h8.34M234.5 355.33v8.34M221.33 275.5h8.34M225.5 271.33v8.34M211.33 290.5h8.34M215.5 286.33v8.34M243.33 276.5h8.34M247.5 272.33v8.34M223.33 272.5h8.34M227.5 268.33v8.34M199.33 336.5h8.34M203.5 332.33v8.34M213.33 427.5h8.34M217.5 423.33v8.34M235.33 359.5h8.34M239.5 355.33v8.34M264.33 426.5h8.34M268.5 422.33v8.34M199.33 305.5h8.34M203.5 301.33v8.34M232.33 412.5h8.34M236.5 408.33v8.34M214.33 381.5h8.34M218.5 377.33v8.34M229.33 451.5h8.34M233.5 447.33v8.34M215.33 353.5h8.34M219.5 349.33v8.34M268.33 384.5h8.34M272.5 380.33v8.34M226.33 337.5h8.34M230.5 333.33v8.34M267.33 295.5h8.34M271.5 291.33v8.34M265.33 365.5h8.34M269.5 361.33v8.34M214.33 453.5h8.34M218.5 449.33v8.34M230.33 304.5h8.34M234.5 300.33v8.34M241.33 374.5h8.34M245.5 370.33v8.34M230.33 451.5h8.34M234.5 447.33v8.34M214.33 450.5h8.34M218.5 446.33v8.34M235.33 330.5h8.34M239.5 326.33v8.34M212.33 325.5h8.34M216.5 321.33v8.34M252.33 445.5h8.34M256.5 441.33v8.34M258.33 319.5h8.34M262.5 315.33v8.34M204.33 310.5h8.34M208.5 306.33v8.34M219.33 332.5h8.34M223.5 328.33v8.34M249.33 257.5h8.34M253.5 253.33v8.34M220.33 339.5h8.34M224.5 335.33v8.34M259.33 379.5h8.34M263.5 375.33v8.34M219.33 415.5h8.34M223.5 411.33v8.34M255.33 314.5h8.34M259.5 310.33v8.34M232.33 328.5h8.34M236.5 324.33v8.34M243.33 263.5h8.34M247.5 259.33v8.34M252.33 322.5h8.34M256.5 318.33v8.34M231.33 263.5h8.34M235.5 259.33v8.34M208.33 423.5h8.34M212.5 419.33v8.34M236.33 288.5h8.34M240.5 284.33v8.34M230.33 297.5h8.34M234.5 293.33v8.34M257.33 255.5h8.34M261.5 251.33v8.34M219.33 422.5h8.34M223.5 418.33v8.34M233.33 305.5h8.34M237.5 301.33v8.34M246.33 362.5h8.34M250.5 358.33v8.34M267.33 435.5h8.34M271.5 431.33v8.34M228.33 307.5h8.34M232.5 303.33v8.34M228.33 402.5h8.34M232.5 398.33v8.34M211.33 401.5h8.34M215.5 397.33v8.34M220.33 268.5h8.34M224.5 264.33v8.34M216.33 348.5h8.34M220.5 344.33v8.34M202.33 318.5h8.34M206.5 314.33v8.34M217.33 388.5h8.34M221.5 384.33v8.34M244.33 370.5h8.34M248.5 366.33v8.34M215.33 442.5h8.34M219.5 438.33v8.34M229.33 416.5h8.34M233.5 412.33v8.34M247.33 257.5h8.34M251.5 253.33v8.34M228.33 271.5h8.34M232.5 267.33v8.34M222.33 379.5h8.34M226.5 375.33v8.34M197.33 346.5h8.34M201.5 342.33v8.34M220.33 294.5h8.34M224.5 290.33v8.34M204.33 357.5h8.34M208.5 353.33v8.34M237.33 359.5h8.34M241.5 355.33v8.34M213.33 404.5h8.34M217.5 400.33v8.34M248.33 328.5h8.34M252.5 324.33v8.34M221.33 395.5h8.34M225.5 391.33v8.34M201.33 390.5h8.34M205.5 386.33v8.34M201.33 415.5h8.34M205.5 411.33v8.34M219.33 277.5h8.34M223.5 273.33v8.34M224.33 306.5h8.34M228.5 302.33v8.34M231.33 387.5h8.34M235.5 383.33v8.34M212.33 304.5h8.34M216.5 300.33v8.34M262.33 429.5h8.34M266.5 425.33v8.34M256.33 398.5h8.34M260.5 394.33v8.34M247.33 264.5h8.34M251.5 260.33v8.34M266.33 405.5h8.34M270.5 401.33v8.34M200.33 293.5h8.34M204.5 289.33v8.34M268.33 430.5h8.34M272.5 426.33v8.34M259.33 381.5h8.34M263.5 377.33v8.34M247.33 287.5h8.34M251.5 283.33v8.34M265.33 335.5h8.34M269.5 331.33v8.34M205.33 293.5h8.34M209.5 289.33v8.34M197.33 304.5h8.34M201.5 300.33v8.34M264.33 379.5h8.34M268.5 375.33v8.34M221.33 275.5h8.34M225.5 271.33v8.34M253.33 295.5h8.34M257.5 291.33v8.34M227.33 422.5h8.34M231.5 418.33v8.34M223.33 275.5h8.34M227.5 271.33v8.34M196.33 348.5h8.34M200.5 344.33v8.34M247.33 453.5h8.34M251.5 449.33v8.34M202.33 306.5h8.34M206.5 302.33v8.34M220.33 434.5h8.34M224.5 430.33v8.34M237.33 440.5h8.34M241.5 436.33v8.34M257.33 261.5h8.34M261.5 257.33v8.34M233.33 434.5h8.34M237.5 430.33v8.34M254.33 278.5h8.34M258.5 274.33v8.34M234.33 340.5h8.34M238.5 336.33v8.34M226.33 370.5h8.34M230.5 366.33v8.34M216.33 285.5h8.34M220.5 281.33v8.34M202.33 297.5h8.34M206.5 293.33v8.34M259.33 342.5h8.34M263.5 338.33v8.34M238.33 435.5h8.34M242.5 431.33v8.34M207.33 391.5h8.34M211.5 387.33v8.34M266.33 452.5h8.34M270.5 448.33v8.34M202.33 383.5h8.34M206.5 379.33v8.34M227.33 439.5h8.34M231.5 435.33v8.34M227.33 342.5h8.34M231.5 338.33v8.34M265.33 434.5h8.34M269.5 430.33v8.34M203.33 301.5h8.34M207.5 297.33v8.34M264.33 291.5h8.34M268.5 287.33v8.34M245.33 289.5h8.34M249.5 285.33v8.34M211.33 315.5h8.34M215.5 311.33v8.34M228.33 440.5h8.34M232.5 436.33v8.34M208.33 395.5h8.34M212.5 391.33v8.34M263.33 406.5h8.34M267.5 402.33v8.34M198.33 446.5h8.34M202.5 442.33v8.34M251.33 256.5h8.34M255.5 252.33v8.34M220.33 345.5h8.34M224.5 341.33v8.34M220.33 448.5h8.34M224.5 444.33v8.34M199.33 295.5h8.34M203.5 291.33v8.34M196.33 401.5h8.34M200.5 397.33v8.34M218.33 418.5h8.34M222.5 414.33v8.34M258.33 387.5h8.34M262.5 383.33v8.34M213.33 339.5h8.34M217.5 335.33v8.34M239.33 395.5h8.34M243.5 391.33v8.34M223.33 451.5h8.34M227.5 447.33v8.34M199.33 454.5h8.34M203.5 450.33v8.34M265.33 289.5h8.34M269.5 285.33v8.34M254.33 291.5h8.34M258.5 287.33v8.34M267.33 357.5h8.34M271.5 353.33v8.34M196.33 284.5h8.34M200.5 280.33v8.34M217.33 441.5h8.34M221.5 437.33v8.34M261.33 300.5h8.34M265.5 296.33v8.34M229.33 428.5h8.34M233.5 424.33v8.34M258.33 370.5h8.34M262.5 366.33v8.34M251.33 318.5h8.34M255.5 314.33v8.34M262.33 313.5h8.34M266.5 309.33v8.34M217.33 355.5h8.34M221.5 351.33v8.34M204.33 421.5h8.34M208.5 417.33v8.34M235.33 308.5h8.34M239.5 304.33v8.34M249.33 283.5h8.34M253.5 279.33v8.34M204.33 429.5h8.34M208.5 425.33v8.34M203.33 291.5h8.34M207.5 287.33v8.34M233.33 279.5h8.34M237.5 275.33v8.34M200.33 275.5h8.34M204.5 271.33v8.34M255.33 347.5h8.34M259.5 343.33v8.34M267.33 358.5h8.34M271.5 354.33v8.34M206.33 347.5h8.34M210.5 343.33v8.34M211.33 299.5h8.34M215.5 295.33v8.34M253.33 342.5h8.34M257.5 338.33v8.34M222.33 452.5h8.34M226.5 448.33v8.34M203.33 328.5h8.34M207.5 324.33v8.34M243.33 427.5h8.34M247.5 423.33v8.34M228.33 354.5h8.34M232.5 350.33v8.34M260.33 260.5h8.34M264.5 256.33v8.34M230.33 364.5h8.34M234.5 360.33v8.34M229.33 452.5h8.34M233.5 448.33v8.34M225.33 298.5h8.34M229.5 294.33v8.34M219.33 408.5h8.34M223.5 404.33v8.34M216.33 425.5h8.34M220.5 421.33v8.34M261.33 409.5h8.34M265.5 405.33v8.34M264.33 325.5h8.34M268.5 321.33v8.34M215.33 438.5h8.34M219.5 434.33v8.34M204.33 302.5h8.34M208.5 298.33v8.34M225.33 294.5h8.34M229.5 290.33v8.34M259.33 445.5h8.34M263.5 441.33v8.34M265.33 309.5h8.34M269.5 305.33v8.34M217.33 434.5h8.34M221.5 430.33v8.34M224.33 408.5h8.34M228.5 404.33v8.34M225.33 370.5h8.34M229.5 366.33v8.34M204.33 446.5h8.34M208.5 442.33v8.34M236.33 292.5h8.34M240.5 288.33v8.34M237.33 296.5h8.34M241.5 292.33v8.34M227.33 389.5h8.34M231.5 385.33v8.34M250.33 402.5h8.34M254.5 398.33v8.34M232.33 370.5h8.34M236.5 366.33v8.34M213.33 315.5h8.34M217.5 311.33v8.34M197.33 362.5h8.34M201.5 358.33v8.34M261.33 267.5h8.34M265.5 263.33v8.34M216.33 404.5h8.34M220.5 400.33v8.34M248.33 346.5h8.34M252.5 342.33v8.34M202.33 452.5h8.34M206.5 448.33v8.34M238.33 428.5h8.34M242.5 424.33v8.34M216.33 289.5h8.34M220.5 285.33v8.34M223.33 444.5h8.34M227.5 440.33v8.34M256.33 398.5h8.34M260.5 394.33v8.34M265.33 368.5h8.34M269.5 364.33v8.34M252.33 367.5h8.34M256.5 363.33v8.34M202.33 299.5h8.34M206.5 295.33v8.34M202.33 403.5h8.34M206.5 399.33v8.34M209.33 438.5h8.34M213.5 434.33v8.34M206.33 446.5h8.34M210.5 442.33v8.34M214.33 271.5h8.34M218.5 267.33v8.34M207.33 416.5h8.34M211.5 412.33v8.34M254.33 309.5h8.34M258.5 305.33v8.34M204.33 332.5h8.34M208.5 328.33v8.34M233.33 306.5h8.34M237.5 302.33v8.34M199.33 255.5h8.34M203.5 251.33v8.34M203.33 436.5h8.34M207.5 432.33v8.34M237.33 327.5h8.34M241.5 323.33v8.34M250.33 411.5h8.34M254.5 407.33v8.34M220.33 347.5h8.34M224.5 343.33v8.34M268.33 259.5h8.34M272.5 255.33v8.34M259.33 268.5h8.34M263.5 264.33v8.34M264.33 269.5h8.34M268.5 265.33v8.34M245.33 320.5h8.34M249.5 316.33v8.34M205.33 390.5h8.34M209.5 386.33v8.34M248.33 456.5h8.34M252.5 452.33v8.34M200.33 260.5h8.34M204.5 256.33v8.34M229.33 386.5h8.34M233.5 382.33v8.34M252.33 429.5h8.34M256.5 425.33v8.34M222.33 455.5h8.34M226.5 451.33v8.34M207.33 434.5h8.34M211.5 430.33v8.34M239.33 399.5h8.34M243.5 395.33v8.34M243.33 395.5h8.34M247.5 391.33v8.34M210.33 420.5h8.34M214.5 416.33v8.34M257.33 443.5h8.34M261.5 439.33v8.34M248.33 264.5h8.34M252.5 260.33v8.34M202.33 455.5h8.34M206.5 451.33v8.34M224.33 429.5h8.34M228.5 425.33v8.34M208.33 362.5h8.34M212.5 358.33v8.34M203.33 411.5h8.34M207.5 407.33v8.34M197.33 404.5h8.34M201.5 400.33v8.34M260.33 283.5h8.34M264.5 279.33v8.34M228.33 355.5h8.34M232.5 351.33v8.34M248.33 338.5h8.34M252.5 334.33v8.34M225.33 402.5h8.34M229.5 398.33v8.34M245.33 435.5h8.34M249.5 431.33v8.34M248.33 327.5h8.34M252.5 323.33v8.34M251.33 374.5h8.34M255.5 370.33v8.34M208.33 270.5h8.34M212.5 266.33v8.34M204.33 396.5h8.34M208.5 392.33v8.34M212.33 425.5h8.34M216.5 421.33v8.34M211.33 441.5h8.34M215.5 437.33v8.34M200.33 454.5h8.34M204.5 450.33v8.34M209.33 433.5h8.34M213.5 429.33v8.34M206.33 397.5h8.34M210.5 393.33v8.34M206.33 395.5h8.34M210.5 391.33v8.34M208.33 421.5h8.34M212.5 417.33v8.34M208.33 424.5h8.34M212.5 420.33v8.34M204.33 436.5h8.34M208.5 432.33v8.34M206.33 410.5h8.34M210.5 406.33v8.34M207.33 414.5h8.34M211.5 410.33v8.34M210.33 430.5h8.34M214.5 426.33v8.34M206.33 446.5h8.34M210.5 442.33v8.34M203.33 453.5h8.34M207.5 449.33v8.34M205.33 408.5h8.34M209.5 404.33v8.34M200.33 430.5h8.34M204.5 426.33v8.34M208.33 394.5h8.34M212.5 390.33v8.34M202.33 416.5h8.34M206.5 412.33v8.34M200.33 453.5h8.34M204.5 449.33v8.34M204.33 451.5h8.34M208.5 447.33v8.34M212.33 391.5h8.34M216.5 387.33v8.34M200.33 408.5h8.34M204.5 404.33v8.34M211.33 400.5h8.34M215.5 396.33v8.34M202.33 443.5h8.34M206.5 439.33v8.34M199.33 427.5h8.34M203.5 423.33v8.34M202.33 441.5h8.34M206.5 437.33v8.34M208.33 409.5h8.34M212.5 405.33v8.34M207.33 436.5h8.34M211.5 432.33v8.34M204.33 398.5h8.34M208.5 394.33v8.34M205.33 432.5h8.34M209.5 428.33v8.34M201.33 428.5h8.34M205.5 424.33v8.34M212.33 432.5h8.34M216.5 428.33v8.34M211.33 407.5h8.34M215.5 403.33v8.34M206.33 391.5h8.34M210.5 387.33v8.34M200.33 417.5h8.34M204.5 413.33v8.34M214.33 388.5h8.34M218.5 384.33v8.34M208.33 425.5h8.34M212.5 421.33v8.34M204.33 406.5h8.34M208.5 402.33v8.34M205.33 399.5h8.34M209.5 395.33v8.34M205.33 453.5h8.34M209.5 449.33v8.34M205.33 451.5h8.34M209.5 447.33v8.34M201.33 422.5h8.34M205.5 418.33v8.34M210.33 432.5h8.34M214.5 428.33v8.34M211.33 436.5h8.34M215.5 432.33v8.34M208.33 418.5h8.34M212.5 414.33v8.34M207.33 392.5h8.34M211.5 388.33v8.34M206.33 432.5h8.34M210.5 428.33v8.34M208.33 393.5h8.34M212.5 389.33v8.34M200.33 423.5h8.34M204.5 419.33v8.34M208.33 435.5h8.34M212.5 431.33v8.34M204.33 412.5h8.34M208.5 408.33v8.34M201.33 424.5h8.34M205.5 420.33v8.34M205.33 391.5h8.34M209.5 387.33v8.34M204.33 408.5h8.34M208.5 404.33v8.34M203.33 411.5h8.34M207.5 407.33v8.34M205.33 453.5h8.34M209.5 449.33v8.34M206.33 421.5h8.34M210.5 417.33v8.34M208.33 393.5h8.34M212.5 389.33v8.34M211.33 414.5h8.34M215.5 410.33v8.34M207.33 402.5h8.34M211.5 398.33v8.34M205.33 410.5h8.34M209.5 406.33v8.34M205.33 397.5h8.34M209.5 393.33v8.34M201.33 398.5h8.34M205.5 394.33v8.34M207.33 414.5h8.34M211.5 410.33v8.34M203.33 422.5h8.34M207.5 418.33v8.34M204.33 390.5h8.34M208.5 386.33v8.34M206.33 415.5h8.34M210.5 411.33v8.34M202.33 445.5h8.34M206.5 441.33v8.34M208.33 447.5h8.34M212.5 443.33v8.34M203.33 429.5h8.34M207.5 425.33v8.34M211.33 395.5h8.34M215.5 391.33v8.34M207.33 443.5h8.34M211.5 439.33v8.34M208.33 444.5h8.34M212.5 440.33v8.34M204.33 427.5h8.34M208.5 423.33v8.34M206.33 405.5h8.34M210.5 401.33v8.34M206.33 453.5h8.34M210.5 449.33v8.34M210.33 389.5h8.34M214.5 385.33v8.34M207.33 394.5h8.34M211.5 390.33v8.34M201.33 400.5h8.34M205.5 396.33v8.34M212.33 429.5h8.34M216.5 425.33v8.34M205.33 439.5h8.34M209.5 435.33v8.34M202.33 400.5h8.34M206.5 396.33v8.34M208.33 453.5h8.34M212.5 449.33v8.34M203.33 437.5h8.34M207.5 433.33v8.34M206.33 414.5h8.34M210.5 410.33v8.34M206.33 435.5h8.34M210.5 431.33v8.34M209.33 391.5h8.34M213.5 387.33v8.34M208.33 389.5h8.34M212.5 385.33v8.34M201.33 423.5h8.34M205.5 419.33v8.34M206.33 393.5h8.34M210.5 389.33v8.34M200.33 448.5h8.34M204.5 444.33v8.34M205.33 414.5h8.34M209.5 410.33v8.34M210.33 431.5h8.34M214.5 427.33v8.34M203.33 416.5h8.34M207.5 412.33v8.34M204.33 449.5h8.34M208.5 445.33v8.34M205.33 423.5h8.34M209.5 419.33v8.34M204.33 391.5h8.34M208.5 387.33v8.34M200.33 448.5h8.34M204.5 444.33v8.34M214.33 423.5h8.34M218.5 419.33v8.34M208.33 399.5h8.34M212.5 395.33v8.34M206.33 430.5h8.34M210.5 426.33v8.34M206.33 452.5h8.34M210.5 448.33v8.34M213.33 434.5h8.34M217.5 430.33v8.34M201.33 396.5h8.34M205.5 392.33v8.34M205.33 452.5h8.34M209.5 448.33v8.34M205.33 433.5h8.34M209.5 429.33v8.34M206.33 442.5h8.34M210.5 438.33v8.34M205.33 441.5h8.34M209.5 437.33v8.34M204.33 439.5h8.34M208.5 435.33v8.34M206.33 415.5h8.34M210.5 411.33v8.34M210.33 395.5h8.34M214.5 391.33v8.34M225.33 437.5h8.34M229.5 433.33v8.34M218.33 414.5h8.34M222.5 410.33v8.34M230.33 438.5h8.34M234.5 434.33v8.34M231.33 402.5h8.34M235.5 398.33v8.34M231.33 396.5h8.34M235.5 392.33v8.34M217.33 421.5h8.34M221.5 417.33v8.34M231.33 435.5h8.34M235.5 431.33v8.34M216.33 438.5h8.34M220.5 434.33v8.34M241.33 400.5h8.34M245.5 396.33v8.34M234.33 431.5h8.34M238.5 427.33v8.34M212.33 413.5h8.34M216.5 409.33v8.34M214.33 432.5h8.34M218.5 428.33v8.34M232.33 437.5h8.34M236.5 433.33v8.34M222.33 394.5h8.34M226.5 390.33v8.34M213.33 418.5h8.34M217.5 414.33v8.34M237.33 409.5h8.34M241.5 405.33v8.34M231.33 423.5h8.34M235.5 419.33v8.34M213.33 420.5h8.34M217.5 416.33v8.34M216.33 430.5h8.34M220.5 426.33v8.34M231.33 441.5h8.34M235.5 437.33v8.34M226.33 398.5h8.34M230.5 394.33v8.34M219.33 407.5h8.34M223.5 403.33v8.34M241.33 429.5h8.34M245.5 425.33v8.34M235.33 431.5h8.34M239.5 427.33v8.34M217.33 396.5h8.34M221.5 392.33v8.34M232.33 398.5h8.34M236.5 394.33v8.34M215.33 396.5h8.34M219.5 392.33v8.34M235.33 393.5h8.34M239.5 389.33v8.34M212.33 405.5h8.34M216.5 401.33v8.34M220.33 426.5h8.34M224.5 422.33v8.34M236.33 407.5h8.34M240.5 403.33v8.34M240.33 403.5h8.34M244.5 399.33v8.34M210.33 440.5h8.34M214.5 436.33v8.34M238.33 387.5h8.34M242.5 383.33v8.34M239.33 389.5h8.34M243.5 385.33v8.34M240.33 389.5h8.34M244.5 385.33v8.34M220.33 416.5h8.34M224.5 412.33v8.34M225.33 416.5h8.34M229.5 412.33v8.34M231.33 409.5h8.34M235.5 405.33v8.34M213.33 422.5h8.34M217.5 418.33v8.34M239.33 388.5h8.34M243.5 384.33v8.34M234.33 419.5h8.34M238.5 415.33v8.34M229.33 433.5h8.34M233.5 429.33v8.34M231.33 407.5h8.34M235.5 403.33v8.34M215.33 404.5h8.34M219.5 400.33v8.34M211.33 437.5h8.34M215.5 433.33v8.34M219.33 396.5h8.34M223.5 392.33v8.34M223.33 396.5h8.34M227.5 392.33v8.34M227.33 421.5h8.34M231.5 417.33v8.34M233.33 437.5h8.34M237.5 433.33v8.34M221.33 421.5h8.34M225.5 417.33v8.34M216.33 427.5h8.34M220.5 423.33v8.34M231.33 426.5h8.34M235.5 422.33v8.34M237.33 403.5h8.34M241.5 399.33v8.34M222.33 389.5h8.34M226.5 385.33v8.34M235.33 403.5h8.34M239.5 399.33v8.34M232.33 401.5h8.34M236.5 397.33v8.34M218.33 394.5h8.34M222.5 390.33v8.34M223.33 407.5h8.34M227.5 403.33v8.34M347.33 276.5h8.34M351.5 272.33v8.34M367.33 311.5h8.34M371.5 307.33v8.34M342.33 337.5h8.34M346.5 333.33v8.34M337.33 368.5h8.34M341.5 364.33v8.34M342.33 368.5h8.34M346.5 364.33v8.34M352.33 366.5h8.34M356.5 362.33v8.34M340.33 402.5h8.34M344.5 398.33v8.34M340.33 415.5h8.34M344.5 411.33v8.34M326.33 300.5h8.34M330.5 296.33v8.34M286.33 493.5h8.34M290.5 489.33v8.34M291.33 495.5h8.34M295.5 491.33v8.34M304.33 493.5h8.34M308.5 489.33v8.34M323.33 500.5h8.34M327.5 496.33v8.34M191.33 471.5h8.34M195.5 467.33v8.34M189.33 404.5h8.34M193.5 400.33v8.34M203.33 457.5h8.34M207.5 453.33v8.34M205.33 459.5h8.34M209.5 455.33v8.34M209.33 458.5h8.34M213.5 454.33v8.34M206.33 461.5h8.34M210.5 457.33v8.34M276.33 61.5h8.34M280.5 57.33v8.34M279.33 69.5h8.34M283.5 65.33v8.34M288.33 72.5h8.34M292.5 68.33v8.34M290.33 71.5h8.34M294.5 67.33v8.34M297.33 65.5h8.34M301.5 61.33v8.34M306.33 65.5h8.34M310.5 61.33v8.34M296.33 69.5h8.34M300.5 65.33v8.34M302.33 61.5h8.34M306.5 57.33v8.34M299.33 63.5h8.34M303.5 59.33v8.34M366.33 116.5h8.34M370.5 112.33v8.34M236.33 254.5h8.34M240.5 250.33v8.34M250.33 255.5h8.34M254.5 251.33v8.34M226.33 261.5h8.34M230.5 257.33v8.34M227.33 262.5h8.34M231.5 258.33v8.34M241.33 268.5h8.34M245.5 264.33v8.34M238.33 276.5h8.34M242.5 272.33v8.34M245.33 287.5h8.34M249.5 283.33v8.34M244.33 286.5h8.34M248.5 282.33v8.34M243.33 290.5h8.34M247.5 286.33v8.34M243.33 287.5h8.34M247.5 283.33v8.34M258.33 285.5h8.34M262.5 281.33v8.34M257.33 288.5h8.34M261.5 284.33v8.34M261.33 287.5h8.34M265.5 283.33v8.34M255.33 283.5h8.34M259.5 279.33v8.34M260.33 289.5h8.34M264.5 285.33v8.34M260.33 287.5h8.34M264.5 283.33v8.34M257.33 299.5h8.34M261.5 295.33v8.34M258.33 305.5h8.34M262.5 301.33v8.34M251.33 304.5h8.34M255.5 300.33v8.34M254.33 311.5h8.34M258.5 307.33v8.34M254.33 303.5h8.34M258.5 299.33v8.34M259.33 301.5h8.34M263.5 297.33v8.34M256.33 301.5h8.34M260.5 297.33v8.34M250.33 298.5h8.34M254.5 294.33v8.34M234.33 304.5h8.34M238.5 300.33v8.34M234.33 308.5h8.34M238.5 304.33v8.34M236.33 314.5h8.34M240.5 310.33v8.34M254.33 319.5h8.34M258.5 315.33v8.34M226.33 322.5h8.34M230.5 318.33v8.34M230.33 323.5h8.34M234.5 319.33v8.34M244.33 322.5h8.34M248.5 318.33v8.34M262.33 300.5h8.34M266.5 296.33v8.34M195.33 335.5h8.34M199.5 331.33v8.34M198.33 336.5h8.34M202.5 332.33v8.34M197.33 334.5h8.34M201.5 330.33v8.34M202.33 342.5h8.34M206.5 338.33v8.34M230.33 323.5h8.34M234.5 319.33v8.34M226.33 324.5h8.34M230.5 320.33v8.34M243.33 323.5h8.34M247.5 319.33v8.34M248.33 324.5h8.34M252.5 320.33v8.34M255.33 322.5h8.34M259.5 318.33v8.34M225.33 333.5h8.34M229.5 329.33v8.34M239.33 335.5h8.34M243.5 331.33v8.34M254.33 330.5h8.34M258.5 326.33v8.34M231.33 342.5h8.34M235.5 338.33v8.34M257.33 348.5h8.34M261.5 344.33v8.34M257.33 351.5h8.34M261.5 347.33v8.34M252.33 346.5h8.34M256.5 342.33v8.34M256.33 342.5h8.34M260.5 338.33v8.34M255.33 346.5h8.34M259.5 342.33v8.34M254.33 348.5h8.34M258.5 344.33v8.34M255.33 346.5h8.34M259.5 342.33v8.34M257.33 345.5h8.34M261.5 341.33v8.34M257.33 347.5h8.34M261.5 343.33v8.34M253.33 344.5h8.34M257.5 340.33v8.34M260.33 339.5h8.34M264.5 335.33v8.34M254.33 342.5h8.34M258.5 338.33v8.34M223.33 354.5h8.34M227.5 350.33v8.34M231.33 352.5h8.34M235.5 348.33v8.34M226.33 356.5h8.34M230.5 352.33v8.34M242.33 358.5h8.34M246.5 354.33v8.34M251.33 361.5h8.34M255.5 357.33v8.34M255.33 358.5h8.34M259.5 354.33v8.34M236.33 364.5h8.34M240.5 360.33v8.34M234.33 370.5h8.34M238.5 366.33v8.34M245.33 371.5h8.34M249.5 367.33v8.34M244.33 370.5h8.34M248.5 366.33v8.34M249.33 373.5h8.34M253.5 369.33v8.34M245.33 374.5h8.34M249.5 370.33v8.34M248.33 371.5h8.34M252.5 367.33v8.34M247.33 375.5h8.34M251.5 371.33v8.34M244.33 379.5h8.34M248.5 375.33v8.34M242.33 372.5h8.34M246.5 368.33v8.34M259.33 372.5h8.34M263.5 368.33v8.34M255.33 368.5h8.34M259.5 364.33v8.34M185.33 376.5h8.34M189.5 372.33v8.34M186.33 394.5h8.34M190.5 390.33v8.34M189.33 391.5h8.34M193.5 387.33v8.34M216.33 381.5h8.34M220.5 377.33v8.34M229.33 383.5h8.34M233.5 379.33v8.34M240.33 385.5h8.34M244.5 381.33v8.34M237.33 388.5h8.34M241.5 384.33v8.34M259.33 387.5h8.34M263.5 383.33v8.34M255.33 391.5h8.34M259.5 387.33v8.34M259.33 397.5h8.34M263.5 393.33v8.34M262.33 375.5h8.34M266.5 371.33v8.34M186.33 396.5h8.34M190.5 392.33v8.34M215.33 412.5h8.34M219.5 408.33v8.34M217.33 415.5h8.34M221.5 411.33v8.34M221.33 419.5h8.34M225.5 415.33v8.34M226.33 408.5h8.34M230.5 404.33v8.34M230.33 404.5h8.34M234.5 400.33v8.34M227.33 411.5h8.34M231.5 407.33v8.34M233.33 415.5h8.34M237.5 411.33v8.34M240.33 406.5h8.34M244.5 402.33v8.34M249.33 401.5h8.34M253.5 397.33v8.34M259.33 399.5h8.34M263.5 395.33v8.34M254.33 407.5h8.34M258.5 403.33v8.34M237.33 422.5h8.34M241.5 418.33v8.34M234.33 429.5h8.34M238.5 425.33v8.34M252.33 415.5h8.34M256.5 411.33v8.34M249.33 420.5h8.34M253.5 416.33v8.34M251.33 421.5h8.34M255.5 417.33v8.34M250.33 417.5h8.34M254.5 413.33v8.34M251.33 423.5h8.34M255.5 419.33v8.34M247.33 421.5h8.34M251.5 417.33v8.34M247.33 413.5h8.34M251.5 409.33v8.34M248.33 422.5h8.34M252.5 418.33v8.34M247.33 428.5h8.34M251.5 424.33v8.34M247.33 421.5h8.34M251.5 417.33v8.34M251.33 422.5h8.34M255.5 418.33v8.34M251.33 420.5h8.34M255.5 416.33v8.34M252.33 417.5h8.34M256.5 413.33v8.34M253.33 438.5h8.34M257.5 434.33v8.34M253.33 439.5h8.34M257.5 435.33v8.34M255.33 434.5h8.34M259.5 430.33v8.34M258.33 434.5h8.34M262.5 430.33v8.34M255.33 432.5h8.34M259.5 428.33v8.34M253.33 433.5h8.34M257.5 429.33v8.34M256.33 430.5h8.34M260.5 426.33v8.34M253.33 435.5h8.34M257.5 431.33v8.34M212.33 436.5h8.34M216.5 432.33v8.34M247.33 443.5h8.34M251.5 439.33v8.34M257.33 457.5h8.34M261.5 453.33v8.34M254.33 462.5h8.34M258.5 458.33v8.34M255.33 457.5h8.34M259.5 453.33v8.34M255.33 462.5h8.34M259.5 458.33v8.34M254.33 457.5h8.34M258.5 453.33v8.34M216.33 463.5h8.34M220.5 459.33v8.34M234.33 463.5h8.34M238.5 459.33v8.34M213.33 467.5h8.34M217.5 463.33v8.34M217.33 466.5h8.34M221.5 462.33v8.34M222.33 467.5h8.34M226.5 463.33v8.34M229.33 468.5h8.34M233.5 464.33v8.34M234.33 466.5h8.34M238.5 462.33v8.34M239.33 467.5h8.34M243.5 463.33v8.34M244.33 468.5h8.34M248.5 464.33v8.34M232.33 477.5h8.34M236.5 473.33v8.34M239.33 477.5h8.34M243.5 473.33v8.34M243.33 478.5h8.34M247.5 474.33v8.34M209.33 473.5h8.34M213.5 469.33v8.34M215.33 473.5h8.34M219.5 469.33v8.34M213.33 473.5h8.34M217.5 469.33v8.34M257.33 472.5h8.34M261.5 468.33v8.34M245.33 471.5h8.34M249.5 467.33v8.34M247.33 473.5h8.34M251.5 469.33v8.34M251.33 472.5h8.34M255.5 468.33v8.34M216.33 473.5h8.34M220.5 469.33v8.34M224.33 473.5h8.34M228.5 469.33v8.34M239.33 472.5h8.34M243.5 468.33v8.34M227.33 473.5h8.34M231.5 469.33v8.34M259.33 472.5h8.34M263.5 468.33v8.34M214.33 474.5h8.34M218.5 470.33v8.34M242.33 471.5h8.34M246.5 467.33v8.34M218.33 473.5h8.34M222.5 469.33v8.34M205.33 473.5h8.34M209.5 469.33v8.34M222.33 473.5h8.34M226.5 469.33v8.34M226.33 473.5h8.34M230.5 469.33v8.34M209.33 472.5h8.34M213.5 468.33v8.34M222.33 472.5h8.34M226.5 468.33v8.34M229.33 472.5h8.34M233.5 468.33v8.34M256.33 470.5h8.34M260.5 466.33v8.34M222.33 473.5h8.34M226.5 469.33v8.34M217.33 472.5h8.34M221.5 468.33v8.34M230.33 473.5h8.34M234.5 469.33v8.34M253.33 473.5h8.34M257.5 469.33v8.34M229.33 472.5h8.34M233.5 468.33v8.34M224.33 472.5h8.34M228.5 468.33v8.34M221.33 472.5h8.34M225.5 468.33v8.34M208.33 473.5h8.34M212.5 469.33v8.34M212.33 473.5h8.34M216.5 469.33v8.34M251.33 474.5h8.34M255.5 470.33v8.34M222.33 473.5h8.34M226.5 469.33v8.34M210.33 473.5h8.34M214.5 469.33v8.34M233.33 472.5h8.34M237.5 468.33v8.34M244.33 473.5h8.34M248.5 469.33v8.34M254.33 473.5h8.34M258.5 469.33v8.34M235.33 473.5h8.34M239.5 469.33v8.34M254.33 471.5h8.34M258.5 467.33v8.34M227.33 473.5h8.34M231.5 469.33v8.34M247.33 473.5h8.34M251.5 469.33v8.34M253.33 474.5h8.34M257.5 470.33v8.34M224.33 474.5h8.34M228.5 470.33v8.34M230.33 473.5h8.34M234.5 469.33v8.34M204.33 473.5h8.34M208.5 469.33v8.34M246.33 472.5h8.34M250.5 468.33v8.34M220.33 473.5h8.34M224.5 469.33v8.34M206.33 473.5h8.34M210.5 469.33v8.34M233.33 472.5h8.34M237.5 468.33v8.34M238.33 471.5h8.34M242.5 467.33v8.34M238.33 474.5h8.34M242.5 470.33v8.34M250.33 472.5h8.34M254.5 468.33v8.34M252.33 472.5h8.34M256.5 468.33v8.34M211.33 473.5h8.34M215.5 469.33v8.34M206.33 473.5h8.34M210.5 469.33v8.34M240.33 473.5h8.34M244.5 469.33v8.34M248.33 474.5h8.34M252.5 470.33v8.34M215.33 474.5h8.34M219.5 470.33v8.34M228.33 472.5h8.34M232.5 468.33v8.34M239.33 473.5h8.34M243.5 469.33v8.34M239.33 472.5h8.34M243.5 468.33v8.34M205.33 473.5h8.34M209.5 469.33v8.34M241.33 472.5h8.34M245.5 468.33v8.34M238.33 473.5h8.34M242.5 469.33v8.34M230.33 473.5h8.34M234.5 469.33v8.34M257.33 474.5h8.34M261.5 470.33v8.34M238.33 472.5h8.34M242.5 468.33v8.34M217.33 473.5h8.34M221.5 469.33v8.34M247.33 473.5h8.34M251.5 469.33v8.34M244.33 474.5h8.34M248.5 470.33v8.34M208.33 473.5h8.34M212.5 469.33v8.34M241.33 473.5h8.34M245.5 469.33v8.34M221.33 473.5h8.34M225.5 469.33v8.34M224.33 473.5h8.34M228.5 469.33v8.34M214.33 472.5h8.34M218.5 468.33v8.34M238.33 473.5h8.34M242.5 469.33v8.34M220.33 472.5h8.34M224.5 468.33v8.34M250.33 471.5h8.34M254.5 467.33v8.34M259.33 471.5h8.34M263.5 467.33v8.34M217.33 473.5h8.34M221.5 469.33v8.34M246.33 474.5h8.34M250.5 470.33v8.34M259.33 470.5h8.34M263.5 466.33v8.34M258.33 472.5h8.34M262.5 468.33v8.34M224.33 472.5h8.34M228.5 468.33v8.34M211.33 473.5h8.34M215.5 469.33v8.34M255.33 472.5h8.34M259.5 468.33v8.34M247.33 472.5h8.34M251.5 468.33v8.34M253.33 471.5h8.34M257.5 467.33v8.34M243.33 472.5h8.34M247.5 468.33v8.34M236.33 474.5h8.34M240.5 470.33v8.34M241.33 472.5h8.34M245.5 468.33v8.34M255.33 473.5h8.34M259.5 469.33v8.34M223.33 472.5h8.34M227.5 468.33v8.34M241.33 472.5h8.34M245.5 468.33v8.34M252.33 474.5h8.34M256.5 470.33v8.34M236.33 473.5h8.34M240.5 469.33v8.34M252.33 471.5h8.34M256.5 467.33v8.34M259.33 472.5h8.34M263.5 468.33v8.34M216.33 473.5h8.34M220.5 469.33v8.34M226.33 472.5h8.34M230.5 468.33v8.34M205.33 473.5h8.34M209.5 469.33v8.34M210.33 473.5h8.34M214.5 469.33v8.34M209.33 472.5h8.34M213.5 468.33v8.34M237.33 473.5h8.34M241.5 469.33v8.34M244.33 472.5h8.34M248.5 468.33v8.34M229.33 472.5h8.34M233.5 468.33v8.34M253.33 472.5h8.34M257.5 468.33v8.34M236.33 474.5h8.34M240.5 470.33v8.34M226.33 473.5h8.34M230.5 469.33v8.34M207.33 473.5h8.34M211.5 469.33v8.34M207.33 473.5h8.34M211.5 469.33v8.34M229.33 473.5h8.34M233.5 469.33v8.34M201.33 473.5h8.34M205.5 469.33v8.34M206.33 472.5h8.34M210.5 468.33v8.34M238.33 472.5h8.34M242.5 468.33v8.34M228.33 472.5h8.34M232.5 468.33v8.34M237.33 474.5h8.34M241.5 470.33v8.34M230.33 471.5h8.34M234.5 467.33v8.34M252.33 473.5h8.34M256.5 469.33v8.34M213.33 473.5h8.34M217.5 469.33v8.34M255.33 470.5h8.34M259.5 466.33v8.34M212.33 472.5h8.34M216.5 468.33v8.34M201.33 473.5h8.34M205.5 469.33v8.34M240.33 473.5h8.34M244.5 469.33v8.34M250.33 473.5h8.34M254.5 469.33v8.34M231.33 473.5h8.34M235.5 469.33v8.34M249.33 471.5h8.34M253.5 467.33v8.34M237.33 471.5h8.34M241.5 467.33v8.34M250.33 473.5h8.34M254.5 469.33v8.34M232.33 473.5h8.34M236.5 469.33v8.34M222.33 473.5h8.34M226.5 469.33v8.34M257.33 471.5h8.34M261.5 467.33v8.34M206.33 473.5h8.34M210.5 469.33v8.34M206.33 472.5h8.34M210.5 468.33v8.34M233.33 473.5h8.34M237.5 469.33v8.34M201.33 472.5h8.34M205.5 468.33v8.34M213.33 472.5h8.34M217.5 468.33v8.34M213.33 474.5h8.34M217.5 470.33v8.34M242.33 471.5h8.34M246.5 467.33v8.34M219.33 473.5h8.34M223.5 469.33v8.34M257.33 471.5h8.34M261.5 467.33v8.34M201.33 473.5h8.34M205.5 469.33v8.34M233.33 474.5h8.34M237.5 470.33v8.34M244.33 473.5h8.34M248.5 469.33v8.34M243.33 471.5h8.34M247.5 467.33v8.34M218.33 472.5h8.34M222.5 468.33v8.34M250.33 473.5h8.34M254.5 469.33v8.34M243.33 471.5h8.34M247.5 467.33v8.34M245.33 472.5h8.34M249.5 468.33v8.34M237.33 472.5h8.34M241.5 468.33v8.34M245.33 472.5h8.34M249.5 468.33v8.34M205.33 473.5h8.34M209.5 469.33v8.34M240.33 472.5h8.34M244.5 468.33v8.34M229.33 472.5h8.34M233.5 468.33v8.34M211.33 473.5h8.34M215.5 469.33v8.34M242.33 473.5h8.34M246.5 469.33v8.34M227.33 472.5h8.34M231.5 468.33v8.34M223.33 472.5h8.34M227.5 468.33v8.34M231.33 472.5h8.34M235.5 468.33v8.34M248.33 473.5h8.34M252.5 469.33v8.34M244.33 473.5h8.34M248.5 469.33v8.34M209.33 473.5h8.34M213.5 469.33v8.34M256.33 474.5h8.34M260.5 470.33v8.34M246.33 472.5h8.34M250.5 468.33v8.34M248.33 471.5h8.34M252.5 467.33v8.34M233.33 472.5h8.34M237.5 468.33v8.34M209.33 472.5h8.34M213.5 468.33v8.34M240.33 473.5h8.34M244.5 469.33v8.34M215.33 473.5h8.34M219.5 469.33v8.34M212.33 472.5h8.34M216.5 468.33v8.34M219.33 473.5h8.34M223.5 469.33v8.34M234.33 471.5h8.34M238.5 467.33v8.34M211.33 473.5h8.34M215.5 469.33v8.34M250.33 473.5h8.34M254.5 469.33v8.34M244.33 473.5h8.34M248.5 469.33v8.34M232.33 472.5h8.34M236.5 468.33v8.34M222.33 473.5h8.34M226.5 469.33v8.34M213.33 473.5h8.34M217.5 469.33v8.34M255.33 470.5h8.34M259.5 466.33v8.34M220.33 473.5h8.34M224.5 469.33v8.34M252.33 473.5h8.34M256.5 469.33v8.34M248.33 472.5h8.34M252.5 468.33v8.34M205.33 472.5h8.34M209.5 468.33v8.34M240.33 472.5h8.34M244.5 468.33v8.34M233.33 472.5h8.34M237.5 468.33v8.34M221.33 474.5h8.34M225.5 470.33v8.34M207.33 472.5h8.34M211.5 468.33v8.34M245.33 472.5h8.34M249.5 468.33v8.34M222.33 473.5h8.34M226.5 469.33v8.34M203.33 473.5h8.34M207.5 469.33v8.34M215.33 472.5h8.34M219.5 468.33v8.34M247.33 473.5h8.34M251.5 469.33v8.34M209.33 474.5h8.34M213.5 470.33v8.34M256.33 471.5h8.34M260.5 467.33v8.34M248.33 474.5h8.34M252.5 470.33v8.34M213.33 472.5h8.34M217.5 468.33v8.34M216.33 472.5h8.34M220.5 468.33v8.34M252.33 474.5h8.34M256.5 470.33v8.34M219.33 474.5h8.34M223.5 470.33v8.34M232.33 473.5h8.34M236.5 469.33v8.34M224.33 473.5h8.34M228.5 469.33v8.34M227.33 473.5h8.34M231.5 469.33v8.34M244.33 472.5h8.34M248.5 468.33v8.34M239.33 473.5h8.34M243.5 469.33v8.34M252.33 472.5h8.34M256.5 468.33v8.34M204.33 473.5h8.34M208.5 469.33v8.34M255.33 472.5h8.34M259.5 468.33v8.34M206.33 474.5h8.34M210.5 470.33v8.34M252.33 472.5h8.34M256.5 468.33v8.34M212.33 472.5h8.34M216.5 468.33v8.34M210.33 472.5h8.34M214.5 468.33v8.34M231.33 474.5h8.34M235.5 470.33v8.34M254.33 470.5h8.34M258.5 466.33v8.34M252.33 473.5h8.34M256.5 469.33v8.34M226.33 474.5h8.34M230.5 470.33v8.34M250.33 473.5h8.34M254.5 469.33v8.34M239.33 473.5h8.34M243.5 469.33v8.34M217.33 474.5h8.34M221.5 470.33v8.34M202.33 473.5h8.34M206.5 469.33v8.34M246.33 472.5h8.34M250.5 468.33v8.34M225.33 473.5h8.34M229.5 469.33v8.34M223.33 472.5h8.34M227.5 468.33v8.34M209.33 473.5h8.34M213.5 469.33v8.34M220.33 473.5h8.34M224.5 469.33v8.34M202.33 473.5h8.34M206.5 469.33v8.34M229.33 472.5h8.34M233.5 468.33v8.34M251.33 472.5h8.34M255.5 468.33v8.34M224.33 474.5h8.34M228.5 470.33v8.34M224.33 473.5h8.34M228.5 469.33v8.34M255.33 470.5h8.34M259.5 466.33v8.34M205.33 473.5h8.34M209.5 469.33v8.34M221.33 472.5h8.34M225.5 468.33v8.34M257.33 470.5h8.34M261.5 466.33v8.34M219.33 474.5h8.34M223.5 470.33v8.34M244.33 471.5h8.34M248.5 467.33v8.34M226.33 473.5h8.34M230.5 469.33v8.34M253.33 471.5h8.34M257.5 467.33v8.34M214.33 474.5h8.34M218.5 470.33v8.34M256.33 473.5h8.34M260.5 469.33v8.34M240.33 471.5h8.34M244.5 467.33v8.34M259.33 473.5h8.34M263.5 469.33v8.34M214.33 472.5h8.34M218.5 468.33v8.34M205.33 473.5h8.34M209.5 469.33v8.34M247.33 473.5h8.34M251.5 469.33v8.34M216.33 473.5h8.34M220.5 469.33v8.34M211.33 472.5h8.34M215.5 468.33v8.34M205.33 472.5h8.34M209.5 468.33v8.34M230.33 474.5h8.34M234.5 470.33v8.34M206.33 473.5h8.34M210.5 469.33v8.34M221.33 472.5h8.34M225.5 468.33v8.34M239.33 472.5h8.34M243.5 468.33v8.34M248.33 472.5h8.34M252.5 468.33v8.34M238.33 473.5h8.34M242.5 469.33v8.34M227.33 473.5h8.34M231.5 469.33v8.34M220.33 473.5h8.34M224.5 469.33v8.34M232.33 472.5h8.34M236.5 468.33v8.34M244.33 472.5h8.34M248.5 468.33v8.34M252.33 474.5h8.34M256.5 470.33v8.34M206.33 474.5h8.34M210.5 470.33v8.34M205.33 473.5h8.34M209.5 469.33v8.34M203.33 473.5h8.34M207.5 469.33v8.34M253.33 472.5h8.34M257.5 468.33v8.34M235.33 473.5h8.34M239.5 469.33v8.34M223.33 474.5h8.34M227.5 470.33v8.34M218.33 473.5h8.34M222.5 469.33v8.34M230.33 472.5h8.34M234.5 468.33v8.34M210.33 472.5h8.34M214.5 468.33v8.34M232.33 474.5h8.34M236.5 470.33v8.34M216.33 472.5h8.34M220.5 468.33v8.34M228.33 472.5h8.34M232.5 468.33v8.34M226.33 473.5h8.34M230.5 469.33v8.34M234.33 473.5h8.34M238.5 469.33v8.34M240.33 472.5h8.34M244.5 468.33v8.34M225.33 473.5h8.34M229.5 469.33v8.34M207.33 473.5h8.34M211.5 469.33v8.34M232.33 472.5h8.34M236.5 468.33v8.34M257.33 470.5h8.34M261.5 466.33v8.34M219.33 473.5h8.34M223.5 469.33v8.34M224.33 474.5h8.34M228.5 470.33v8.34M259.33 474.5h8.34M263.5 470.33v8.34M227.33 472.5h8.34M231.5 468.33v8.34M226.33 474.5h8.34M230.5 470.33v8.34M246.33 473.5h8.34M250.5 469.33v8.34M257.33 472.5h8.34M261.5 468.33v8.34M219.33 472.5h8.34M223.5 468.33v8.34M203.33 474.5h8.34M207.5 470.33v8.34M222.33 473.5h8.34M226.5 469.33v8.34M202.33 473.5h8.34M206.5 469.33v8.34M205.33 473.5h8.34M209.5 469.33v8.34M206.33 473.5h8.34M210.5 469.33v8.34M258.33 474.5h8.34M262.5 470.33v8.34M208.33 472.5h8.34M212.5 468.33v8.34M259.33 472.5h8.34M263.5 468.33v8.34M219.33 472.5h8.34M223.5 468.33v8.34M237.33 472.5h8.34M241.5 468.33v8.34M210.33 473.5h8.34M214.5 469.33v8.34M230.33 472.5h8.34M234.5 468.33v8.34M209.33 473.5h8.34M213.5 469.33v8.34M258.33 472.5h8.34M262.5 468.33v8.34M237.33 473.5h8.34M241.5 469.33v8.34M218.33 474.5h8.34M222.5 470.33v8.34M247.33 473.5h8.34M251.5 469.33v8.34M242.33 473.5h8.34M246.5 469.33v8.34M211.33 472.5h8.34M215.5 468.33v8.34M220.33 473.5h8.34M224.5 469.33v8.34M224.33 473.5h8.34M228.5 469.33v8.34M244.33 471.5h8.34M248.5 467.33v8.34M230.33 473.5h8.34M234.5 469.33v8.34M229.33 473.5h8.34M233.5 469.33v8.34M242.33 473.5h8.34M246.5 469.33v8.34" stroke="#00bfbf" stroke-width="0.69" fill="none"/>
<path d="M236.33 250.33l8.34 8.34M236.33 258.67l8.34 -8.34M250.33 251.33l8.34 8.34M250.33 259.67l8.34 -8.34M226.33 257.33l8.34 8.34M226.33 265.67l8.34 -8.34M227.33 258.33l8.34 8.34M227.33 266.67l8.34 -8.34M241.33 264.33l8.34 8.34M241.33 272.67l8.34 -8.34M238.33 272.33l8.34 8.34M238.33 280.67l8.34 -8.34M245.33 283.33l8.34 8.34M245.33 291.67l8.34 -8.34M244.33 282.33l8.34 8.34M244.33 290.67l8.34 -8.34M243.33 286.33l8.34 8.34M243.33 294.67l8.34 -8.34M243.33 283.33l8.34 8.34M243.33 291.67l8.34 -8.34M258.33 281.33l8.34 8.34M258.33 289.67l8.34 -8.34M257.33 284.33l8.34 8.34M257.33 292.67l8.34 -8.34M261.33 283.33l8.34 8.34M261.33 291.67l8.34 -8.34M255.33 279.33l8.34 8.34M255.33 287.67l8.34 -8.34M260.33 285.33l8.34 8.34M260.33 293.67l8.34 -8.34M260.33 283.33l8.34 8.34M260.33 291.67l8.34 -8.34M257.33 295.33l8.34 8.34M257.33 303.67l8.34 -8.34M258.33 301.33l8.34 8.34M258.33 309.67l8.34 -8.34M251.33 300.33l8.34 8.34M251.33 308.67l8.34 -8.34M254.33 307.33l8.34 8.34M254.33 315.67l8.34 -8.34M254.33 299.33l8.34 8.34M254.33 307.67l8.34 -8.34M259.33 297.33l8.34 8.34M259.33 305.67l8.34 -8.34M256.33 297.33l8.34 8.34M256.33 305.67l8.34 -8.34M250.33 294.33l8.34 8.34M250.33 302.67l8.34 -8.34M234.33 300.33l8.34 8.34M234.33 308.67l8.34 -8.34M234.33 304.33l8.34 8.34M234.33 312.67l8.34 -8.34M236.33 310.33l8.34 8.34M236.33 318.67l8.34 -8.34M254.33 315.33l8.34 8.34M254.33 323.67l8.34 -8.34M226.33 318.33l8.34 8.34M226.33 326.67l8.34 -8.34M230.33 319.33l8.34 8.34M230.33 327.67l8.34 -8.34M244.33 318.33l8.34 8.34M244.33 326.67l8.34 -8.34M262.33 296.33l8.34 8.34M262.33 304.67l8.34 -8.34M195.33 331.33l8.34 8.34M195.33 339.67l8.34 -8.34M198.33 332.33l8.34 8.34M198.33 340.67l8.34 -8.34M197.33 330.33l8.34 8.34M197.33 338.67l8.34 -8.34M202.33 338.33l8.34 8.34M202.33 346.67l8.34 -8.34M230.33 319.33l8.34 8.34M230.33 327.67l8.34 -8.34M226.33 320.33l8.34 8.34M226.33 328.67l8.34 -8.34M243.33 319.33l8.34 8.34M243.33 327.67l8.34 -8.34M248.33 320.33l8.34 8.34M248.33 328.67l8.34 -8.34M255.33 318.33l8.34 8.34M255.33 326.67l8.34 -8.34M225.33 329.33l8.34 8.34M225.33 337.67l8.34 -8.34M239.33 331.33l8.34 8.34M239.33 339.67l8.34 -8.34M254.33 326.33l8.34 8.34M254.33 334.67l8.34 -8.34M231.33 338.33l8.34 8.34M231.33 346.67l8.34 -8.34M257.33 344.33l8.34 8.34M257.33 352.67l8.34 -8.34M257.33 347.33l8.34 8.34M257.33 355.67l8.34 -8.34M252.33 342.33l8.34 8.34M252.33 350.67l8.34 -8.34M256.33 338.33l8.34 8.34M256.33 346.67l8.34 -8.34M255.33 342.33l8.34 8.34M255.33 350.67l8.34 -8.34M254.33 344.33l8.34 8.34M254.33 352.67l8.34 -8.34M255.33 342.33l8.34 8.34M255.33 350.67l8.34 -8.34M257.33 341.33l8.34 8.34M257.33 349.67l8.34 -8.34M257.33 343.33l8.34 8.34M257.33 351.67l8.34 -8.34M253.33 340.33l8.34 8.34M253.33 348.67l8.34 -8.34M260.33 335.33l8.34 8.34M260.33 343.67l8.34 -8.34M254.33 338.33l8.34 8.34M254.33 346.67l8.34 -8.34M223.33 350.33l8.34 8.34M223.33 358.67l8.34 -8.34M231.33 348.33l8.34 8.34M231.33 356.67l8.34 -8.34M226.33 352.33l8.34 8.34M226.33 360.67l8.34 -8.34M242.33 354.33l8.34 8.34M242.33 362.67l8.34 -8.34M251.33 357.33l8.34 8.34M251.33 365.67l8.34 -8.34M255.33 354.33l8.34 8.34M255.33 362.67l8.34 -8.34M236.33 360.33l8.34 8.34M236.33 368.67l8.34 -8.34M234.33 366.33l8.34 8.34M234.33 374.67l8.34 -8.34M245.33 367.33l8.34 8.34M245.33 375.67l8.34 -8.34M244.33 366.33l8.34 8.34M244.33 374.67l8.34 -8.34M249.33 369.33l8.34 8.34M249.33 377.67l8.34 -8.34M245.33 370.33l8.34 8.34M245.33 378.67l8.34 -8.34M248.33 367.33l8.34 8.34M248.33 375.67l8.34 -8.34M247.33 371.33l8.34 8.34M247.33 379.67l8.34 -8.34M244.33 375.33l8.34 8.34M244.33 383.67l8.34 -8.34M242.33 368.33l8.34 8.34M242.33 376.67l8.34 -8.34M259.33 368.33l8.34 8.34M259.33 376.67l8.34 -8.34M255.33 364.33l8.34 8.34M255.33 372.67l8.34 -8.34M185.33 372.33l8.34 8.34M185.33 380.67l8.34 -8.34M186.33 390.33l8.34 8.34M186.33 398.67l8.34 -8.34M189.33 387.33l8.34 8.34M189.33 395.67l8.34 -8.34M216.33 377.33l8.34 8.34M216.33 385.67l8.34 -8.34M229.33 379.33l8.34 8.34M229.33 387.67l8.34 -8.34M240.33 381.33l8.34 8.34M240.33 389.67l8.34 -8.34M237.33 384.33l8.34 8.34M237.33 392.67l8.34 -8.34M259.33 383.33l8.34 8.34M259.33 391.67l8.34 -8.34M255.33 387.33l8.34 8.34M255.33 395.67l8.34 -8.34M259.33 393.33l8.34 8.34M259.33 401.67l8.34 -8.34M262.33 371.33l8.34 8.34M262.33 379.67l8.34 -8.34M186.33 392.33l8.34 8.34M186.33 400.67l8.34 -8.34M215.33 408.33l8.34 8.34M215.33 416.67l8.34 -8.34M217.33 411.33l8.34 8.34M217.33 419.67l8.34 -8.34M221.33 415.33l8.34 8.34M221.33 423.67l8.34 -8.34M226.33 404.33l8.34 8.34M226.33 412.67l8.34 -8.34M230.33 400.33l8.34 8.34M230.33 408.67l8.34 -8.34M227.33 407.33l8.34 8.34M227.33 415.67l8.34 -8.34M233.33 411.33l8.34 8.34M233.33 419.67l8.34 -8.34M240.33 402.33l8.34 8.34M240.33 410.67l8.34 -8.34M249.33 397.33l8.34 8.34M249.33 405.67l8.34 -8.34M259.33 395.33l8.34 8.34M259.33 403.67l8.34 -8.34M254.33 403.33l8.34 8.34M254.33 411.67l8.34 -8.34M237.33 418.33l8.34 8.34M237.33 426.67l8.34 -8.34M234.33 425.33l8.34 8.34M234.33 433.67l8.34 -8.34M252.33 411.33l8.34 8.34M252.33 419.67l8.34 -8.34M249.33 416.33l8.34 8.34M249.33 424.67l8.34 -8.34M251.33 417.33l8.34 8.34M251.33 425.67l8.34 -8.34M250.33 413.33l8.34 8.34M250.33 421.67l8.34 -8.34M251.33 419.33l8.34 8.34M251.33 427.67l8.34 -8.34M247.33 417.33l8.34 8.34M247.33 425.67l8.34 -8.34M247.33 409.33l8.34 8.34M247.33 417.67l8.34 -8.34M248.33 418.33l8.34 8.34M248.33 426.67l8.34 -8.34M247.33 424.33l8.34 8.34M247.33 432.67l8.34 -8.34M247.33 417.33l8.34 8.34M247.33 425.67l8.34 -8.34M251.33 418.33l8.34 8.34M251.33 426.67l8.34 -8.34M251.33 416.33l8.34 8.34M251.33 424.67l8.34 -8.34M252.33 413.33l8.34 8.34M252.33 421.67l8.34 -8.34M253.33 434.33l8.34 8.34M253.33 442.67l8.34 -8.34M253.33 435.33l8.34 8.34M253.33 443.67l8.34 -8.34M255.33 430.33l8.34 8.34M255.33 438.67l8.34 -8.34M258.33 430.33l8.34 8.34M258.33 438.67l8.34 -8.34M255.33 428.33l8.34 8.34M255.33 436.67l8.34 -8.34M253.33 429.33l8.34 8.34M253.33 437.67l8.34 -8.34M256.33 426.33l8.34 8.34M256.33 434.67l8.34 -8.34M253.33 431.33l8.34 8.34M253.33 439.67l8.34 -8.34M212.33 432.33l8.34 8.34M212.33 440.67l8.34 -8.34M247.33 439.33l8.34 8.34M247.33 447.67l8.34 -8.34M257.33 453.33l8.34 8.34M257.33 461.67l8.34 -8.34M254.33 458.33l8.34 8.34M254.33 466.67l8.34 -8.34M255.33 453.33l8.34 8.34M255.33 461.67l8.34 -8.34M255.33 458.33l8.34 8.34M255.33 466.67l8.34 -8.34M254.33 453.33l8.34 8.34M254.33 461.67l8.34 -8.34M216.33 459.33l8.34 8.34M216.33 467.67l8.34 -8.34M234.33 459.33l8.34 8.34M234.33 467.67l8.34 -8.34M213.33 463.33l8.34 8.34M213.33 471.67l8.34 -8.34M217.33 462.33l8.34 8.34M217.33 470.67l8.34 -8.34M222.33 463.33l8.34 8.34M222.33 471.67l8.34 -8.34M229.33 464.33l8.34 8.34M229.33 472.67l8.34 -8.34M234.33 462.33l8.34 8.34M234.33 470.67l8.34 -8.34M239.33 463.33l8.34 8.34M239.33 471.67l8.34 -8.34M244.33 464.33l8.34 8.34M244.33 472.67l8.34 -8.34M232.33 473.33l8.34 8.34M232.33 481.67l8.34 -8.34M239.33 473.33l8.34 8.34M239.33 481.67l8.34 -8.34M243.33 474.33l8.34 8.34M243.33 482.67l8.34 -8.34M209.33 469.33l8.34 8.34M209.33 477.67l8.34 -8.34M215.33 469.33l8.34 8.34M215.33 477.67l8.34 -8.34M213.33 469.33l8.34 8.34M213.33 477.67l8.34 -8.34M257.33 468.33l8.34 8.34M257.33 476.67l8.34 -8.34M245.33 467.33l8.34 8.34M245.33 475.67l8.34 -8.34M247.33 469.33l8.34 8.34M247.33 477.67l8.34 -8.34M251.33 468.33l8.34 8.34M251.33 476.67l8.34 -8.34M216.33 469.33l8.34 8.34M216.33 477.67l8.34 -8.34M224.33 469.33l8.34 8.34M224.33 477.67l8.34 -8.34M239.33 468.33l8.34 8.34M239.33 476.67l8.34 -8.34M227.33 469.33l8.34 8.34M227.33 477.67l8.34 -8.34M259.33 468.33l8.34 8.34M259.33 476.67l8.34 -8.34M214.33 470.33l8.34 8.34M214.33 478.67l8.34 -8.34M242.33 467.33l8.34 8.34M242.33 475.67l8.34 -8.34M218.33 469.33l8.34 8.34M218.33 477.67l8.34 -8.34M205.33 469.33l8.34 8.34M205.33 477.67l8.34 -8.34M222.33 469.33l8.34 8.34M222.33 477.67l8.34 -8.34M226.33 469.33l8.34 8.34M226.33 477.67l8.34 -8.34M209.33 468.33l8.34 8.34M209.33 476.67l8.34 -8.34M222.33 468.33l8.34 8.34M222.33 476.67l8.34 -8.34M229.33 468.33l8.34 8.34M229.33 476.67l8.34 -8.34M256.33 466.33l8.34 8.34M256.33 474.67l8.34 -8.34M222.33 469.33l8.34 8.34M222.33 477.67l8.34 -8.34M217.33 468.33l8.34 8.34M217.33 476.67l8.34 -8.34M230.33 469.33l8.34 8.34M230.33 477.67l8.34 -8.34M253.33 469.33l8.34 8.34M253.33 477.67l8.34 -8.34M229.33 468.33l8.34 8.34M229.33 476.67l8.34 -8.34M224.33 468.33l8.34 8.34M224.33 476.67l8.34 -8.34M221.33 468.33l8.34 8.34M221.33 476.67l8.34 -8.34M208.33 469.33l8.34 8.34M208.33 477.67l8.34 -8.34M212.33 469.33l8.34 8.34M212.33 477.67l8.34 -8.34M251.33 470.33l8.34 8.34M251.33 478.67l8.34 -8.34M222.33 469.33l8.34 8.34M222.33 477.67l8.34 -8.34M210.33 469.33l8.34 8.34M210.33 477.67l8.34 -8.34M233.33 468.33l8.34 8.34M233.33 476.67l8.34 -8.34M244.33 469.33l8.34 8.34M244.33 477.67l8.34 -8.34M254.33 469.33l8.34 8.34M254.33 477.67l8.34 -8.34M235.33 469.33l8.34 8.34M235.33 477.67l8.34 -8.34M254.33 467.33l8.34 8.34M254.33 475.67l8.34 -8.34M227.33 469.33l8.34 8.34M227.33 477.67l8.34 -8.34M247.33 469.33l8.34 8.34M247.33 477.67l8.34 -8.34M253.33 470.33l8.34 8.34M253.33 478.67l8.34 -8.34M224.33 470.33l8.34 8.34M224.33 478.67l8.34 -8.34M230.33 469.33l8.34 8.34M230.33 477.67l8.34 -8.34M204.33 469.33l8.34 8.34M204.33 477.67l8.34 -8.34M246.33 468.33l8.34 8.34M246.33 476.67l8.34 -8.34M220.33 469.33l8.34 8.34M220.33 477.67l8.34 -8.34M206.33 469.33l8.34 8.34M206.33 477.67l8.34 -8.34M233.33 468.33l8.34 8.34M233.33 476.67l8.34 -8.34M238.33 467.33l8.34 8.34M238.33 475.67l8.34 -8.34M238.33 470.33l8.34 8.34M238.33 478.67l8.34 -8.34M250.33 468.33l8.34 8.34M250.33 476.67l8.34 -8.34M252.33 468.33l8.34 8.34M252.33 476.67l8.34 -8.34M211.33 469.33l8.34 8.34M211.33 477.67l8.34 -8.34M206.33 469.33l8.34 8.34M206.33 477.67l8.34 -8.34M240.33 469.33l8.34 8.34M240.33 477.67l8.34 -8.34M248.33 470.33l8.34 8.34M248.33 478.67l8.34 -8.34M215.33 470.33l8.34 8.34M215.33 478.67l8.34 -8.34M228.33 468.33l8.34 8.34M228.33 476.67l8.34 -8.34M239.33 469.33l8.34 8.34M239.33 477.67l8.34 -8.34M239.33 468.33l8.34 8.34M239.33 476.67l8.34 -8.34M205.33 469.33l8.34 8.34M205.33 477.67l8.34 -8.34M241.33 468.33l8.34 8.34M241.33 476.67l8.34 -8.34M238.33 469.33l8.34 8.34M238.33 477.67l8.34 -8.34M230.33 469.33l8.34 8.34M230.33 477.67l8.34 -8.34M257.33 470.33l8.34 8.34M257.33 478.67l8.34 -8.34M238.33 468.33l8.34 8.34M238.33 476.67l8.34 -8.34M217.33 469.33l8.34 8.34M217.33 477.67l8.34 -8.34M247.33 469.33l8.34 8.34M247.33 477.67l8.34 -8.34M244.33 470.33l8.34 8.34M244.33 478.67l8.34 -8.34M208.33 469.33l8.34 8.34M208.33 477.67l8.34 -8.34M241.33 469.33l8.34 8.34M241.33 477.67l8.34 -8.34M221.33 469.33l8.34 8.34M221.33 477.67l8.34 -8.34M224.33 469.33l8.34 8.34M224.33 477.67l8.34 -8.34M214.33 468.33l8.34 8.34M214.33 476.67l8.34 -8.34M238.33 469.33l8.34 8.34M238.33 477.67l8.34 -8.34M220.33 468.33l8.34 8.34M220.33 476.67l8.34 -8.34M250.33 467.33l8.34 8.34M250.33 475.67l8.34 -8.34M259.33 467.33l8.34 8.34M259.33 475.67l8.34 -8.34M217.33 469.33l8.34 8.34M217.33 477.67l8.34 -8.34M246.33 470.33l8.34 8.34M246.33 478.67l8.34 -8.34M259.33 466.33l8.34 8.34M259.33 474.67l8.34 -8.34M258.33 468.33l8.34 8.34M258.33 476.67l8.34 -8.34M224.33 468.33l8.34 8.34M224.33 476.67l8.34 -8.34M211.33 469.33l8.34 8.34M211.33 477.67l8.34 -8.34M255.33 468.33l8.34 8.34M255.33 476.67l8.34 -8.34M247.33 468.33l8.34 8.34M247.33 476.67l8.34 -8.34M253.33 467.33l8.34 8.34M253.33 475.67l8.34 -8.34M243.33 468.33l8.34 8.34M243.33 476.67l8.34 -8.34M236.33 470.33l8.34 8.34M236.33 478.67l8.34 -8.34M241.33 468.33l8.34 8.34M241.33 476.67l8.34 -8.34M255.33 469.33l8.34 8.34M255.33 477.67l8.34 -8.34M223.33 468.33l8.34 8.34M223.33 476.67l8.34 -8.34M241.33 468.33l8.34 8.34M241.33 476.67l8.34 -8.34M252.33 470.33l8.34 8.34M252.33 478.67l8.34 -8.34M236.33 469.33l8.34 8.34M236.33 477.67l8.34 -8.34M252.33 467.33l8.34 8.34M252.33 475.67l8.34 -8.34M259.33 468.33l8.34 8.34M259.33 476.67l8.34 -8.34M216.33 469.33l8.34 8.34M216.33 477.67l8.34 -8.34M226.33 468.33l8.34 8.34M226.33 476.67l8.34 -8.34M205.33 469.33l8.34 8.34M205.33 477.67l8.34 -8.34M210.33 469.33l8.34 8.34M210.33 477.67l8.34 -8.34M209.33 468.33l8.34 8.34M209.33 476.67l8.34 -8.34M237.33 469.33l8.34 8.34M237.33 477.67l8.34 -8.34M244.33 468.33l8.34 8.34M244.33 476.67l8.34 -8.34M229.33 468.33l8.34 8.34M229.33 476.67l8.34 -8.34M253.33 468.33l8.34 8.34M253.33 476.67l8.34 -8.34M236.33 470.33l8.34 8.34M236.33 478.67l8.34 -8.34M226.33 469.33l8.34 8.34M226.33 477.67l8.34 -8.34M207.33 469.33l8.34 8.34M207.33 477.67l8.34 -8.34M207.33 469.33l8.34 8.34M207.33 477.67l8.34 -8.34M229.33 469.33l8.34 8.34M229.33 477.67l8.34 -8.34M201.33 469.33l8.34 8.34M201.33 477.67l8.34 -8.34M206.33 468.33l8.34 8.34M206.33 476.67l8.34 -8.34M238.33 468.33l8.34 8.34M238.33 476.67l8.34 -8.34M228.33 468.33l8.34 8.34M228.33 476.67l8.34 -8.34M237.33 470.33l8.34 8.34M237.33 478.67l8.34 -8.34M230.33 467.33l8.34 8.34M230.33 475.67l8.34 -8.34M252.33 469.33l8.34 8.34M252.33 477.67l8.34 -8.34M213.33 469.33l8.34 8.34M213.33 477.67l8.34 -8.34M255.33 466.33l8.34 8.34M255.33 474.67l8.34 -8.34M212.33 468.33l8.34 8.34M212.33 476.67l8.34 -8.34M201.33 469.33l8.34 8.34M201.33 477.67l8.34 -8.34M240.33 469.33l8.34 8.34M240.33 477.67l8.34 -8.34M250.33 469.33l8.34 8.34M250.33 477.67l8.34 -8.34M231.33 469.33l8.34 8.34M231.33 477.67l8.34 -8.34M249.33 467.33l8.34 8.34M249.33 475.67l8.34 -8.34M237.33 467.33l8.34 8.34M237.33 475.67l8.34 -8.34M250.33 469.33l8.34 8.34M250.33 477.67l8.34 -8.34M232.33 469.33l8.34 8.34M232.33 477.67l8.34 -8.34M222.33 469.33l8.34 8.34M222.33 477.67l8.34 -8.34M257.33 467.33l8.34 8.34M257.33 475.67l8.34 -8.34M206.33 469.33l8.34 8.34M206.33 477.67l8.34 -8.34M206.33 468.33l8.34 8.34M206.33 476.67l8.34 -8.34M233.33 469.33l8.34 8.34M233.33 477.67l8.34 -8.34M201.33 468.33l8.34 8.34M201.33 476.67l8.34 -8.34M213.33 468.33l8.34 8.34M213.33 476.67l8.34 -8.34M213.33 470.33l8.34 8.34M213.33 478.67l8.34 -8.34M242.33 467.33l8.34 8.34M242.33 475.67l8.34 -8.34M219.33 469.33l8.34 8.34M219.33 477.67l8.34 -8.34M257.33 467.33l8.34 8.34M257.33 475.67l8.34 -8.34M201.33 469.33l8.34 8.34M201.33 477.67l8.34 -8.34M233.33 470.33l8.34 8.34M233.33 478.67l8.34 -8.34M244.33 469.33l8.34 8.34M244.33 477.67l8.34 -8.34M243.33 467.33l8.34 8.34M243.33 475.67l8.34 -8.34M218.33 468.33l8.34 8.34M218.33 476.67l8.34 -8.34M250.33 469.33l8.34 8.34M250.33 477.67l8.34 -8.34M243.33 467.33l8.34 8.34M243.33 475.67l8.34 -8.34M245.33 468.33l8.34 8.34M245.33 476.67l8.34 -8.34M237.33 468.33l8.34 8.34M237.33 476.67l8.34 -8.34M245.33 468.33l8.34 8.34M245.33 476.67l8.34 -8.34M205.33 469.33l8.34 8.34M205.33 477.67l8.34 -8.34M240.33 468.33l8.34 8.34M240.33 476.67l8.34 -8.34M229.33 468.33l8.34 8.34M229.33 476.67l8.34 -8.34M211.33 469.33l8.34 8.34M211.33 477.67l8.34 -8.34M242.33 469.33l8.34 8.34M242.33 477.67l8.34 -8.34M227.33 468.33l8.34 8.34M227.33 476.67l8.34 -8.34M223.33 468.33l8.34 8.34M223.33 476.67l8.34 -8.34M231.33 468.33l8.34 8.34M231.33 476.67l8.34 -8.34M248.33 469.33l8.34 8.34M248.33 477.67l8.34 -8.34M244.33 469.33l8.34 8.34M244.33 477.67l8.34 -8.34M209.33 469.33l8.34 8.34M209.33 477.67l8.34 -8.34M256.33 470.33l8.34 8.34M256.33 478.67l8.34 -8.34M246.33 468.33l8.34 8.34M246.33 476.67l8.34 -8.34M248.33 467.33l8.34 8.34M248.33 475.67l8.34 -8.34M233.33 468.33l8.34 8.34M233.33 476.67l8.34 -8.34M209.33 468.33l8.34 8.34M209.33 476.67l8.34 -8.34M240.33 469.33l8.34 8.34M240.33 477.67l8.34 -8.34M215.33 469.33l8.34 8.34M215.33 477.67l8.34 -8.34M212.33 468.33l8.34 8.34M212.33 476.67l8.34 -8.34M219.33 469.33l8.34 8.34M219.33 477.67l8.34 -8.34M234.33 467.33l8.34 8.34M234.33 475.67l8.34 -8.34M211.33 469.33l8.34 8.34M211.33 477.67l8.34 -8.34M250.33 469.33l8.34 8.34M250.33 477.67l8.34 -8.34M244.33 469.33l8.34 8.34M244.33 477.67l8.34 -8.34M232.33 468.33l8.34 8.34M232.33 476.67l8.34 -8.34M222.33 469.33l8.34 8.34M222.33 477.67l8.34 -8.34M213.33 469.33l8.34 8.34M213.33 477.67l8.34 -8.34M255.33 466.33l8.34 8.34M255.33 474.67l8.34 -8.34M220.33 469.33l8.34 8.34M220.33 477.67l8.34 -8.34M252.33 469.33l8.34 8.34M252.33 477.67l8.34 -8.34M248.33 468.33l8.34 8.34M248.33 476.67l8.34 -8.34M205.33 468.33l8.34 8.34M205.33 476.67l8.34 -8.34M240.33 468.33l8.34 8.34M240.33 476.67l8.34 -8.34M233.33 468.33l8.34 8.34M233.33 476.67l8.34 -8.34M221.33 470.33l8.34 8.34M221.33 478.67l8.34 -8.34M207.33 468.33l8.34 8.34M207.33 476.67l8.34 -8.34M245.33 468.33l8.34 8.34M245.33 476.67l8.34 -8.34M222.33 469.33l8.34 8.34M222.33 477.67l8.34 -8.34M203.33 469.33l8.34 8.34M203.33 477.67l8.34 -8.34M215.33 468.33l8.34 8.34M215.33 476.67l8.34 -8.34M247.33 469.33l8.34 8.34M247.33 477.67l8.34 -8.34M209.33 470.33l8.34 8.34M209.33 478.67l8.34 -8.34M256.33 467.33l8.34 8.34M256.33 475.67l8.34 -8.34M248.33 470.33l8.34 8.34M248.33 478.67l8.34 -8.34M213.33 468.33l8.34 8.34M213.33 476.67l8.34 -8.34M216.33 468.33l8.34 8.34M216.33 476.67l8.34 -8.34M252.33 470.33l8.34 8.34M252.33 478.67l8.34 -8.34M219.33 470.33l8.34 8.34M219.33 478.67l8.34 -8.34M232.33 469.33l8.34 8.34M232.33 477.67l8.34 -8.34M224.33 469.33l8.34 8.34M224.33 477.67l8.34 -8.34M227.33 469.33l8.34 8.34M227.33 477.67l8.34 -8.34M244.33 468.33l8.34 8.34M244.33 476.67l8.34 -8.34M239.33 469.33l8.34 8.34M239.33 477.67l8.34 -8.34M252.33 468.33l8.34 8.34M252.33 476.67l8.34 -8.34M204.33 469.33l8.34 8.34M204.33 477.67l8.34 -8.34M255.33 468.33l8.34 8.34M255.33 476.67l8.34 -8.34M206.33 470.33l8.34 8.34M206.33 478.67l8.34 -8.34M252.33 468.33l8.34 8.34M252.33 476.67l8.34 -8.34M212.33 468.33l8.34 8.34M212.33 476.67l8.34 -8.34M210.33 468.33l8.34 8.34M210.33 476.67l8.34 -8.34M231.33 470.33l8.34 8.34M231.33 478.67l8.34 -8.34M254.33 466.33l8.34 8.34M254.33 474.67l8.34 -8.34M252.33 469.33l8.34 8.34M252.33 477.67l8.34 -8.34M226.33 470.33l8.34 8.34M226.33 478.67l8.34 -8.34M250.33 469.33l8.34 8.34M250.33 477.67l8.34 -8.34M239.33 469.33l8.34 8.34M239.33 477.67l8.34 -8.34M217.33 470.33l8.34 8.34M217.33 478.67l8.34 -8.34M202.33 469.33l8.34 8.34M202.33 477.67l8.34 -8.34M246.33 468.33l8.34 8.34M246.33 476.67l8.34 -8.34M225.33 469.33l8.34 8.34M225.33 477.67l8.34 -8.34M223.33 468.33l8.34 8.34M223.33 476.67l8.34 -8.34M209.33 469.33l8.34 8.34M209.33 477.67l8.34 -8.34M220.33 469.33l8.34 8.34M220.33 477.67l8.34 -8.34M202.33 469.33l8.34 8.34M202.33 477.67l8.34 -8.34M229.33 468.33l8.34 8.34M229.33 476.67l8.34 -8.34M251.33 468.33l8.34 8.34M251.33 476.67l8.34 -8.34M224.33 470.33l8.34 8.34M224.33 478.67l8.34 -8.34M224.33 469.33l8.34 8.34M224.33 477.67l8.34 -8.34M255.33 466.33l8.34 8.34M255.33 474.67l8.34 -8.34M205.33 469.33l8.34 8.34M205.33 477.67l8.34 -8.34M221.33 468.33l8.34 8.34M221.33 476.67l8.34 -8.34M257.33 466.33l8.34 8.34M257.33 474.67l8.34 -8.34M219.33 470.33l8.34 8.34M219.33 478.67l8.34 -8.34M244.33 467.33l8.34 8.34M244.33 475.67l8.34 -8.34M226.33 469.33l8.34 8.34M226.33 477.67l8.34 -8.34M253.33 467.33l8.34 8.34M253.33 475.67l8.34 -8.34M214.33 470.33l8.34 8.34M214.33 478.67l8.34 -8.34M256.33 469.33l8.34 8.34M256.33 477.67l8.34 -8.34M240.33 467.33l8.34 8.34M240.33 475.67l8.34 -8.34M259.33 469.33l8.34 8.34M259.33 477.67l8.34 -8.34M214.33 468.33l8.34 8.34M214.33 476.67l8.34 -8.34M205.33 469.33l8.34 8.34M205.33 477.67l8.34 -8.34M247.33 469.33l8.34 8.34M247.33 477.67l8.34 -8.34M216.33 469.33l8.34 8.34M216.33 477.67l8.34 -8.34M211.33 468.33l8.34 8.34M211.33 476.67l8.34 -8.34M205.33 468.33l8.34 8.34M205.33 476.67l8.34 -8.34M230.33 470.33l8.34 8.34M230.33 478.67l8.34 -8.34M206.33 469.33l8.34 8.34M206.33 477.67l8.34 -8.34M221.33 468.33l8.34 8.34M221.33 476.67l8.34 -8.34M239.33 468.33l8.34 8.34M239.33 476.67l8.34 -8.34M248.33 468.33l8.34 8.34M248.33 476.67l8.34 -8.34M238.33 469.33l8.34 8.34M238.33 477.67l8.34 -8.34M227.33 469.33l8.34 8.34M227.33 477.67l8.34 -8.34M220.33 469.33l8.34 8.34M220.33 477.67l8.34 -8.34M232.33 468.33l8.34 8.34M232.33 476.67l8.34 -8.34M244.33 468.33l8.34 8.34M244.33 476.67l8.34 -8.34M252.33 470.33l8.34 8.34M252.33 478.67l8.34 -8.34M206.33 470.33l8.34 8.34M206.33 478.67l8.34 -8.34M205.33 469.33l8.34 8.34M205.33 477.67l8.34 -8.34M203.33 469.33l8.34 8.34M203.33 477.67l8.34 -8.34M253.33 468.33l8.34 8.34M253.33 476.67l8.34 -8.34M235.33 469.33l8.34 8.34M235.33 477.67l8.34 -8.34M223.33 470.33l8.34 8.34M223.33 478.67l8.34 -8.34M218.33 469.33l8.34 8.34M218.33 477.67l8.34 -8.34M230.33 468.33l8.34 8.34M230.33 476.67l8.34 -8.34M210.33 468.33l8.34 8.34M210.33 476.67l8.34 -8.34M232.33 470.33l8.34 8.34M232.33 478.67l8.34 -8.34M216.33 468.33l8.34 8.34M216.33 476.67l8.34 -8.34M228.33 468.33l8.34 8.34M228.33 476.67l8.34 -8.34M226.33 469.33l8.34 8.34M226.33 477.67l8.34 -8.34M234.33 469.33l8.34 8.34M234.33 477.67l8.34 -8.34M240.33 468.33l8.34 8.34M240.33 476.67l8.34 -8.34M225.33 469.33l8.34 8.34M225.33 477.67l8.34 -8.34M207.33 469.33l8.34 8.34M207.33 477.67l8.34 -8.34M232.33 468.33l8.34 8.34M232.33 476.67l8.34 -8.34M257.33 466.33l8.34 8.34M257.33 474.67l8.34 -8.34M219.33 469.33l8.34 8.34M219.33 477.67l8.34 -8.34M224.33 470.33l8.34 8.34M224.33 478.67l8.34 -8.34M259.33 470.33l8.34 8.34M259.33 478.67l8.34 -8.34M227.33 468.33l8.34 8.34M227.33 476.67l8.34 -8.34M226.33 470.33l8.34 8.34M226.33 478.67l8.34 -8.34M246.33 469.33l8.34 8.34M246.33 477.67l8.34 -8.34M257.33 468.33l8.34 8.34M257.33 476.67l8.34 -8.34M219.33 468.33l8.34 8.34M219.33 476.67l8.34 -8.34M203.33 470.33l8.34 8.34M203.33 478.67l8.34 -8.34M222.33 469.33l8.34 8.34M222.33 477.67l8.34 -8.34M202.33 469.33l8.34 8.34M202.33 477.67l8.34 -8.34M205.33 469.33l8.34 8.34M205.33 477.67l8.34 -8.34M206.33 469.33l8.34 8.34M206.33 477.67l8.34 -8.34M258.33 470.33l8.34 8.34M258.33 478.67l8.34 -8.34M208.33 468.33l8.34 8.34M208.33 476.67l8.34 -8.34M259.33 468.33l8.34 8.34M259.33 476.67l8.34 -8.34M219.33 468.33l8.34 8.34M219.33 476.67l8.34 -8.34M237.33 468.33l8.34 8.34M237.33 476.67l8.34 -8.34M210.33 469.33l8.34 8.34M210.33 477.67l8.34 -8.34M230.33 468.33l8.34 8.34M230.33 476.67l8.34 -8.34M209.33 469.33l8.34 8.34M209.33 477.67l8.34 -8.34M258.33 468.33l8.34 8.34M258.33 476.67l8.34 -8.34M237.33 469.33l8.34 8.34M237.33 477.67l8.34 -8.34M218.33 470.33l8.34 8.34M218.33 478.67l8.34 -8.34M247.33 469.33l8.34 8.34M247.33 477.67l8.34 -8.34M242.33 469.33l8.34 8.34M242.33 477.67l8.34 -8.34M211.33 468.33l8.34 8.34M211.33 476.67l8.34 -8.34M220.33 469.33l8.34 8.34M220.33 477.67l8.34 -8.34M224.33 469.33l8.34 8.34M224.33 477.67l8.34 -8.34M244.33 467.33l8.34 8.34M244.33 475.67l8.34 -8.34M230.33 469.33l8.34 8.34M230.33 477.67l8.34 -8.34M229.33 469.33l8.34 8.34M229.33 477.67l8.34 -8.34M242.33 469.33l8.34 8.34M242.33 477.67l8.34 -8.34" stroke="#0000ff" stroke-width="1" fill="none"/>
<g fill="#bf00bf" stroke="#000" stroke-width="0.69">
<circle cx="213.93" cy="473.44" r="4.17"/>
<circle cx="219.08" cy="473.2" r="4.17"/>
<circle cx="217.03" cy="473.75" r="4.17"/>
<circle cx="261.94" cy="472.99" r="4.17"/>
<circle cx="249.67" cy="471.34" r="4.17"/>
<circle cx="251.5" cy="473.95" r="4.17"/>
<circle cx="255" cy="472.78" r="4.17"/>
<circle cx="220.14" cy="473.49" r="4.17"/>
<circle cx="228.46" cy="473.18" r="4.17"/>
<circle cx="243.06" cy="472.97" r="4.17"/>
<circle cx="231.62" cy="473.8" r="4.17"/>
<circle cx="263.15" cy="472.94" r="4.17"/>
<circle cx="218.77" cy="474.01" r="4.17"/>
<circle cx="246.9" cy="471.49" r="4.17"/>
<circle cx="222.15" cy="473.64" r="4.17"/>
<circle cx="209.78" cy="473.35" r="4.17"/>
<circle cx="226.75" cy="473.77" r="4.17"/>
<circle cx="230.8" cy="473.37" r="4.17"/>
<circle cx="213.15" cy="472.76" r="4.17"/>
<circle cx="226.21" cy="472.83" r="4.17"/>
<circle cx="233.5" cy="472.88" r="4.17"/>
<circle cx="260.47" cy="470.93" r="4.17"/>
<circle cx="226.47" cy="473.01" r="4.17"/>
<circle cx="221.75" cy="472.17" r="4.17"/>
<circle cx="234.67" cy="473.77" r="4.17"/>
<circle cx="257.05" cy="474" r="4.17"/>
<circle cx="233.5" cy="472.93" r="4.17"/>
<circle cx="228.04" cy="472.11" r="4.17"/>
<circle cx="225.54" cy="472.09" r="4.17"/>
<circle cx="212.65" cy="473.61" r="4.17"/>
<circle cx="216.95" cy="473.28" r="4.17"/>
<circle cx="255" cy="474.39" r="4.17"/>
<circle cx="226.66" cy="473.97" r="4.17"/>
<circle cx="214.28" cy="473.11" r="4.17"/>
<circle cx="237.99" cy="472.39" r="4.17"/>
<circle cx="248.67" cy="473.41" r="4.17"/>
<circle cx="258.75" cy="473.62" r="4.17"/>
<circle cx="239.65" cy="473.36" r="4.17"/>
<circle cx="258.85" cy="471.94" r="4.17"/>
<circle cx="231.55" cy="473.78" r="4.17"/>
<circle cx="251.83" cy="473.74" r="4.17"/>
<circle cx="257.03" cy="474.73" r="4.17"/>
<circle cx="228.28" cy="474.1" r="4.17"/>
<circle cx="234.97" cy="473.04" r="4.17"/>
<circle cx="208.52" cy="473.32" r="4.17"/>
<circle cx="250.74" cy="472.72" r="4.17"/>
<circle cx="224.65" cy="473.33" r="4.17"/>
<circle cx="210.3" cy="473.41" r="4.17"/>
<circle cx="237.96" cy="472.73" r="4.17"/>
<circle cx="242.92" cy="471.63" r="4.17"/>
<circle cx="242.52" cy="474.1" r="4.17"/>
<circle cx="254.72" cy="472.77" r="4.17"/>
<circle cx="256.18" cy="472.93" r="4.17"/>
<circle cx="215.19" cy="473.1" r="4.17"/>
<circle cx="210.2" cy="473.12" r="4.17"/>
<circle cx="244.37" cy="473.45" r="4.17"/>
<circle cx="252.45" cy="474.24" r="4.17"/>
<circle cx="219.9" cy="474.01" r="4.17"/>
<circle cx="232.81" cy="472.07" r="4.17"/>
<circle cx="243.27" cy="473.8" r="4.17"/>
<circle cx="243.13" cy="472.43" r="4.17"/>
<circle cx="209.26" cy="473.91" r="4.17"/>
<circle cx="245.64" cy="472.22" r="4.17"/>
<circle cx="242.39" cy="473.29" r="4.17"/>
<circle cx="234.97" cy="473.05" r="4.17"/>
<circle cx="261.57" cy="474.59" r="4.17"/>
<circle cx="242.71" cy="472.89" r="4.17"/>
<circle cx="221.3" cy="473.78" r="4.17"/>
<circle cx="251.99" cy="473.01" r="4.17"/>
<circle cx="248.64" cy="474.61" r="4.17"/>
<circle cx="212.37" cy="473.29" r="4.17"/>
<circle cx="245.17" cy="473.55" r="4.17"/>
<circle cx="225.94" cy="473.28" r="4.17"/>
<circle cx="228.85" cy="473.53" r="4.17"/>
<circle cx="218.84" cy="472.77" r="4.17"/>
<circle cx="242.57" cy="473.25" r="4.17"/>
<circle cx="224.93" cy="472.64" r="4.17"/>
<circle cx="254.57" cy="471.13" r="4.17"/>
<circle cx="263.56" cy="471.07" r="4.17"/>
<circle cx="221.07" cy="473.31" r="4.17"/>
<circle cx="250.46" cy="474.26" r="4.17"/>
<circle cx="263.06" cy="470.66" r="4.17"/>
<circle cx="262.64" cy="472.31" r="4.17"/>
<circle cx="228" cy="472.81" r="4.17"/>
<circle cx="215.1" cy="473.31" r="4.17"/>
<circle cx="259.01" cy="472.54" r="4.17"/>
<circle cx="251.01" cy="472.48" r="4.17"/>
<circle cx="257.43" cy="471.93" r="4.17"/>
<circle cx="247.48" cy="472.69" r="4.17"/>
<circle cx="240.02" cy="474.17" r="4.17"/>
<circle cx="245.37" cy="472.67" r="4.17"/>
<circle cx="259.31" cy="473.55" r="4.17"/>
<circle cx="227.45" cy="472.92" r="4.17"/>
<circle cx="245.31" cy="472.19" r="4.17"/>
<circle cx="256.07" cy="474.02" r="4.17"/>
<circle cx="240.77" cy="473.53" r="4.17"/>
<circle cx="256.29" cy="471.52" r="4.17"/>
<circle cx="263.23" cy="472.04" r="4.17"/>
<circle cx="220.02" cy="473.24" r="4.17"/>
<circle cx="230.37" cy="472.01" r="4.17"/>
<circle cx="209.8" cy="473.01" r="4.17"/>
<circle cx="214.11" cy="473.25" r="4.17"/>
<circle cx="213.48" cy="472.82" r="4.17"/>
<circle cx="241.82" cy="473.58" r="4.17"/>
<circle cx="248.19" cy="472.78" r="4.17"/>
<circle cx="233.9" cy="472.26" r="4.17"/>
<circle cx="257.76" cy="472.29" r="4.17"/>
<circle cx="240.08" cy="474.41" r="4.17"/>
<circle cx="230.44" cy="473.35" r="4.17"/>
<circle cx="211.18" cy="473.19" r="4.17"/>
<circle cx="211.56" cy="473.68" r="4.17"/>
<circle cx="233.38" cy="473.19" r="4.17"/>
<circle cx="205.71" cy="473.38" r="4.17"/>
<circle cx="210.33" cy="472.4" r="4.17"/>
<circle cx="242.19" cy="472.64" r="4.17"/>
<circle cx="232.34" cy="472.64" r="4.17"/>
<circle cx="241.3" cy="474.42" r="4.17"/>
<circle cx="234.09" cy="471.78" r="4.17"/>
<circle cx="256.61" cy="473.23" r="4.17"/>
<circle cx="217.73" cy="473.45" r="4.17"/>
<circle cx="259.56" cy="470.44" r="4.17"/>
<circle cx="216.82" cy="472.93" r="4.17"/>
<circle cx="205.28" cy="473.14" r="4.17"/>
<circle cx="244.98" cy="473.57" r="4.17"/>
<circle cx="254.12" cy="473.39" r="4.17"/>
<circle cx="235.31" cy="473.08" r="4.17"/>
<circle cx="253.51" cy="471.83" r="4.17"/>
<circle cx="241.33" cy="471.94" r="4.17"/>
<circle cx="254.33" cy="473.62" r="4.17"/>
<circle cx="236.22" cy="473.48" r="4.17"/>
<circle cx="226.94" cy="473.01" r="4.17"/>
<circle cx="261.02" cy="471.75" r="4.17"/>
<circle cx="210.8" cy="473.47" r="4.17"/>
<circle cx="210.97" cy="472.92" r="4.17"/>
<circle cx="237.03" cy="473.11" r="4.17"/>
<circle cx="205.86" cy="472.73" r="4.17"/>
<circle cx="217.4" cy="472.05" r="4.17"/>
<circle cx="217.39" cy="474" r="4.17"/>
<circle cx="246.02" cy="471.54" r="4.17"/>
<circle cx="223.57" cy="473.99" r="4.17"/>
<circle cx="261.65" cy="471.34" r="4.17"/>
<circle cx="205.38" cy="473.65" r="4.17"/>
<circle cx="237.63" cy="474.32" r="4.17"/>
<circle cx="248.4" cy="473.13" r="4.17"/>
<circle cx="247.55" cy="471.8" r="4.17"/>
<circle cx="222.32" cy="472.67" r="4.17"/>
<circle cx="254.11" cy="473.68" r="4.17"/>
<circle cx="247.66" cy="471.45" r="4.17"/>
<circle cx="249.77" cy="472.79" r="4.17"/>
<circle cx="241.72" cy="472.87" r="4.17"/>
<circle cx="249.95" cy="472.19" r="4.17"/>
<circle cx="209.81" cy="473.05" r="4.17"/>
<circle cx="244.94" cy="472.83" r="4.17"/>
<circle cx="233.95" cy="472.47" r="4.17"/>
<circle cx="215.57" cy="473.38" r="4.17"/>
<circle cx="246.41" cy="473.12" r="4.17"/>
<circle cx="231.93" cy="472.78" r="4.17"/>
<circle cx="227.1" cy="472.73" r="4.17"/>
<circle cx="235.34" cy="472.74" r="4.17"/>
<circle cx="252.75" cy="473.15" r="4.17"/>
<circle cx="248.49" cy="473.49" r="4.17"/>
<circle cx="213.35" cy="473.51" r="4.17"/>
<circle cx="260.72" cy="474.48" r="4.17"/>
<circle cx="250.72" cy="472.55" r="4.17"/>
<circle cx="252.82" cy="471.45" r="4.17"/>
<circle cx="237.78" cy="472.55" r="4.17"/>
<circle cx="213.18" cy="472.47" r="4.17"/>
<circle cx="244.28" cy="473.23" r="4.17"/>
<circle cx="219.34" cy="473.52" r="4.17"/>
<circle cx="216.33" cy="472.79" r="4.17"/>
<circle cx="223.58" cy="473.07" r="4.17"/>
<circle cx="238.17" cy="471.72" r="4.17"/>
<circle cx="215.63" cy="473.41" r="4.17"/>
<circle cx="254.96" cy="473.04" r="4.17"/>
<circle cx="248.83" cy="473.7" r="4.17"/>
<circle cx="236.88" cy="472.55" r="4.17"/>
<circle cx="226.13" cy="473.37" r="4.17"/>
<circle cx="217.43" cy="473.63" r="4.17"/>
<circle cx="259.94" cy="470.72" r="4.17"/>
<circle cx="224.2" cy="473.68" r="4.17"/>
<circle cx="256.98" cy="473.48" r="4.17"/>
<circle cx="252.43" cy="472.21" r="4.17"/>
<circle cx="209.74" cy="472.83" r="4.17"/>
<circle cx="244.57" cy="472.56" r="4.17"/>
<circle cx="237.54" cy="472.67" r="4.17"/>
<circle cx="225.16" cy="474.3" r="4.17"/>
<circle cx="211.04" cy="472.66" r="4.17"/>
<circle cx="249.81" cy="472.86" r="4.17"/>
<circle cx="226.06" cy="473.04" r="4.17"/>
<circle cx="207.42" cy="473.09" r="4.17"/>
<circle cx="219.4" cy="472.38" r="4.17"/>
<circle cx="251.53" cy="473.19" r="4.17"/>
<circle cx="213.56" cy="474.12" r="4.17"/>
<circle cx="260.28" cy="471.12" r="4.17"/>
<circle cx="252.1" cy="474.15" r="4.17"/>
<circle cx="217.9" cy="472.58" r="4.17"/>
<circle cx="220.4" cy="472.91" r="4.17"/>
<circle cx="256.51" cy="474.72" r="4.17"/>
<circle cx="223.74" cy="474.24" r="4.17"/>
<circle cx="236.6" cy="473.8" r="4.17"/>
<circle cx="228.83" cy="473.13" r="4.17"/>
<circle cx="231.19" cy="473.46" r="4.17"/>
<circle cx="248.93" cy="472.03" r="4.17"/>
<circle cx="243.42" cy="473.44" r="4.17"/>
<circle cx="256.08" cy="472.53" r="4.17"/>
<circle cx="208.5" cy="473.58" r="4.17"/>
<circle cx="259.06" cy="472.98" r="4.17"/>
<circle cx="210.92" cy="474.05" r="4.17"/>
<circle cx="256.38" cy="472.85" r="4.17"/>
<circle cx="216.98" cy="472.78" r="4.17"/>
<circle cx="214.64" cy="472.94" r="4.17"/>
<circle cx="235.91" cy="474.14" r="4.17"/>
<circle cx="258.18" cy="470.57" r="4.17"/>
<circle cx="256.62" cy="473.88" r="4.17"/>
<circle cx="230.12" cy="474.28" r="4.17"/>
<circle cx="254.18" cy="473.8" r="4.17"/>
<circle cx="243.9" cy="473.67" r="4.17"/>
<circle cx="221.19" cy="474.08" r="4.17"/>
<circle cx="206.02" cy="473.53" r="4.17"/>
<circle cx="250.26" cy="472.66" r="4.17"/>
<circle cx="229.78" cy="473.05" r="4.17"/>
<circle cx="227.92" cy="472.88" r="4.17"/>
<circle cx="213.08" cy="473.75" r="4.17"/>
<circle cx="224.93" cy="473.47" r="4.17"/>
<circle cx="206.5" cy="473.54" r="4.17"/>
<circle cx="233.23" cy="472.99" r="4.17"/>
<circle cx="255.13" cy="472.16" r="4.17"/>
<circle cx="228.99" cy="474.33" r="4.17"/>
<circle cx="228.05" cy="473.82" r="4.17"/>
<circle cx="259.92" cy="470.4" r="4.17"/>
<circle cx="209.86" cy="473.46" r="4.17"/>
<circle cx="225.54" cy="472.23" r="4.17"/>
<circle cx="261.71" cy="470.77" r="4.17"/>
<circle cx="223.77" cy="474.17" r="4.17"/>
<circle cx="248.59" cy="471.4" r="4.17"/>
<circle cx="230.16" cy="473.94" r="4.17"/>
<circle cx="257.45" cy="471.05" r="4.17"/>
<circle cx="218.15" cy="474.18" r="4.17"/>
<circle cx="260.55" cy="473.05" r="4.17"/>
<circle cx="244.84" cy="471.6" r="4.17"/>
<circle cx="263.46" cy="473.89" r="4.17"/>
<circle cx="218.77" cy="472.18" r="4.17"/>
<circle cx="209.64" cy="473.45" r="4.17"/>
<circle cx="251.82" cy="473.45" r="4.17"/>
<circle cx="220.49" cy="473.68" r="4.17"/>
<circle cx="215.48" cy="472.47" r="4.17"/>
<circle cx="209.95" cy="472.83" r="4.17"/>
<circle cx="234.34" cy="474" r="4.17"/>
<circle cx="210.59" cy="473.86" r="4.17"/>
<circle cx="225.06" cy="472.69" r="4.17"/>
<circle cx="243.1" cy="472.78" r="4.17"/>
<circle cx="252.63" cy="472.06" r="4.17"/>
<circle cx="242.18" cy="473.28" r="4.17"/>
<circle cx="231.48" cy="473.49" r="4.17"/>
<circle cx="224.07" cy="473.41" r="4.17"/>
<circle cx="236.23" cy="472.47" r="4.17"/>
<circle cx="248.73" cy="472.75" r="4.17"/>
<circle cx="256.22" cy="474.13" r="4.17"/>
<circle cx="210.05" cy="474.16" r="4.17"/>
<circle cx="209.96" cy="473.08" r="4.17"/>
<circle cx="207.91" cy="473.06" r="4.17"/>
<circle cx="257.65" cy="472.2" r="4.17"/>
<circle cx="239.41" cy="473.23" r="4.17"/>
<circle cx="227.47" cy="474.16" r="4.17"/>
<circle cx="222.39" cy="473.46" r="4.17"/>
<circle cx="234.8" cy="472.87" r="4.17"/>
<circle cx="214.27" cy="472.64" r="4.17"/>
<circle cx="236.48" cy="474.01" r="4.17"/>
<circle cx="220.75" cy="472.54" r="4.17"/>
<circle cx="232.01" cy="472.99" r="4.17"/>
<circle cx="230.06" cy="473.72" r="4.17"/>
<circle cx="238.96" cy="473.35" r="4.17"/>
<circle cx="244.85" cy="472.72" r="4.17"/>
<circle cx="229.55" cy="473.5" r="4.17"/>
<circle cx="211.51" cy="473.66" r="4.17"/>
<circle cx="236.38" cy="472.71" r="4.17"/>
<circle cx="261.25" cy="470.83" r="4.17"/>
<circle cx="223.7" cy="473.07" r="4.17"/>
<circle cx="228.11" cy="474.32" r="4.17"/>
<circle cx="263.21" cy="474.33" r="4.17"/>
<circle cx="231.3" cy="472.46" r="4.17"/>
<circle cx="230.22" cy="474.34" r="4.17"/>
<circle cx="250.57" cy="473.25" r="4.17"/>
<circle cx="261.54" cy="472.25" r="4.17"/>
<circle cx="223.22" cy="472.78" r="4.17"/>
<circle cx="207.7" cy="474.02" r="4.17"/>
<circle cx="226.37" cy="473.35" r="4.17"/>
<circle cx="206.65" cy="473.1" r="4.17"/>
<circle cx="209.97" cy="473.17" r="4.17"/>
<circle cx="210.2" cy="473.34" r="4.17"/>
<circle cx="262.06" cy="474.51" r="4.17"/>
<circle cx="212.56" cy="472.54" r="4.17"/>
<circle cx="263.2" cy="472.94" r="4.17"/>
<circle cx="223" cy="472.48" r="4.17"/>
<circle cx="241.97" cy="472.73" r="4.17"/>
<circle cx="214.35" cy="473.22" r="4.17"/>
<circle cx="234.5" cy="472.29" r="4.17"/>
<circle cx="213.42" cy="473.28" r="4.17"/>
<circle cx="262.57" cy="472.21" r="4.17"/>
<circle cx="241.15" cy="473.67" r="4.17"/>
<circle cx="222.17" cy="474.2" r="4.17"/>
<circle cx="251" cy="473.67" r="4.17"/>
<circle cx="246.81" cy="473.27" r="4.17"/>
<circle cx="215.43" cy="472.85" r="4.17"/>
<circle cx="224.43" cy="473.47" r="4.17"/>
<circle cx="228.24" cy="473.22" r="4.17"/>
<circle cx="248.47" cy="471.76" r="4.17"/>
<circle cx="234.1" cy="473.2" r="4.17"/>
<circle cx="233.54" cy="473.69" r="4.17"/>
<circle cx="246.99" cy="473.53" r="4.17"/>
</g>
<path d="M100.5 474H382.5" stroke="#00f" stroke-width="1.39" stroke-dasharray="8.33 8.33" fill="none"/>
<path d="M100.5 472.7H382.5" stroke="#f00" stroke-width="1.39" stroke-dasharray="8.33 8.33" fill="none"/>
<path d="M100.5 469.5H382.5M100.5 475.5H382.5" stroke="#00f" stroke-width="1.39" stroke-dasharray="4.17 6.94 1.39 6.94" fill="none"/>
</g>
<rect x="100.5" y="60.5" width="282" height="480" fill="none" stroke="#000" stroke-width="1.39"/>
<path d="M100.5 540.5v-6M137.5 540.5v-6M175.5 540.5v-6M212.5 540.5v-6M250.5 540.5v-6M287.5 540.5v-6M325.5 540.5v-6M363.5 540.5v-6M114.5 60.5v6M152.5 60.5v6M189.5 60.5v6M227.5 60.5v6M265.5 60.5v6M303.5 60.5v6M340.5 60.5v6M378.5 60.5v6M100.5 540.5h6M382.5 540.5h-6M100.5 420.5h6M382.5 420.5h-6M100.5 300.5h6M382.5 300.5h-6M100.5 180.5h6M382.5 180.5h-6M100.5 60.5h6M382.5 60.5h-6" stroke="#000" stroke-width="0.69" fill="none"/>
<text class="t" transform="translate(99.9 559.8) scale(0.96 1.08)" text-anchor="middle">−20</text>
<text class="t" transform="translate(136.9 559.8) scale(0.96 1.08)" text-anchor="middle">−18</text>
<text class="t" transform="translate(174.9 559.8) scale(0.96 1.08)" text-anchor="middle">−16</text>
<text class="t" transform="translate(211.9 559.8) scale(0.96 1.08)" text-anchor="middle">−14</text>
<text class="t" transform="translate(249.9 559.8) scale(0.96 1.08)" text-anchor="middle">−12</text>
<text class="t" transform="translate(286.9 559.8) scale(0.96 1.08)" text-anchor="middle">−10</text>
<text class="t" transform="translate(324.9 559.8) scale(0.96 1.08)" text-anchor="middle">−8</text>
<text class="t" transform="translate(362.9 559.8) scale(0.96 1.08)" text-anchor="middle">−6</text>
<text class="t" transform="translate(113.3 50) scale(0.955 1.08)" text-anchor="middle">14</text>
<text class="t" transform="translate(151.3 50) scale(0.955 1.08)" text-anchor="middle">16</text>
<text class="t" transform="translate(188.3 50) scale(0.955 1.08)" text-anchor="middle">18</text>
<text class="t" transform="translate(226.3 50) scale(0.955 1.08)" text-anchor="middle">20</text>
<text class="t" transform="translate(264.3 50) scale(0.955 1.08)" text-anchor="middle">22</text>
<text class="t" transform="translate(302.3 50) scale(0.955 1.08)" text-anchor="middle">24</text>
<text class="t" transform="translate(339.3 50) scale(0.955 1.08)" text-anchor="middle">26</text>
<text class="t" transform="translate(377.3 50) scale(0.955 1.08)" text-anchor="middle">28</text>
<text class="t" transform="translate(95 544.7) scale(0.95 1.08)" text-anchor="end">0</text>
<text class="t" transform="translate(95 424.7) scale(0.95 1.08)" text-anchor="end">5</text>
<text class="t" transform="translate(95 304.7) scale(0.95 1.08)" text-anchor="end">10</text>
<text class="t" transform="translate(95 64.7) scale(0.95 1.08)" text-anchor="end">20</text>
<text class="l" transform="translate(227.2 29)" text-anchor="middle">FWHM vs magnitudes</text>
<text class="t" transform="translate(241.6 583.5) scale(1 1.08)" text-anchor="middle">magnitude (bottom:isnt / top:calib)</text>
<text class="t" transform="translate(63.8 299.8) rotate(-90) scale(1 1.08)" text-anchor="middle">FWHM (pix)</text>
<g clip-path="url(#c2)">
<g fill="#0000ff" stroke="#000" stroke-width="1.39">
<rect x="438.5" y="342.5" width="0.8" height="65"/>
<rect x="438.5" y="278.5" width="232" height="64"/>
<rect x="438.5" y="214.5" width="32" height="64"/>
<rect x="438.5" y="149.5" width="3" height="65"/>
<rect x="438.5" y="85.5" width="3" height="64"/>
</g>
<path d="M438.5 312.5H720.5" stroke="#000" stroke-width="1.39" stroke-dasharray="8.33 8.33" fill="none"/>
</g>
<rect x="438.5" y="60.5" width="282" height="480" fill="none" stroke="#000" stroke-width="1.39"/>
<path d="M438.5 540.5v-6M438.5 60.5v6M478.5 540.5v-6M478.5 60.5v6M518.5 540.5v-6M518.5 60.5v6M558.5 540.5v-6M558.5 60.5v6M599.5 540.5v-6M599.5 60.5v6M639.5 540.5v-6M639.5 60.5v6M679.5 540.5v-6M679.5 60.5v6M720.5 540.5v-6M720.5 60.5v6M438.5 540.5h6M720.5 540.5h-6M438.5 480.5h6M720.5 480.5h-6M438.5 420.5h6M720.5 420.5h-6M438.5 360.5h6M720.5 360.5h-6M438.5 300.5h6M720.5 300.5h-6M438.5 240.5h6M720.5 240.5h-6M438.5 180.5h6M720.5 180.5h-6M438.5 120.5h6M720.5 120.5h-6M438.5 60.5h6M720.5 60.5h-6" stroke="#000" stroke-width="0.69" fill="none"/>
<text class="t" transform="translate(437.6 559.8) scale(0.97 1.08)" text-anchor="middle">0</text>
<text class="t" transform="translate(477.6 559.8) scale(0.97 1.08)" text-anchor="middle">50</text>
<text class="t" transform="translate(517.6 559.8) scale(0.97 1.08)" text-anchor="middle">100</text>
<text class="t" transform="translate(557.6 559.8) scale(0.97 1.08)" text-anchor="middle">150</text>
<text class="t" transform="translate(598.6 559.8) scale(0.97 1.08)" text-anchor="middle">200</text>
<text class="t" transform="translate(638.6 559.8) scale(0.97 1.08)" text-anchor="middle">250</text>
<text class="t" transform="translate(678.6 559.8) scale(0.97 1.08)" text-anchor="middle">300</text>
<text class="t" transform="translate(719.6 559.8) scale(0.97 1.08)" text-anchor="middle">350</text>
<text class="t" transform="translate(433.2 544.8) scale(0.955 1.08)" text-anchor="end">2.0</text>
<text class="t" transform="translate(433.2 484.8) scale(0.955 1.08)" text-anchor="end">2.2</text>
<text class="t" transform="translate(433.2 424.8) scale(0.955 1.08)" text-anchor="end">2.4</text>
<text class="t" transform="translate(433.2 364.8) scale(0.955 1.08)" text-anchor="end">2.6</text>
<text class="t" transform="translate(433.2 304.8) scale(0.955 1.08)" text-anchor="end">2.8</text>
<text class="t" transform="translate(433.2 244.8) scale(0.955 1.08)" text-anchor="end">3.0</text>
<text class="t" transform="translate(433.2 184.8) scale(0.955 1.08)" text-anchor="end">3.2</text>
<text class="t" transform="translate(433.2 124.8) scale(0.955 1.08)" text-anchor="end">3.4</text>
<text class="t" transform="translate(433.2 64.8) scale(0.955 1.08)" text-anchor="end">3.6</text>
<text class="l" transform="translate(579.9 53)" text-anchor="middle">histogram of FWHM</text>
<text class="t" transform="translate(579.6 583.5) scale(1 1.08)" text-anchor="middle">number of sources</text>
<text class="t" transform="translate(396.2 300) rotate(-90) scale(1 1.08)" text-anchor="middle">FWHM of best-effort PSF-like sources</text>
<rect x="27.5" y="70.5" width="345" height="180" fill="#fff" stroke="#000" stroke-width="1.39"/>
<path d="M37.33 86.5h8.34M41.5 82.33v8.34M65.33 86.5h8.34M69.5 82.33v8.34" stroke="#00bfbf" stroke-width="0.69" fill="none"/>
<path d="M37.33 111.33l8.34 8.34M37.33 119.67l8.34 -8.34M65.33 111.33l8.34 8.34M65.33 119.67l8.34 -8.34" stroke="#0000ff" stroke-width="0.85" fill="none"/>
<circle cx="41.5" cy="144.5" r="4.17" fill="#bf00bf" stroke="#000" stroke-width="0.69"/>
<circle cx="69.5" cy="144.5" r="4.17" fill="#bf00bf" stroke="#000" stroke-width="0.69"/>
<path d="M41.5 173.5H69.5" stroke="#00f" stroke-width="1.39" stroke-dasharray="8.33 8.33" fill="none"/>
<path d="M41.5 202.5H69.5" stroke="#f00" stroke-width="1.39" stroke-dasharray="8.33 8.33" fill="none"/>
<path d="M41.5 231.5H69.5" stroke="#00f" stroke-width="1.39" stroke-dasharray="4.17 6.94 1.39 6.94" fill="none"/>
<text class="l" transform="translate(91.2 92.5) scale(1.005 1)">all sample</text>
<text class="l" transform="translate(91.2 121.5) scale(1.005 1)">sample for rough FWHM</text>
<text class="l" transform="translate(91.2 150.5) scale(1.005 1)">best-effort PSF-like sample</text>
<text class="l" transform="translate(91.2 179.5) scale(1.005 1)">resultant FWHM: 2.76</text>
<text class="l" transform="translate(91.2 208.5) scale(1.005 1)">median FHWM of sequence</text>
<text class="l" transform="translate(91.2 237.5) scale(1.005 1)">sigma range</text>
</svg>
</body></html>
